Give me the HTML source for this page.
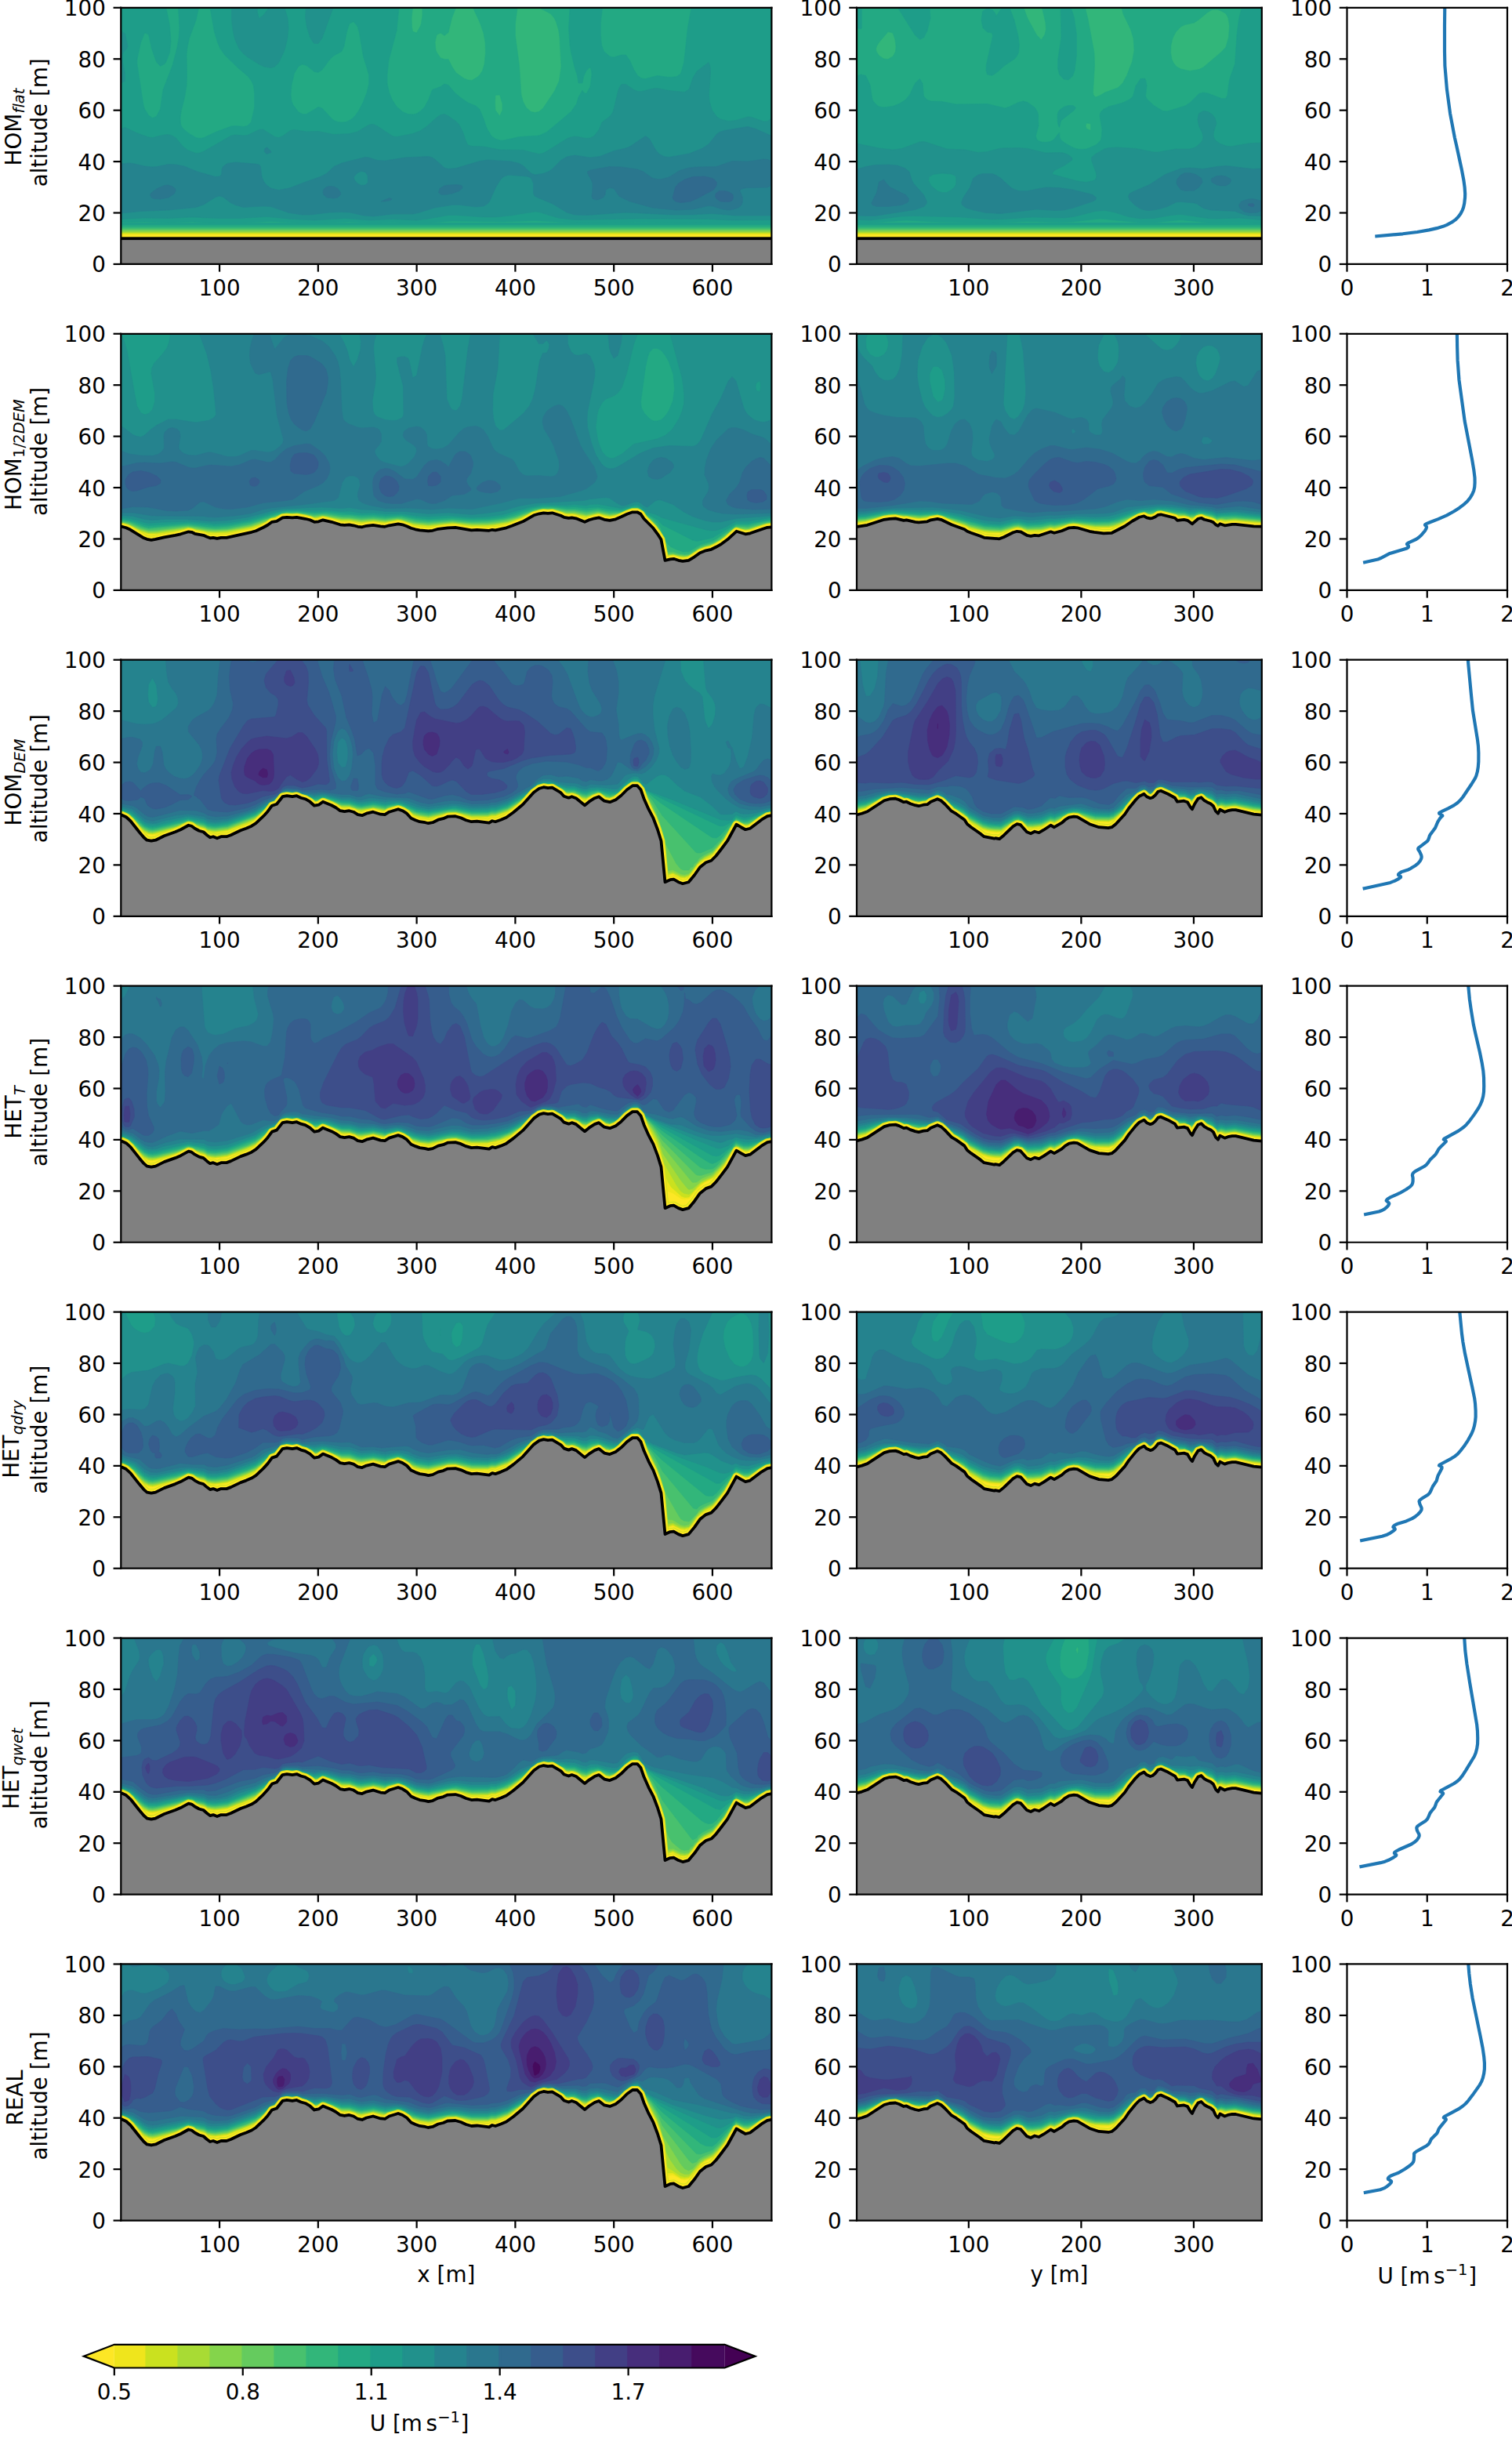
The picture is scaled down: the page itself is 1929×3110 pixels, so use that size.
<!DOCTYPE html>
<html><head><meta charset="utf-8"><title>Wind speed sections</title><style>html,body{margin:0;padding:0;background:#fff;}#fig{display:block;}</style></head><body>
<svg id="fig" xmlns="http://www.w3.org/2000/svg" xmlns:xlink="http://www.w3.org/1999/xlink" width="1929" height="3110" viewBox="0 0 1929 3110">
<defs><path id="a0" d="M293 396l18 0 11 5 11 10 23 29 11 13 8 7 11 2 11-2 22-11 28-10 14-6 20-11 8 2 8 6 11 6 11 3 9 8 8 6 8-2 10 4 10-4 14 0 11-4 25-12 14-5 14-6 11-7 19-18 11-12 11-15 12-4 15-19 11-2 14 2 11-2 11 5 11 3 12 7 11 10 11-2 11-8 22 9 11 6 11 8 11 2 12-2 11 3 11 7 11 2 11-5 17-4 19 6 11 1 11-7 23-7 11 4 11 7 11 12 11 5 11 4 14 2 8 2 11-2 14-7 13-3 11-5 20-1 14 4 13 6 14 4 14-1 31 4 8-5 8 2 14-5 14-6 18-13 24-20 28-31 14-10 11-3 11 2 11-1 22 13 8 9 12 4 8-3 11 4 22 18 11-9 14-9 11-4 14 11 14 3 15-6 14-11 15-15 14-10 12 0 9 10 8 23 12 27 12 23 11 29 9 29 10 105 13-6 9-1 12 7 11 4 15-4 15-18 14-20 15-12 14-5 12-12 14-18 15-20 23-42 12 7 11 6 12-3 29-22 15-9 11-2 16 0"/>
<path id="a0f" d="M293 396l18 0 11 5 11 10 23 29 11 13 8 7 11 2 11-2 22-11 28-10 14-6 20-11 8 2 8 6 11 6 11 3 9 8 8 6 8-2 10 4 10-4 14 0 11-4 25-12 14-5 14-6 11-7 19-18 11-12 11-15 12-4 15-19 11-2 14 2 11-2 11 5 11 3 12 7 11 10 11-2 11-8 22 9 11 6 11 8 11 2 12-2 11 3 11 7 11 2 11-5 17-4 19 6 11 1 11-7 23-7 11 4 11 7 11 12 11 5 11 4 14 2 8 2 11-2 14-7 13-3 11-5 20-1 14 4 13 6 14 4 14-1 31 4 8-5 8 2 14-5 14-6 18-13 24-20 28-31 14-10 11-3 11 2 11-1 22 13 8 9 12 4 8-3 11 4 22 18 11-9 14-9 11-4 14 11 14 3 15-6 14-11 15-15 14-10 12 0 9 10 8 23 12 27 12 23 11 29 9 29 10 105 13-6 9-1 12 7 11 4 15-4 15-18 14-20 15-12 14-5 12-12 14-18 15-20 23-42 12 7 11 6 12-3 29-22 15-9 11-2 16 0V666H293z"/>
<path id="a0n" d="M293 396l18 0 11 5 11 10 23 29 11 13 8 7 11 2 11-2 22-11 28-10 14-6 20-11 8 2 8 6 11 6 11 3 9 8 8 6 8-2 10 4 10-4 14 0 11-4 25-12 14-5 14-6 11-7 19-18 11-12 11-15 12-4 15-19 11-2 14 2 11-2 11 5 11 3 12 7 11 10 11-2 11-8 22 9 11 6 11 8 11 2 12-2 11 3 11 7 11 2 11-5 17-4 19 6 11 1 11-7 23-7 11 4 11 7 11 12 11 5 11 4 14 2 8 2 11-2 14-7 13-3 11-5 20-1 14 4 13 6 14 4 14-1 31 4 8-5 8 2 14-5 14-6 18-13 24-20 28-31 14-10 11-3 11 2 11-1 22 13 8 9 12 4 8-3 11 4 22 18 11-9 14-9 11-4 14 11 14 3 15-6 14-11 15-15 14-10 12 0 9 10 8 23 12 27 12 23 11 29M1848 473l8-11 23-42 12 7 11 6 12-3 29-22 15-9 11-2 16 0"/>
<path id="a1" d="M2170 395l17 0 12-3 14-5 43-28 14-4 15-1 9 3 12 6 7-1 10 5 12 4 9 2 12-3 10-1 9-7 17-7 9 4 10 9 17 18 12 7 21 15 7 11 10 8 23 16 10 8 26 5 3-1 10 2 11-9 24-23 10-6 9 2 16 18 10 4 10-5 11 3 12-7 18-12 9 5 19-11 9-8 10-6 12-2 9 1 31 18 12 4 12 4 12 1 12 1 9-2 10-8 23-25 10-15 9-11 9-11 9-9 12-6 7 7 9 4 6-2 7-6 7-9 7-2 18 8 18 10 6 10 17-2 9 3 7 12 5 6 6-13 9-14 8-3 8 8 7 4 9 4 7 6 6 13 6 6 5-10 12 6 8-3 11-2 9 0 46 11 21 2 16 0"/>
<path id="a1f" d="M2170 395l17 0 12-3 14-5 43-28 14-4 15-1 9 3 12 6 7-1 10 5 12 4 9 2 12-3 10-1 9-7 17-7 9 4 10 9 17 18 12 7 21 15 7 11 10 8 23 16 10 8 26 5 3-1 10 2 11-9 24-23 10-6 9 2 16 18 10 4 10-5 11 3 12-7 18-12 9 5 19-11 9-8 10-6 12-2 9 1 31 18 12 4 12 4 12 1 12 1 9-2 10-8 23-25 10-15 9-11 9-11 9-9 12-6 7 7 9 4 6-2 7-6 7-9 7-2 18 8 18 10 6 10 17-2 9 3 7 12 5 6 6-13 9-14 8-3 8 8 7 4 9 4 7 6 6 13 6 6 5-10 12 6 8-3 11-2 9 0 46 11 21 2 16 0V666H2170z"/>
<path id="b0" d="M293 492l18 0 11 3 11 5 34 21 8 3 11 2 11-2 22-5 28-5 14-3 20-6 8 1 8 4 11 2 11 2 9 4 8 3 8-1 10 2 10-2 14 0 64-14 11-3 19-9 11-6 11-8 12-2 15-9 11-1 14 1 11-1 22 4 12 3 11 5 11-1 11-4 22 5 22 7 11 1 12-1 11 2 11 3 11 1 11-3 17-2 19 3 11 1 11-3 23-4 11 2 11 4 11 5 11 3 11 2 22 2 11-1 14-4 24-3 20-1 41 7 14-1 31 2 8-2 8 1 28-6 14-5 28-11 28-16 14-4 11-2 11 1 11-1 22 7 8 4 12 2 8-1 11 2 22 9 11-5 14-4 11-2 14 5 14 2 15-3 14-6 15-7 14-5 12 0 9 5 8 12 24 24 11 15 9 14 10 53 13-3 9-1 12 4 11 2 15-2 15-9 14-10 15-6 14-3 12-6 14-8 15-11 23-21 23 7 12-2 29-10 15-5 11-1 16 0"/>
<path id="b0f" d="M293 492l18 0 11 3 11 5 34 21 8 3 11 2 11-2 22-5 28-5 14-3 20-6 8 1 8 4 11 2 11 2 9 4 8 3 8-1 10 2 10-2 14 0 64-14 11-3 19-9 11-6 11-8 12-2 15-9 11-1 14 1 11-1 22 4 12 3 11 5 11-1 11-4 22 5 22 7 11 1 12-1 11 2 11 3 11 1 11-3 17-2 19 3 11 1 11-3 23-4 11 2 11 4 11 5 11 3 11 2 22 2 11-1 14-4 24-3 20-1 41 7 14-1 31 2 8-2 8 1 28-6 14-5 28-11 28-16 14-4 11-2 11 1 11-1 22 7 8 4 12 2 8-1 11 2 22 9 11-5 14-4 11-2 14 5 14 2 15-3 14-6 15-7 14-5 12 0 9 5 8 12 24 24 11 15 9 14 10 53 13-3 9-1 12 4 11 2 15-2 15-9 14-10 15-6 14-3 12-6 14-8 15-11 23-21 23 7 12-2 29-10 15-5 11-1 16 0V666H293z"/>
<path id="b0n" d="M293 492l18 0 11 3 11 5 34 21 8 3 11 2 11-2 22-5 28-5 14-3 20-6 8 1 8 4 11 2 11 2 9 4 8 3 8-1 10 2 10-2 14 0 64-14 11-3 19-9 11-6 11-8 12-2 15-9 11-1 14 1 11-1 22 4 12 3 11 5 11-1 11-4 22 5 22 7 11 1 12-1 11 2 11 3 11 1 11-3 17-2 19 3 11 1 11-3 23-4 11 2 11 4 11 5 11 3 11 2 22 2 11-1 14-4 24-3 20-1 41 7 14-1 31 2 8-2 8 1 28-6 14-5 28-11 28-16 14-4 11-2 11 1 11-1 22 7 8 4 12 2 8-1 11 2 22 9 11-5 14-4 11-2 14 5 14 2 15-3 14-6 15-7 14-5 12 0 9 5 8 12 24 24 11 15M1848 531l8-6 23-21 23 7 12-2 29-10 15-5 11-1 16 0"/>
<path id="b1" d="M2170 492l17 0 26-4 43-14 14-2 15-1 21 5 7-1 22 5 9 1 22-2 9-4 17-3 9 2 27 13 33 12 7 5 10 4 23 8 10 4 39 3 11-4 24-12 10-3 9 1 16 9 10 2 10-2 11 1 30-10 9 3 19-5 19-8 12-1 9 1 31 9 12 2 24 3 21-1 33-17 19-13 18-10 12-3 7 4 9 2 6-1 7-3 7-5 7-1 36 9 6 6 17-2 9 2 12 9 15-13 8-2 8 4 16 4 7 3 6 6 6 3 5-5 12 4 19-3 9 0 46 5 37 1"/>
<path id="b1f" d="M2170 492l17 0 26-4 43-14 14-2 15-1 21 5 7-1 22 5 9 1 22-2 9-4 17-3 9 2 27 13 33 12 7 5 10 4 23 8 10 4 39 3 11-4 24-12 10-3 9 1 16 9 10 2 10-2 11 1 30-10 9 3 19-5 19-8 12-1 9 1 31 9 12 2 24 3 21-1 33-17 19-13 18-10 12-3 7 4 9 2 6-1 7-3 7-5 7-1 36 9 6 6 17-2 9 2 12 9 15-13 8-2 8 4 16 4 7 3 6 6 6 3 5-5 12 4 19-3 9 0 46 5 37 1V666H2170z"/></defs>
<clipPath id="c00"><rect x="154.3" y="9.8" width="830.1" height="327.1"/></clipPath>
<g clip-path="url(#c00)">
<rect x="154.3" y="9.8" width="830.1" height="327.1" fill="#fde725"/>
<g transform="scale(0.5)" stroke-width="1.2" fill-rule="evenodd">
<path fill="#efe51c" stroke="#efe51c" d="M309 595l0 3 251 0 1409 0 0-578-1660 0z"/>
<path fill="#cae11f" stroke="#cae11f" d="M309 595l1660 0 0-575-1660 0z"/>
<path fill="#a8db34" stroke="#a8db34" d="M309 592l261 2 413-2 100 2 886-1 0-573-1660 0z"/>
<path fill="#84d44b" stroke="#84d44b" d="M309 589l0 1 261 2 413-3 90 2 896-1 0-570-1660 0z"/>
<path fill="#65cb5e" stroke="#65cb5e" d="M564 589l419-3 90 3 151-2 745 0 0-567-1660 0 0 567 181 0z"/>
<path fill="#48c16e" stroke="#48c16e" d="M567 586l134-3 111 2 171-3 90 3 151-2 91 1 332-1 201 2 121-1 0-564-1660 0 0 563 181 0z"/>
<path fill="#32b67a" stroke="#32b67a" d="M309 579l181 0 80 3 141-4 101 3 80-3 101 0 80 4 141-4 242 2 191-1 211 2 111-2 0-559-1660 0z"/>
<path fill="#23a983" stroke="#23a983" d="M539 576l61 0 101-3 101 3 90-3 111 0 70 4 131-4 101 1 70-1 91 2 181-2 211 3 111-2 0-554-593 0 29 15 10 12 4 9 6 19 3 20 4 75-5 36-12 26-30 45-10 8-10 2-10-2-12-10-8-15-5-18-5-75-10-75 0-33 5-39-113 0 18 39 9 26 4 23 1 26-3 30-5 16-6 10-6 6-15 9-10-1-10-4-20-14-10-15-10-20-10 0-10-3-10-15-2-5-2-20 4-19 10-5 10 7 10-8 9-37 10-26-85 0 0 19-3 20-2 7-10 18-10-4-2-11-1-23 3-26-744 0 0 554 120 1 61-2zM1275 296l-11-15-1-19 1-19 11-1 7 23 0 16z"/>
<path fill="#1e9d89" stroke="#1e9d89" d="M549 569l61 0 81-4 101 5 100-4 61 3 50-2 60 4 91-7 131 2 80-3 105 6 167-2 231 3 101-1 0-549-205 0-9 49-10 91-8 28-10 7-6 1-14 1-30-4-30 8-10-1-10-7-10-16-10-23-10-14-11 0-20 6-10-2-15-13-6-16-2-23 0-36 4-36-83 0-3 52 3 43 2 13 10 44 7 21 3 19 10 0 3-16 7-16 10-9 3 9 1 10-4 31-10 18-7-3-3-6-10 18-5 17-14 20-62 52-20 9-50 3-40 9-10 0-11-4-10-7-12-20-8-24-10-24-10-9-20-8-20-14-14-12-16-19-10-3-10 7-21 8-10 26-9 17-11 11-10 7-10 2-12-1-14-6-15-13-11-17-8-19-5-23 0-23 4-36 20-75 6-59-482 0 11 62 8 26 7 16 12 17 33 32 27 23 9 13 4 10 2 17 0 39-8 36-10 10-10 2-21-2-10 1-40 15-30 14-10 2-10-2-20-12-14-12-5-10-1-16 2-16 9-36 5-30 1-29-1-49 2-20 5-23 17-46 7-32-52 0 3 52-2 26-4 23-12 46-24 62-7 49-10 19-10 4-10-7-10-16-3-10-16-104 0-13 9-42 10-25 10 4 8 36 12 34 10 11 10-5 4-4 10-26 3-29-3-40-9-45-115 0 0 547 60-1 60 2 61-2zM862 311l-10-4-7-6-23-25-10-3-30 18-11 0-10-6-13-17-4-10-2-16 2-26 7-29 10-17 10-6 11 3 20 16 10 2 10-7 20-27 10-9 20-11 6-13 6-33 6-20 2-5 10-5 10 12 5 18 10 59 14 46 0 26-5 20-10 26-10 19-9 13-10 10-14 7-11 1z"/>
<path fill="#21918c" stroke="#21918c" d="M745 559l57 3 80-5 60 5 61-3 60 3 25-3 56-10 20 0 70 5 30 0 39-4 62-10 10 1 49 15 42 5 161-3 181 1 60 3 101-1 0-260-10 8-10 1-31-11-10-1-30 9-20 2-20-5-9-6-12-17-7-23-1-19 4-56-1-13-4-11-30 23-10 17-10 29-11 7-40-4-30-6-10 1-30 7-10 0-10-4-20-14-11 0-5 7-4 10-11 47-3 9-7 9-20 15-7 18-13 17-10 5-10 1-20-4-10-1-10 2-10 4-51 32-10 5-10 2-40-10-60-1-41-8-30-1-10-3-4-7-9-26-10-20-7-7-20-14-10-5-10 2-10 7-27 24-15 10-19 7-40 8-10-1-40-26-10-5-11 1-30 18-20 5-40 2-40-8-30 1-31-5-10 2-20 14-10 4-10-2-30-19-10 1-30 14-10 1-21-2-10 2-70 40-10 4-10 1-21-8-13-10-17-21-10-6-10-3-10 1-30 7-10-1-28-10-32-15-10 4 0 230 60-3 60 1 61-3 70 3 50 0 71-4zM309 209l0 3 10-5 0-19-6-28-1-19 2-7 10-10 2-6-7-32-7-4-3-6zM673 170l18 3 10-3 10-10 14-29 8-30 3-29-2-26-8-26-40 0-15 20-10 7-4-14-1-13-65 0 0 32 4 30 5 20 10 22 11 13 10 8 30 19zM799 108l3 3 10 0 10-14 28-77-69 0-2 23 4 26 8 26zM309 23l0 3 1-6z"/>
<path fill="#25838e" stroke="#25838e" d="M928 550l25 2 50-6 50 0 15-3 41-13 45-7 20 0 40 5 20-2 10-6 5-6 16-36 12-20 8-7 10-4 10 0 40 3 10 4 6 14 0 26 4 7 45 19 36 22 20 6 30 1 101-7 120 6 41 0 60-3 60 5 91 0 0-203-40-18-21-6-60 10-12 4-8 6-20 25-17 11-33 13-51 9-13-2-12-6-10-12-15-27-10-7-40 27-10 4-31 7-35 14-25 3-40-6-20 4-15 9-23 23-9 6-14 5-20 3-10-4-20-19-10-6-20-5-61-4-20 3-60 18-20 2-10-3-25-22-6-4-10-3-60 3-50 8-20-1-21-7-10-1-60 15-20 9-18 17-17 9-40 14-36 14-30 6-20-5-12-9-7-10-4-10-3-26-4-5-10-2-51-4-20 3-11 8-3 7-1 13-2 3-3 2-10 1-46-13-34-14-21-4-20-1-28 6-12 1-20-2-30-7-10-1-20 2 0 126 50-5 70-3 71-7 20-7 30-19 10-3 10 3 18 14 12 6 21 6 50-3 20 1 46 16 34 5 21 0 50-6 30-1 20 1zM922 473l-10-5-8-10-1-7 9-10 10-4 10 2 6 9 1 17-7 7zM680 393l12-4-1-4-10-9-5 3-2 7z"/>
<path fill="#2a778e" stroke="#2a778e" d="M1725 536l43-2 40-9 10 1 22 7 18 3 10-1 16-5 8-7 3-9 0-10-7-17 1-3 7-3 12-2 51-1 10-6 0-61-10-4-10-1-41 6-40-1-40 14-50 1-20 2-24 7-27 17-20 5-10 0-13-3-22-16-15-6-41-6-31-1-49 9-7 4 0 4 9 16 4 10 0 13-2 20 2 6 4 2 10 1 13-6 5-7 2-13 10-5 10 2 14 20 27 13 58 16zM972 514l11 0 10-2 5-2 2-3-7-2zM394 507l15 1 21-4 15-10 3-7-1-6-8-6-10-3-10 1-20 9-12 9-4 6 3 7zM834 504l18 2 10-2 7-7 0-6-7-10-10-5-10-1-10 2-7 7-1 7 2 6zM1133 497l21-3 18-7 7-6 1-3-1-4-5-2-10-1-20 1-11 2-11 7-3 10 5 5z"/>
<path fill="#306a8e" stroke="#306a8e" d="M1724 514l13 3 10-1 14-2 17-7 43-23 7-10 1-9-6-7-5-3-20-5-30 1-21 7-16 10-8 10-7 26 3 6zM1838 514l20 1 10-3 3-8-1-7-3-3-9-5-10-2-13 0-9 7-1 7 3 6z"/>
</g></g>
<g clip-path="url(#c00)"><g transform="translate(0 9.84)">
<rect x="149.3" y="274.39" width="840.1" height="20.00" fill="#1e9d89"/>
<rect x="149.3" y="276.89" width="840.1" height="17.50" fill="#23a983"/>
<rect x="149.3" y="279.39" width="840.1" height="15.00" fill="#32b67a"/>
<rect x="149.3" y="281.39" width="840.1" height="13.00" fill="#48c16e"/>
<rect x="149.3" y="282.89" width="840.1" height="11.50" fill="#65cb5e"/>
<rect x="149.3" y="284.39" width="840.1" height="10.00" fill="#84d44b"/>
<rect x="149.3" y="285.89" width="840.1" height="8.50" fill="#a8db34"/>
<rect x="149.3" y="287.19" width="840.1" height="7.20" fill="#cae11f"/>
<rect x="149.3" y="288.39" width="840.1" height="6.00" fill="#efe51c"/>
<rect x="149.3" y="289.59" width="840.1" height="4.80" fill="#fde725"/>
<rect x="149.3" y="294.39" width="840.1" height="37.71" fill="#808080"/>
<rect x="149.3" y="292.49" width="840.1" height="3.8" fill="#000"/>
</g></g>
<clipPath id="c01"><rect x="1093.0" y="9.8" width="516.8" height="327.1"/></clipPath>
<g clip-path="url(#c01)">
<rect x="1093.0" y="9.8" width="516.8" height="327.1" fill="#fde725"/>
<g transform="scale(0.5)" stroke-width="1.2" fill-rule="evenodd">
<path fill="#efe51c" stroke="#efe51c" d="M2186 595l0 3 1034 0 0-578-1034 0z"/>
<path fill="#cae11f" stroke="#cae11f" d="M2186 595l1034 1 0-576-1034 0z"/>
<path fill="#a8db34" stroke="#a8db34" d="M2186 592l1034 1 0-573-1034 0z"/>
<path fill="#84d44b" stroke="#84d44b" d="M2186 589l0 2 1034 0 0-571-1034 0z"/>
<path fill="#65cb5e" stroke="#65cb5e" d="M2186 586l0 2 115-2 172 2 322-2 126 2 299 0 0-568-1034 0z"/>
<path fill="#48c16e" stroke="#48c16e" d="M2186 582l0 2 11 0 104-2 184 2 321-2 115 3 92-2 207 1 0-564-1034 0z"/>
<path fill="#32b67a" stroke="#32b67a" d="M2186 579l23 1 92-3 80 2 150 1 91-2 92 2 92-3 115 3 92-2 69 2 138 0 0-560-1034 0z"/>
<path fill="#23a983" stroke="#23a983" d="M2186 572l0 3 23 0 103-4 69 3 161 1 80-2 92 1 92-4 115 5 92-4 69 4 92-1 46 1 0-555-358 0 4 16 19 39 7 23 2 30-5 29-14 36-11 20-12 11-33 12-13 8-11 4-5-6-1-6 4-69-1-33-16-85-7-29-110 0 9 39 1 16-3 13-9 14-12-13-23-42-10-27-426 0zM2266 151l-11-1-12-8-7-11-1-7 2-6 6-10 23-27 12 3 6 17 2 17-1 13-5 10-2 3zM2783 333l-11-5-2-7 2-7 11 2zM3036 181l-23-5-11-6-8-10-4-9-3-17 1-19 4-17 8-16 13-14 11-5 23-5 12-8 23-19 11-6 12-1 11 4 9 5 4 3 5 10 3 19-2 30-7 25-12 13-46 39-11 5z"/>
<path fill="#1e9d89" stroke="#1e9d89" d="M2196 569l36-1 80-6 69 4 150 3 91-4 81 2 34-1 69-8 104 10 34 0 69-7 69 7 92-1 46 2 0-404-2-11 2-20 0-114-52 0-7 29-5 39-5 75-14 40-5 39-4 9-12 0-34-13-12-2-11 3-23 23-12 8-46 14-11-1-23-14-18-17-3-7 3-26-2-13-3-6-11 1-12 18-7 26-6 7-20 10-36 10-12 6-8 7-3 9 6 36-1 17-2 10-5 6-8 7-24 10-12 1-11-1-12-4-18-10-12-9-3-7-1-12-15 19-8 4-12 2-11-1-11-5-3-10 7-26-1-30-2-6-6-10-19-14-11-3-12 3-23 11-11 4-46-11-80 1-35-7-29-1-9-3-9-10-3-32-7-12-12 11-14 30-11 13-16 10-16 6-23 3-12-2-6-4-9-10-3-9-5-33-11-23-12-3-11 4 0 375zM2702 324l1 1 4-17 34-27 4-6-3-3-5-3-11 0-12 4-11 8-4 7-1 10 1 16zM2719 203l7 1 11-10 5-14 5-39 0-53-6-42-4-14-5-12-26 0 2 75-9 59 0 19 4 17 11 12zM2519 190l12 3 11-7 23-20 23-15 6-7 5-10 2-19-3-23-10-41-12-31-20 0-14 21-3-8-6-7-14-5-12 8-3 23 4 19 11 11 12 2 2 8-16 72-1 16zM2344 98l3 3 11-6 8-16 8-33-2-26-81 0 44 70zM2188 72l9 2 2-5 0-49-13 0 0 52z"/>
<path fill="#21918c" stroke="#21918c" d="M2186 559l0 2 11 0 23 1 81-10 34-1 115 3 81 6 31-1 72-5 80 2 26-3 55-14 23-2 23 4 38 12 31 5 34-1 46-8 23-2 69 10 23 1 57-2 58 5 0-197-35 2-46 8-11-2-16-6-12-9-4-10 1-10 7-23-4-13-7-9-6-4-5-3-12-2-11 7-3 14 3 17 9 19 2 13-5 10-11 10-7 4-11 3-35 0-46 8-11 0-46-9-46-3-23 1-11 3-23 13-10 9 0 7 12 33 1 9-3 7-6 3-17 4-23-3-62-17-2-3 5-7 26-13 19-13 1-3-1-4-9-7-12-5-11-1-35 1-46-11-23-2-45 1-35 9-23 2-34-7-46-2-58-19-11 1-46 17-23 3-35-4-57-12zM2404 491l-11-3-17-14-7-13 2-10 10-6 23-3 23 2 9 4 3 3 1 10-1 10-4 7-11 9-8 4z"/>
<path fill="#25838e" stroke="#25838e" d="M2192 550l17 1 23 0 103-16 23-8 6-7 1-6-8-17-26-29-5-10-6-20-11-9-20-7-23-2-34 1-23 4-23 7 0 117zM3185 550l35 1 0-121-23 1-69-8-23 2-35 6-34-3-23 2-40 15-40 26-46 20-5 3-3 7 3 9 13 13 15 10 11 3 11 1 23-3 24-7 22-11 12-1 34 3 7 2 16 11 19 5 62 3 19 7zM2516 543l38 2 91-11 46 3 23-1 23-5 51-17 7-4 2-3 0-3-9-7-10-3-41-10-34-5-35-1-46 9-23 0-11-4-9-5-25-23-12-8-11-4-23 0-12 3-13 9-8 23-17 26-5 13 2 6 9 7 19 6z"/>
<path fill="#2a778e" stroke="#2a778e" d="M3189 543l19-1 12-5 0-24-23-6-12 1-18 6-6 9 2 7 11 10zM2237 527l29 0 35-4 14-6 3-3 1-7-8-10-39-19-10-10-7-10-12 6-6 27-13 26 0 3 2 3zM3024 487l23-1 12-8 9-13-2-10-15-10-15-4-12 0-11 5-10 12-1 10 3 6 8 10zM3114 474l14 0 10-6 3-7-2-5-11-6-12-2-11 1-13 6-2 3 2 7 13 7z"/>
<path fill="#306a8e" stroke="#306a8e" d="M3192 527l5 1 4-5-4-4-12 1 0 4z"/>
</g></g>
<g clip-path="url(#c01)"><g transform="translate(0 9.84)">
<rect x="1088.0" y="274.39" width="526.8" height="20.00" fill="#1e9d89"/>
<rect x="1088.0" y="276.89" width="526.8" height="17.50" fill="#23a983"/>
<rect x="1088.0" y="279.39" width="526.8" height="15.00" fill="#32b67a"/>
<rect x="1088.0" y="281.39" width="526.8" height="13.00" fill="#48c16e"/>
<rect x="1088.0" y="282.89" width="526.8" height="11.50" fill="#65cb5e"/>
<rect x="1088.0" y="284.39" width="526.8" height="10.00" fill="#84d44b"/>
<rect x="1088.0" y="285.89" width="526.8" height="8.50" fill="#a8db34"/>
<rect x="1088.0" y="287.19" width="526.8" height="7.20" fill="#cae11f"/>
<rect x="1088.0" y="288.39" width="526.8" height="6.00" fill="#efe51c"/>
<rect x="1088.0" y="289.59" width="526.8" height="4.80" fill="#fde725"/>
<rect x="1088.0" y="294.39" width="526.8" height="37.71" fill="#808080"/>
<rect x="1088.0" y="292.49" width="526.8" height="3.8" fill="#000"/>
</g></g>
<clipPath id="c10"><rect x="154.3" y="425.8" width="830.1" height="327.1"/></clipPath>
<g clip-path="url(#c10)">
<rect x="154.3" y="425.8" width="830.1" height="327.1" fill="#fde725"/>
<g transform="scale(0.5)" stroke-width="1.2" fill-rule="evenodd">
<path fill="#efe51c" stroke="#efe51c" d="M1699 1421l18-2 20 4 21 0 16-9 2-3 9-3 3-5 38-12 19-10 1-3 9-3 3-5 5-2 5-7 7-2 3-8 20 5 10 0 10-2 33-12 18-4 0-486-1660 0 0 486 20 5 39 19 21 3 60-8 31-6 10 0 20 6 30 5 40-1 71-15 36-14 4-4 27-9 3-3 10-1 30 0 21 3 20 7 10 0 10-3 10 0 40 9 30 1 20 3 31-3 30 3 20-4 20 0 30 10 20 3 30 0 51-6 50 6 40 0 31-3 30-7 24-8 22-10 4-3 20-8 40 0 31 9 20 1 20 5 10 1 20-6 10 0 30 6 30-6 9-5 22-8 10 0 10 7 30 33 13 17 7 11 8 47z"/>
<path fill="#cae11f" stroke="#cae11f" d="M1732 1421l15 1 11-1 30-19 34-11 18-10 23-16 15-15 20 4 10 0 41-13 20-4 0-485-1660 0 0 485 20 4 28 14 22 7 20 0 81-13 40 7 10 3 20 1 30-1 61-12 32-11 18-9 23-8 7-4 10-1 30 0 21 3 20 6 20-3 10 0 40 9 20 0 30 4 31-2 30 3 33-5 17 3 22 7 38 4 61-6 50 5 40 0 20-2 31-5 30-10 40-18 20-4 30 1 31 8 20 1 30 6 30-7 20 5 10 2 10-2 20-4 31-12 10 1 7 4 33 34 18 25 3 7 9 47 20-2z"/>
<path fill="#a8db34" stroke="#a8db34" d="M1737 1421l21-2 30-18 31-10 32-19 27-23 20 4 10 0 41-13 20-4 0-484-1660 0 0 483 20 5 30 14 20 6 20 0 61-8 20-4 40 6 10 3 20 1 30-1 61-12 30-10 50-21 10-1 30 0 21 3 20 6 20-4 10 1 40 8 20 0 30 5 31-3 30 3 30-5 10 1 30 9 40 4 61-6 50 5 40 0 20-2 31-5 30-10 40-17 20-4 30 1 31 7 20 1 30 6 30-6 30 6 30-6 31-10 10 0 7 4 33 34 19 26 11 53 20-2z"/>
<path fill="#84d44b" stroke="#84d44b" d="M1729 1417l18 3 11-2 30-19 30-9 31-18 29-24 20 3 10 0 41-13 20-3 0-483-1660 0 0 482 20 4 30 14 20 6 20-1 81-11 50 9 20 1 30-2 61-11 30-10 50-20 10-1 30 0 21 2 20 6 20-3 10 0 40 8 20 0 30 5 31-3 30 3 30-4 10 0 35 10 35 3 61-6 50 5 40 0 20-2 31-5 30-10 40-16 20-5 30 2 31 7 20 0 30 6 30-6 30 6 30-5 31-10 10 0 7 4 33 33 14 18 7 13 9 48 20-2z"/>
<path fill="#65cb5e" stroke="#65cb5e" d="M1736 1417l11 1 11-2 30-18 30-10 20-11 40-31 20 3 10 0 41-12 20-4 0-481-1660 0 0 480 20 5 30 13 20 5 20 0 81-11 50 9 20 1 30-2 61-11 30-10 50-19 10-2 30 1 21 2 20 5 20-3 10 1 40 7 20 0 30 4 31-2 30 3 30-4 10 1 30 8 40 4 61-6 50 5 39 0 21-2 31-5 30-10 40-16 20-4 30 1 31 7 20 0 30 6 30-6 30 6 30-4 31-11 10 0 7 4 33 33 14 17 7 13 9 50 20-2z"/>
<path fill="#48c16e" stroke="#48c16e" d="M1731 1414l16 2 11-1 30-20 30-9 20-11 40-31 30 3 41-12 20-4 0-479-1660 0 0 478 20 4 30 13 20 6 19-1 82-10 50 8 20 1 30-1 61-12 80-28 10-1 30 0 21 2 20 5 20-3 10 1 40 6 20 1 30 4 31-2 30 3 30-4 10 1 40 9 30 2 61-5 50 5 40-1 41-5 30-8 50-19 20-3 30 0 31 6 20 0 30 6 30-5 30 6 30-4 31-10 10 0 7 4 33 31 14 17 7 13 9 50 20-1z"/>
<path fill="#32b67a" stroke="#32b67a" d="M1729 1411l18 3 11-2 30-19 30-9 10-6 50-36 30 2 41-11 20-4 0-477-1660 0 0 476 20 4 30 12 20 5 101-9 50 7 20 2 30-2 61-11 80-27 10-2 30 0 41 6 20-2 10 0 40 7 20 0 30 4 31-2 30 3 30-3 10 0 40 9 30 2 61-4 50 4 40-1 41-5 30-7 50-18 20-4 30 0 31 5 20 0 30 5 30-4 30 6 30-2 31-11 10 1 7 3 10 11 23 18 14 17 7 14 9 49 20-1z"/>
<path fill="#23a983" stroke="#23a983" d="M1743 1408l15-1 30-18 30-9 10-6 50-35 30 1 41-10 20-3 0-475-1660 0 0 474 20 3 40 15 10 2 101-9 50 7 20 1 30-2 61-11 80-25 10-1 30-1 41 5 30-2 40 6 20 0 30 4 31-1 30 3 40-3 40 8 30 3 61-4 50 4 40-1 41-5 24-6 56-19 20-3 20-1 41 5 20 0 30 4 30-4 22 5 18 1 20-1 31-9 10 0 7 3 12 13 21 14 13 13 7 12 8 30 10 10 6 6 13 6z"/>
<path fill="#1e9d89" stroke="#1e9d89" d="M1767 1378l11 3 40-9 60-36 30 0 61-12 0-472-1660 0 0 471 30 6 30 10 10 2 101-7 70 7 30-2 58-10 53-16 30-9 10-1 30 0 41 4 30-2 90 9 31-1 30 3 40-2 40 7 30 3 61-4 50 4 40-1 41-5 71-22 29-5 30 0 31 3 20-1 30 4 10-2 20-1 30 5 30 2 31-10 10 0 7 4 16 15 28 16 12 13zM1672 1074l-5 0-10-6-13-14-7-13-2-16 12-88 6-27 4-11 7-7 3-3 10 0 10 5 10 12 10 18 11 32 3 36-4 30-10 25-10 15-10 9-10 3z"/>
<path fill="#21918c" stroke="#21918c" d="M1802 1352l16 2 10-1 20-7 30-16 30 0 61-10 0-468-259 0 30 111 4 26 2 23-1 19-4 17-8 19-18 29-18 15-21 9-59 13-31 26-20 10-10 0-10-5-10-12-10-26-6-36 4-32 2-11 10-19 10-10 20-8 10-7 10-13 13-37 18-75 10-26-1192 0-3 19-6 17-12 16-21 23-6 13-1 13 9 49 0 23-6 20-10 10-10 3-10-5-10-18-25-141-8-26-7-16 0 467 30 5 30 9 10 2 40-3 61-2 70 6 30-2 51-8 60-17 40-8 30-1 41 2 30-1 40 4 20-1 30 5 31-1 30 3 40-1 40 6 30 2 51-3 60 5 40-2 38-5 70-20 33-6 61 2 20-2 30 3 10-3 20-1 60 11 31-9 10-1 7 4 18 15 25 8 13 7zM1939 1000l-10-4-1-10 1-8 10-7 2 15z"/>
<path fill="#25838e" stroke="#25838e" d="M1820 1332l18 0 40-9 91-7 0-246-8 4-12 3-10-1-15-5-16-13-7-10-4-10-19-66-10-11-10 12-20 46-20 35-30 69-10 12-10 4-61-2-40 6-33 13-58 35-10 4-10 1-10-3-10-8-15-23-12-32-10-40-1-19 1-20 18-88 1-17-3-16-9-21-10-7-20 5-10-2-9-8-8-19 0-26-89 0 15 25 10 0 10-9 7 10-1 10-6 12-10 1-8 19-11 72-7 26-8 17-16 20-50 42-10 1-11-12-5-19-2-22 1-40 12-65 5-88-74 0-7 37-15 129-5 18-10 12-10-3-4-4-10-23-4-111-6-29-8-26-32 0-7 14-5 18-15 74-10 6-9-44-3-6-8-4-10 0-10 3 0 11 16 62 1 68-1 7-5 6-11 5-10 1-20-2-19-7-8-6-4-10-2-26 7-40 2-22-6-72 2-17 5-19-42 0 3 19-1 20-8 27-10 18-10-18-5-21-9-23-13-22-356 0 19 52 10 42 7 46 5 49 1 17-4 6-7 5-10 4-30 5-51-8-20 0-28 14-18 13-14 13-10 5-10-2-10-4-30-23 0 229 30 2 30 8 20 2 30-2 61 0 60 5 40-2 55-9 56-15 30-6 101-4 50 3 20-2 30 5 31 1 30 4 50 0 60 6 51-3 60 5 40-4 41-6 40-12 40-7 125-7 16-4 40-4 10 2 17 12 13 7 11-1 20-8 10-1 7 3 10 8 8 3 20-16 10-3 5 1 30 11 28 19 23 12 30 10zM1564 910l2 4 10-7 9-33 2-22-35 0 3 36 4 13z"/>
<path fill="#2a778e" stroke="#2a778e" d="M529 1319l21 1 50-4 40-6 31-10 20-4 80-8 82-11 10-7 10-39 9-13 10-4 10 0 10 4 5 6 2 14-6 19 0 10 3 10 9 6 17 6 41 8 60-1 60 4 41-4 60 3 76-16 45-12 50 0 54-4 57-16 10-4 21-16 6-10 1-6-8-24-26-39-9-16-25-67-10-21-10-12-11-4-15 6-15 11-9 15-2 13 4 17 17 28 7 14 14 39 1 13-1 10-4 10-7 6-10 2-30-3-30 1-10-3-10-9-12-23-6-7-32-14-11-7-6-8-14-31-10-15-10-7-10-3-20 2-10 4-12 10-28 32-13 8-17 3-11-1-11-6-2-6-1-23-4-10-7-6-5-4-10-2-20 4-12 8-3 10 3 7 5 6 20 13 6 7 1 9-6 14-15 16-9 6-10 3-45-12-7-4-6-6-7-10-2-7 2-6 9-10 6-10 0-19-5-10-5-4-10-3-31 2-10-2-23-9-10-7-4-7-3-22-3-76-3-29-4-17-7-16-16-23-17-14-30-13-27-5-25 0-15 9-24 30-14-39-38 0-6 16-5 20-1 19 2 20 12 25 10 4 20-6 10-2 0 2 5 19 11 92 16 59-1 10-8 9-13 10-10 4-10 1-30-5-10 0-31 14-10 2-20 0-40-11-10 0-30 8-20-1-13-5-10-10-1-7 4-26-2-13-7-6-12-3-10 3-9 9-2 10 1 30-6 9-9 7-15 4-31-1-29-4-20-8 0 158 30 0 50 8 131 1zM1844 1310l34 2 91-3 0-173-10-11-10-8-31-10-20-10-20-6-10 0-10 3-30 29-15 23-10 26-4 20-1 19 10 23 1 10-2 10-14 23 0 10 3 6 10 7 19 6zM1664 1221l13 2 10-3 23-15 9-13-1-7-4-6-15-10-12-2-10 2-10 5-10 12-5 16 3 13z"/>
<path fill="#306a8e" stroke="#306a8e" d="M426 1303l23 1 31-2 12-6 18-15 10-1 30 14 20 4 20 1 41-5 40-11 60-6 16-3 7-4 22-16 36-15 13-8 9-10 6-13 2-13-2-13-11-20-14-13-23-16-10-1-31 5-20 8-14 11-16 17-10 6-10 0-30-7-10 1-31 13-20 4-50-4-10 1-30 7-10 0-10-2-31-13-10-1-30 4-40-2-20 1-40 10 0 107 30-5 40 1zM1921 1300l48-1 0-109-20-21-10-2-10 4-11 6-15 15-8 13-8 26-9 14-16 15-9 17 4 10 11 6 10 3zM983 1283l20 2 20 0 40-12 10 1 20 9 10 2 11-1 20-7 20-13 30-3 8-4 9-6 1-4-8-10-4-9 1-7 10-13 6-20 0-9-6-17-7-6-7-4-14 0-9 5-4 5-16 30-6-7-14-9-10-3-14 2-7 3-10 9-20 30-10 6-20-1-27-20-13-6-10-1-13 3-9 7-8 13-2 13 1 20 2 13 4 6 7 7zM1240 1257l14 1 16-4 7-7-1-9-12-10-10-2-10 0-13 5-13 10-2 6 3 4 7 3zM781 1100l11-6 10-19 30-72 4-21 1-19-5-21-10-13-7-5-23-14-10-3-21 0-10 3-10 10-6 20-4 33 1 55 4 23 7 20 8 11 10 8 10 7z"/>
<path fill="#365d8d" stroke="#365d8d" d="M1915 1280l14 3 18-3 9-6 0-10-7-11-4-2-6-2-21 0-10 6-2 9 2 12zM991 1267l12-1 8-6 6-9 1-10-5-13-10-9-10-4-10-1-11 7-4 13 0 10 5 13 10 8zM331 1251l8 2 10-1 30-10 20-3 10-6 1-9-11-10-20-9-20-4-20 3-11 7-8 13 0 10 2 7 4 6zM648 1241l9-3 5-7-1-7-10-6-10 2-5 8 3 10zM1093 1238l0 1 10 1 11-2 10-8 0-15-10-11-11 1-10 10-2 13zM750 1208l32 3 10-2 10-4 8-10 2-7 0-10-5-9-5-7-6-3-14-4-21 1-10 3-7 10-4 19 2 14z"/>
</g></g>
<g clip-path="url(#c10)"><g transform="translate(0 425.78) scale(0.5)" fill="none" stroke-linejoin="round">
<use href="#b0" stroke="#cae11f" stroke-width="20.0"/>
<use href="#b0" stroke="#efe51c" stroke-width="17.2"/>
<use href="#b0" stroke="#fde725" stroke-width="14.4"/>
<use href="#b0f" fill="#808080"/>
<use href="#b0" stroke="#000" stroke-width="7.6"/>
</g></g>
<clipPath id="c11"><rect x="1093.0" y="425.8" width="516.8" height="327.1"/></clipPath>
<g clip-path="url(#c11)">
<rect x="1093.0" y="425.8" width="516.8" height="327.1" fill="#fde725"/>
<g transform="scale(0.5)" stroke-width="1.2" fill-rule="evenodd">
<path fill="#efe51c" stroke="#efe51c" d="M2510 1359l9 1 35 1 34-10 11-2 23 8 23 0 35-7 11 1 35-10 11 0 12 0 34 6 46 1 16-3 26-9 2-4 10-3 2-3 10-3 2-4 13-4 11-1 11 3 20-4 3-4 13 1 33 8 23 3 12 4 18-2 5-5 11 0 23 7 3 4 9 3 46-2 69 6 0-484-1034 0 0 483 34-4 46-12 23 0 12 2 46 4 23-1 23-5 13 4 12 6 33 10 14 6z"/>
<path fill="#cae11f" stroke="#cae11f" d="M2523 1359l31 0 34-10 11-2 23 8 35-1 23-6 11 1 46-10 12 0 46 7 34 0 12-2 23-8 30-17 16-5 11-2 11 3 12-1 11-6 19 2 27 7 23 2 12 4 11 0 12-7 11 1 23 6 12 7 11-2 12 2 23-2 69 6 0-482-1034 0 0 481 23-2 57-14 23 0 58 7 46-6 69 23 11 6 35 9z"/>
<path fill="#a8db34" stroke="#a8db34" d="M2513 1355l41 2 34-10 11-1 23 7 35-1 23-6 11 1 46-10 12 0 46 7 34 0 12-2 23-8 28-15 18-7 11-1 11 3 12-2 11-5 12 0 34 8 23 2 12 5 11-1 12-6 11 1 23 6 12 7 11-2 12 1 23-1 69 6 0-481-1034 0 0 480 23-3 57-13 23 0 58 7 46-6 69 22 11 6z"/>
<path fill="#84d44b" stroke="#84d44b" d="M2538 1355l16 0 34-10 11-1 23 7 35-1 23-5 11 1 46-10 12 0 46 6 34 0 12-2 23-8 46-21 11-1 11 3 12-2 11-5 23 2 23 6 23 2 12 4 11 0 12-6 11 1 23 5 12 7 11-2 12 1 23-1 69 6 0-479-1034 0 0 478 23-2 57-13 23 0 58 6 46-5 69 22 11 5 35 9z"/>
<path fill="#65cb5e" stroke="#65cb5e" d="M2522 1352l32 1 34-10 11-1 23 7 35-1 23-5 11 0 46-9 12 0 46 6 34 0 12-2 23-8 46-20 11-1 11 2 12-1 11-5 12 0 34 7 23 2 12 5 11-1 12-6 11 1 23 6 12 6 11-2 12 2 23-2 69 6 0-477-1034 0 0 476 23-2 57-12 23-1 58 6 46-5 69 22 11 5 35 9z"/>
<path fill="#48c16e" stroke="#48c16e" d="M2516 1349l38 2 34-10 11-1 23 7 35-2 23-5 11 1 46-9 58 6 34-1 23-5 58-24 11-1 11 2 12-1 11-5 23 2 23 5 23 2 12 5 11-1 12-5 11 1 23 5 12 6 11-2 12 2 23-2 69 6 0-475-1034 0 0 474 23-2 57-12 23 0 58 5 46-4 69 20 11 5z"/>
<path fill="#32b67a" stroke="#32b67a" d="M2513 1345l41 3 34-9 11-1 23 6 35-1 23-5 11 1 46-9 58 5 34-1 23-5 58-22 11-1 11 1 12-1 11-4 12 0 34 6 23 2 12 4 11 0 12-5 11 1 23 5 12 6 11-2 35 0 69 6 0-473-1034 0 0 472 23-2 57-11 23-1 58 5 46-4 69 20 11 5z"/>
<path fill="#23a983" stroke="#23a983" d="M2512 1342l42 3 34-9 11-1 23 6 35-2 23-4 11 1 46-8 58 4 34-1 23-5 58-21 11-1 11 1 23-5 23 1 23 5 23 2 12 4 11-1 12-4 11 1 23 5 12 5 11-1 35-1 69 6 0-470-1034 0 0 469 23-2 46-9 23-2 69 5 46-3z"/>
<path fill="#1e9d89" stroke="#1e9d89" d="M2515 1339l39 2 34-8 11-1 23 5 35-1 23-5 11 1 46-7 58 4 34-1 12-2 69-24 11-1 11 1 23-4 23 1 46 6 12 4 11 0 12-4 11 1 23 4 12 6 11-2 35-1 69 6 0-467-1034 0 0 466 23-1 46-9 23-2 69 4 46-3 57 14 23 8z"/>
<path fill="#21918c" stroke="#21918c" d="M2527 1336l27 1 34-8 11-1 23 5 23-1 92-10 58 2 34-1 12-2 68-21 23-1 23-4 35 2 34 5 12 3 11 0 12-3 11 1 23 4 12 5 11-2 35-1 69 7 0-464-960 0 4 9 3 13-1 10-3 10-7 10-5 3-8 4-11 0-13-7-9-16-1-23 5-13-28 0 0 463 23-2 46-8 23-2 69 3 46-2 57 13 58 16zM2393 1026l-12-14-9-39 0-20 9-18 12 0 11 9 7 25 1 23-5 23-3 7z"/>
<path fill="#25838e" stroke="#25838e" d="M2522 1329l32 2 34-8 11 0 23 4 12 0 23-2 23-3 11 1 58-6 46 2 34-2 69-19 57-7 35 2 34 4 12 4 23-2 11 1 23 4 12 4 46-3 69 7 0-460-205 0-5 16-9 13-11 10-12 3-11-2-11-8-35-32-78 0 8 16 3 10 1 16-1 20-2 11-11 18-12 8-11-2-6-6-7-10-4-16 0-16 2-20 14-29-215 0 9 45 6 85 0 27-2 19-4 15-12 19-11 8-12-5-11-17-5-17 10-179-266 0-2 49-6 39-7 16-5 7-6 5-12 3-11-1-12-7-11-15-7-15-20-19-10-13-6-13-3-16 0 438 23-1 69-9 115 1 57 10 58 16zM3070 969l-11-12-4-11-4-19 2-17 6-13 11-12 12-4 11 1 12 8 6 11 3 13-3 13-9 26-9 13-11 6zM2393 1065l-12-4-8-7-13-16-7-16-9-36-4-30 2-36 11-36 14-23 14-8 12 1 11 7 12 15 13 31 6 43 1 62-3 23-5 10-12 11-12 7z"/>
<path fill="#2a778e" stroke="#2a778e" d="M2522 1319l32 3 34-6 46 3 46-5 11 1 58-4 69-1 23-3 34-13 80-8 35 1 46 8 34 1 23 3 12 4 11-2 46-1 58 7 0-364-12 4-23 36-11 4-23-15-12 2-46 23-23 6-11 0-12-6-10-8-13-16-11-10-12-2-24 5-10 4-12 8-16 27-18 23-11 10-12 3-11-3-6-3-11-13-2-13 3-40-2-6-5-4-4 7-20 16-5 7-1 10 6 23 0 9-4 10-23 30-2 10 2 19-2 7-4 3-12 0-13-7-4-6 0-16-3-7-3-4-12-5-11 1-12 3-11-2-35-15-46-10-11 3-12 14-23 42-11 9-12-2-5-5-10-13-7-14-12-6-4 4-7 13-7 33 2 13 5 13 7 13 0 7-5 6-14 5-23-3-11-6-5-6-2-10 4-29-1-23-7-19-12-11-12 1-13 10-10 19-10 33-7 10-6 4-7 2-16 0-11-5-8-11-3-13-3-33-5-10-6-6-10-5-46-1-34-5-21-6-15-6-7-7-6-10-20-75 0 349 23-1 69-8 103-2 69 8zM2737 1107l-3-7 3-7 8 7-1 3zM3070 1134l-5-8 2-6 3-6 12 1 11 8 0 3-8 7zM2529 950l2 3 11-19 1-14-1-20-11-6-5 13-2 17 1 13z"/>
<path fill="#306a8e" stroke="#306a8e" d="M2615 1306l19 2 46-4 11 1 104-7 24-5 33-13 23-6 35 3 34-3 46 4 46 10 57 5 12 4 57-6 58 9 0-128-23 3-12-1-57-7-58 6-23-4-23-10-11-2-12 3-11 6-12-1-23-12-11-2-12 3-8 5-8 7-6 8-12 8-11-1-12-4-37-21-32-10-34-4-35 5-11-1-35-9-11 0-24 9-16 10-11 10-30 35-11 9-12 6-11 4-23-1-46-9-34-21-23-7-23 0-69 7-23-1-12-6-18-13-16-4-23 3-23 6-28 14-18 12 0 97 23 0 65-7 73-12 23 1 34 5 75 3 17-7 4-3 8-12 6-5 17-5 11 2 9 7 3 6 2 20 6 6zM3001 1100l12-5 5-8 6-17 5-25-1-10-5-10-10-8-12-2-11 2-13 8-9 13-3 13 4 16 9 18 12 11z"/>
<path fill="#365d8d" stroke="#365d8d" d="M2670 1287l21 2 35-1 23-5 17-9 35-27 28-7 12-5 5-7 2-7-3-13-4-8-12-10-11-5-23-6-23-2-23 4-12-2-34-12-12 1-11 4-13 10-33 33-7 9-3 10 1 10 15 33 10 6zM3101 1287l4 0 46-8 23-1 23 2 23 7 0-83-69-18-35-2-92 9-17 5-17 9-12-1-11-20-12-10-11-3-12 4-11 15-4 16 1 13 3 9 11 9 35 4 22 17 47 16 23 6zM2223 1280l20 1 23-2 17-5 14-10 9-13 3-17-4-16-12-16-15-10-12-4-23-1-23 8-16 13-7 10-4 13 5 39 5 7 6 2z"/>
<path fill="#3d4e8a" stroke="#3d4e8a" d="M3098 1270l7 1 23-6 52-18 14-9 3-7-1-7-9-9-20-10-28-7-23-1-80 13-16 8-9 10-1 6 2 7 12 12 35 14 11 2zM2689 1254l14 3 6-3 2-3-1-7-7-11-12-7-11 4-3 8 3 8zM2265 1231l4-3 3-7-1-6-5-7-11-3-13 3-2 7 3 7 12 8z"/>
</g></g>
<g clip-path="url(#c11)"><g transform="translate(0 425.78) scale(0.5)" fill="none" stroke-linejoin="round">
<use href="#b1" stroke="#cae11f" stroke-width="20.0"/>
<use href="#b1" stroke="#efe51c" stroke-width="17.2"/>
<use href="#b1" stroke="#fde725" stroke-width="14.4"/>
<use href="#b1f" fill="#808080"/>
<use href="#b1" stroke="#000" stroke-width="7.6"/>
</g></g>
<clipPath id="c20"><rect x="154.3" y="841.7" width="830.1" height="327.1"/></clipPath>
<g clip-path="url(#c20)">
<rect x="154.3" y="841.7" width="830.1" height="327.1" fill="#fde725"/>
<g transform="scale(0.5)" stroke-width="1.2" fill-rule="evenodd">
<path fill="#efe51c" stroke="#efe51c" d="M1732 2240l15 1 17-5 3-10 8-3 2-10 8-3 3-10 7-3 3-4 25-12 3-7 10-6 1-7 8-3 3-10 7-3 2-10 7-3 3-14 7-3 2-3 2-12 20 8 10 0 17-6 2-3 9-3 3-5 17-8 1-4 12-2 0-394-1660 0 0 392 10 4 2 4 9 3 2 6 8 4 1 6 8 4 2 6 8 4 3 6 13 6 14 2 10-1 67-20 14-8 10 2 2 2 14 7 14 3 3 3 17 6 10 1 30-4 66-25 4-4 8-3 1-3 8-3 4-6 8-4 2-5 7-2 3-10 8-3 1-3 10-3 1-4 8-3 2-10 10-2 30 2 22 7 1 3 9 3 1 4 8 2 16-2 4-5 6 1 44 18 20 1 30 9 31-6 30 6 10-5 20-5 12 2 23 16 25 8 20 3 31-8 30-5 20 2 30 8 10-1 30 1 10-3 10 0 16-5 29-13 14-10 2-3 8-3 2-5 7-2 2-6 8-4 2-6 9-3 2-8 8-2 2-4 10-4 20 1 12 4 1 3 7 2 4 4 15 7 22 2 10 4 3 4 17 5 6-2 4-4 20-7 20 10 10 1 10-2 18-8 2-6 9-4 1-6 9-3 1-4 8-3 1-3 12 0 10 13 30 63 20 57 8 99 5 4 10-5 7-1z"/>
<path fill="#cae11f" stroke="#cae11f" d="M1747 2240l15-7 3-7 8-6 2-7 8-6 3-7 12-9 25-14 4-6 6-3 2-7 8-7 3-6 7-7 2-6 8-7 2-10 8-6 5-14 20 9 10 0 13-5 35-23 13-4 0-392-1660 0 0 391 10 4 12 8 1 3 10 7 3 6 6 3 4 7 13 10 11 5 10 1 10-2 63-17 18-9 10 1 10 6 20 6 7 5 13 4 10 1 30-4 53-20 21-10 33-26 2-7 8-3 2-3 8-3 4-5 6-2 4-11 10-3 30 3 23 8 18 11 11-1 9-6 10 2 40 16 20 1 20 7 10 2 31-6 30 6 10-5 20-5 14 4 26 16 10 3 30 6 51-12 10-1 10 0 40 10 40 0 10-3 10 0 34-13 31-19 12-10 4-6 7-4 3-5 7-5 3-5 5-1 5-6 10-3 20 1 13 5 15 9 13 6 20 1 17 10 13 3 19-10 11-3 20 10 10 2 25-9 4-6 8-4 2-6 7-3 2-4 10-6 3-2 10 1 11 14 28 59 17 45 5 17 9 98 3 1 17-5 20 10z"/>
<path fill="#a8db34" stroke="#a8db34" d="M1736 2236l11 1 12-4 4-7 7-6 3-7 8-6 2-7 15-11 21-12 32-36 2-6 9-10 4-10 7-6 3-10 2-2 20 8 10 1 10-5 36-22 15-5 0-391-1660 0 0 390 10 4 14 9 25 26 11 8 10 5 10 1 10-2 50-13 31-13 10 2 10 6 20 6 10 6 10 2 10 1 30-4 51-19 20-9 34-26 3-7 26-16 4-3 1-7 2-2 10-2 30 2 25 9 16 10 10-1 10-6 10 2 40 16 20 0 20 8 10 1 31-5 30 6 10-5 20-5 17 5 23 14 10 4 30 5 51-12 10 0 10 0 40 9 40 0 10-3 10 0 31-11 44-29 12-13 10-7 1-3 13-10 10-3 20 1 15 6 26 13 20 2 20 10 10 2 15-8 15-4 20 9 10 2 21-7 7-6 6-4 4-6 18-13 5-3 10 1 7 8 9 17 25 49 13 36 7 26 9 96 3 1 17-5z"/>
<path fill="#84d44b" stroke="#84d44b" d="M1736 2233l11 2 11-4 26-34 13-10 21-11 30-35 12-16 4-10 7-6 3-10 4-4 20 9 10 0 10-4 34-21 17-5 0-391-1660 0 0 389 10 3 11 8 29 27 10 8 10 5 10 1 10-2 50-13 31-12 10 2 10 6 20 5 10 6 10 2 10 1 30-4 51-19 20-9 32-24 4-7 29-19 2-7 3-2 10-3 30 2 27 10 14 9 10-2 10-5 10 2 40 15 20 1 20 7 10 1 31-5 30 6 10-4 20-5 13 3 27 15 10 4 30 5 51-11 10-1 10 0 40 9 40 0 10-3 10 0 31-11 42-27 36-33 12-4 20 1 41 19 20 1 20 10 10 2 11-6 19-6 20 10 10 2 20-7 12-9 4-6 18-13 7-4 10 1 7 7 14 25 20 39 13 33 7 30 9 95 3 1 17-4z"/>
<path fill="#65cb5e" stroke="#65cb5e" d="M1738 2230l9 1 11-3 27-34 13-10 20-11 30-35 14-23 7-6 4-10 5-5 20 8 10 0 10-4 32-19 19-6 0-390-1660 0 0 388 13 5 10 7 27 25 10 8 10 5 10 1 10-2 50-12 31-12 10 1 10 6 20 5 10 6 10 2 10 1 30-4 71-28 30-22 5-7 29-19 2-7 4-3 10-3 30 2 29 11 12 7 10-1 10-5 10 1 40 15 20 1 20 7 10 1 31-4 30 5 10-4 20-4 10 1 30 16 20 6 20 3 51-11 10 0 10 0 40 8 40 0 10-3 10 0 31-11 40-25 37-33 13-5 20 1 41 18 20 1 20 10 10 2 15-7 15-4 20 9 10 2 20-6 27-24 11-7 13 0 7 7 16 26 17 33 14 33 7 29 9 95 3 2 17-3z"/>
<path fill="#48c16e" stroke="#48c16e" d="M1744 2220l14 0 4-7 6-2 3-7 7-5 5-9 13-9 22-11 20-23 20-27 4-8 6-6 3-7 7-7 20 8 10 0 10-4 36-20 15-5 0-388-1660 0 0 387 16 6 10 7 24 23 10 7 10 5 10 1 10-1 50-13 31-11 10 2 10 5 20 5 10 6 10 2 10 0 30-4 71-27 30-21 7-9 26-16 2-7 5-4 10-2 30 2 24 7 17 10 10-2 10-4 10 1 40 15 20 0 20 7 10 1 31-4 30 5 10-4 20-4 10 2 30 15 20 6 20 3 51-11 10 0 10 0 40 8 40 0 10-3 10 0 31-11 40-25 35-31 15-6 20 1 41 18 20 1 20 9 10 2 19-8 11-3 20 9 10 2 20-5 25-23 10-7 6-2 10 0 7 8 18 27 15 25 11 24 10 33 4 29 34 63 11 13z"/>
<path fill="#32b67a" stroke="#32b67a" d="M1775 2174l3 2 10 0 30-13 20-21 24-33 6-6 4-7 6-6 20 8 10-1 43-21 18-6 0-387-1660 0 0 385 12 5 12 6 26 24 10 8 10 4 10 2 10-2 61-15 20-7 10 1 10 5 20 5 10 5 10 2 10 1 30-4 71-27 30-21 6-7 25-16 4-7 5-5 10-2 30 2 27 8 14 8 10-1 10-5 10 2 40 13 20 1 20 7 10 1 31-5 30 6 10-4 20-3 10 1 40 18 30 5 51-10 10 0 10 0 40 8 40-1 10-3 10 0 31-10 40-25 34-29 16-7 20 1 41 17 20 0 20 9 10 2 12-5 18-5 20 8 10 3 20-5 23-21 18-11 10 1 7 7 5 10 27 32 24 38z"/>
<path fill="#23a983" stroke="#23a983" d="M1814 2135l4 2 10 1 10-7 23-26 7-5 10-13 20 8 10-1 47-21 14-4 0-386-1660 0 0 384 16 6 11 6 23 21 10 8 10 4 10 2 10-2 61-14 20-7 40 10 10 6 10 1 10 1 30-4 71-26 30-21 9-8 21-13 4-7 6-6 10-3 30 3 30 9 11 6 10-1 10-4 10 1 40 13 20 1 20 6 10 2 31-5 30 5 10-3 20-3 10 1 40 18 30 4 61-10 10 1 40 7 40 0 10-3 10 0 31-11 40-24 37-30 13-6 20 1 41 16 20 1 20 8 10 2 13-6 17-3 30 10 20-4 25-22 16-10 10 1 7 7 10 16 41 33z"/>
<path fill="#1e9d89" stroke="#1e9d89" d="M378 2109l11 1 10-1 81-20 40 9 10 5 10 2 10 1 30-4 71-26 30-20 6-6 24-15 10-12 10-3 30 2 26 8 15 7 10-1 10-4 10 1 40 12 20 1 20 6 10 2 31-5 30 5 30-5 10 1 40 16 30 5 61-9 10 0 40 7 40 0 10-3 10 0 31-11 40-23 20-15 14-13 16-7 20 0 41 15 20 1 20 8 10 1 10-4 20-3 20 6 20 2 10-2 26-24 15-8 10 0 7 8 8 14 5 4 22 13 159 76 10 4 10-1 20-11 10-12 20 7 10-1 42-17 19-6 0-384-1660 0 0 382 14 4 12 7 24 21 10 8z"/>
<path fill="#21918c" stroke="#21918c" d="M381 2105l18 0 81-19 40 8 10 6 10 1 10 1 30-4 71-25 39-26 21-13 4-7 6-5 10-3 30 2 41 13 20-4 10 1 40 11 20 1 20 6 10 1 31-4 30 5 30-4 10 1 40 15 30 5 61-9 10 0 40 7 40-1 10-3 10 0 31-10 50-30 26-21 14-6 20 0 31 11 10 3 20 0 21 8 9 1 10-4 20-2 20 5 20 2 10-2 25-23 16-8 10 0 7 7 13 21 10 5 58 21 123 51 20 2 10-2 3-5 7-7 20 7 20-3 34-14 17-4 0-382-1660 0 0 380 26 10 34 28z"/>
<path fill="#25838e" stroke="#25838e" d="M376 2099l13 2 10-1 20-6 61-12 40 7 10 6 10 2 10 1 30-4 71-24 35-23 25-14 3-6 7-7 10-2 30 2 10 4 19 3 12 4 20-4 10 1 40 11 20 0 20 6 10 1 31-4 30 4 10-2 30 0 40 14 30 6 61-9 10 0 40 7 40-1 10-3 10 0 31-10 50-29 10-6 17-16 13-5 20 0 31 10 10 2 20 1 20 7 10 1 10-4 20-1 40 5 10-1 27-24 14-8 10 1 7 6 8 11 7 3 28-21 10-4 10 1 10 6 22 21 18 14 41 16 30 23 20 20 10 1 20-1 10-7 10 5 10 2 10 0 21-3 40-12 0-379-174 0 6 72 4 10 13 17 6 13 2 13-1 16-7 23-10 12-6-12-4-13-6-56-7-10-17-11-10-9-11-13-10-24-1-28-1427 0 0 377 28 9 32 27zM389 1805l-10-14-2-19 2-26 10-17 10 19 4 34-1 9-3 11z"/>
<path fill="#2a778e" stroke="#2a778e" d="M376 2092l13 3 60-15 31-3 40 6 10 6 10 2 10 1 30-3 71-23 36-23 24-12 4-7 6-6 10-2 30 2 10 4 31 5 20-3 10 1 40 9 20 0 20 6 10 1 20-5 11 0 30 4 10-1 30 1 20 4 30 11 20 3 61-8 20 1 30 6 40-1 10-3 10 0 31-10 60-33 16-16 14-7 20 0 20 8 41 3 10 2 10 5 10 1 10-5 40 2 27-2 3-1 19-22 7-3 15-3 20 2 10-4 15-13 13-18 6-17 1-13-12-46-4-39 0-26 4-23 28-92-1275 0 2 30 4 26 10 18 10 12 5 13 1 13-6 12-36 30-14 7-10 3-20 1-20-1-40-10 0 219 30 8 30 25zM872 1958l-10-12-3-27 3-26 10-11 10 7 5 17 1 16-1 17-5 18zM1912 2066l27-1 30-6 0-252-20-10-10-1-9 8-3 7-3 13-5 59-11 47-10 27-10 4-2-3-8-18-10-33-2-1-8-16-6 3 6 15 5 1 2 3 1 10-1 20-4 13-13 18-10 5-10-1-10-3-3 7 2 13 6 13 11 13 17 17 17 13 20 11zM1745 1961l2 2 11-4 4-14 1-26-3-52-4-23-9-24-10-12-10-4-10 5-9 18-5 23 1 26 5 27 8 24 10 17 10 13zM334 1683l5 3 2-3z"/>
<path fill="#306a8e" stroke="#306a8e" d="M377 2083l12 2 10-2 61-16 40 1 20 6 10 6 20 4 30-2 51-14 20-8 20-12 40-20 10-12 10-3 30 2 10 4 31 3 20-2 50 7 20 0 20 6 10-1 10-5 10-2 41 8 60 3 30 11 20 4 10-1 31-6 20-2 20 2 30 7 40-1 10-3 10 0 31-10 60-33 15-16 15-10 20-2 20 6 21-2 30 5 10 7 10 2 10-5 20 3 10 0 14-4 8-7 6-10 12-27 10 2 26 19 15 2 5-2 16-10 12-13 7-17 1-16-4-13-7-12-10-9-10-4-10 1-10 3-31 13-5-5-2-10-1-26-6-36 6-43 0-29-5-29-10-27-61 0-2 30 4 29 7 20 21 33 4 13-2 10-6 6-12 5-10 0-10-4-10-10-5-7-6-13-28-76-9-16-15-20-861 0-5 40-3 49-6 19-8 13-10 10-30 16-9 7-11 17 1 13 29 36 4 9 3 13-1 14-5 13-11 16-10 11-10 6-10 2-10-1-15-5-14-10-9-10-4-9-4-33-5-15-10 0-1 2-3 10-4 32-6 13-6 6-10 5-10-2-7-9-3-13 3-16 11-29 0-10-6-7-18-5-10 0-20 4 0 165 30 6 8 4 22 18zM872 1993l-10-9-10-23-4-36 4-36 10-24 10-7 10 4 10 17 7 24 2 22-3 33-6 21-10 13zM1911 2056l28 2 30-5 0-114-10-3-10 3-10 11-7 11-8 7-48 20-10 6-5 7-3 10 0 6 3 10 5 6 11 10 11 7z"/>
<path fill="#365d8d" stroke="#365d8d" d="M543 2069l37 3 51-11 20-8 20-11 30-11 10-6 10-12 10-3 30 2 10 4 51-2 20 2 10-2 5-3 0-10-13-43-3-33 3-35 12-46 1-17-18-62-17-39-13-43-146 0-12 6-10 1-10-7-37 0-4 6-2 11-3 26 2 33 8 36-2 16-9 20-22 29-8 13-2 13 2 33-4 20-8 13-22 24-10 15-9 16-6 20 1 3 4 1 5 6 5 2 20 26zM390 2063l9 1 21-4 17-7 23-12 20-1 9-7-1-3-8-3-20 1-36-24-18-7-17 1-10 3-14 10-6 7-19-21-9-3-12 2-10 8 0 33 10 5 10 1 23-3 7-7 10 4 5 13 4 6zM1927 2050l22-1 20-7 0-49-10-9-10-5-10-1-10 2-31 10-18 11-7 10-1 6 4 10 12 12 20 8zM1192 2040l12 3 40-2 41-9 20-9 12-9 4-7 0-6-5-17 1-6 5-10 13-11 23-9 37-6 51 2 30 7 20 8 10 0 20 8 10-6 8-13 3-9 2-30-3-21-3-8-7-10-30-3-10-7-40-46-10-6-21-5-10-7-6-11-2-10 3-36-2-16-8-13-15-10-10-3-10 1-10 4-10 11-6 26-4 7-10 3-10 0-10-5-18-25-29-36-52 0-52 71-10 9-10 5-10-4-10-26-8-28-9-27-41 0-17 89-6 20-10 8-10-5-13-17-7-17-10-10-8 21-12 67-10 5-5-23 2-43-2-19-9-33-15-43-71 0-2 23 4 27 17 43 12 55 12 29 9 26 7 42 10-4 10-11 10-4 11 12 5 31 0 49 5 12 19 7 31 6 20-2 10-4 50 18 10 1 31-9 20-3 20 5zM900 2017l12 0 2-3 1-10-3-17-10-1-7 21 2 7zM1617 1961l10 1 5-4 5-8 11-11 8-17 0-10-5-13-4-6-10-5-10 2-7 6-3 7-8 22-1 20 3 10z"/>
<path fill="#3d4e8a" stroke="#3d4e8a" d="M584 2053l16 1 31-5 20-7 20-10 30-6 10-5 10-13 10-4 20 0 20 6 17-3 24-7 20 2 7-5 2-6-7-52-1-76-2-6-29-32-17-27-2-13 4-43-1-26-5-16-13-17-58 0-31 36-5 17 5 19 12 13 12 7 7 10 0 13-5 23-4 8-60 5-10 5-10 13-34 57-27 69-2 13 7 46 7 10zM1923 2033l16 4 10-3 7-7 3-7 0-9-10-15-10-4-10 1-11 8-3 6-1 13 2 7zM1203 2027l26 0 35-5 21-6 8-5 1-7-9-9-10-5-21-4-10-5-2-6 2-5 4-2 37-7 50-21 20-6 50-7 51-3 10-4 2-4 1-10-3-20-5-16-5-11-10-2-21 17-10 1-10-4-34-31-33-22-13-7-30-7-10-6-13-13-24-36-14-11-10-2-10 4-10 7-36 48-12 9-12 5-20 1-10-8-4-7-17-79-10-16-10-1-10 17-30 141-10 10-20 7-10 9-12 26-5 20-2 19 0 27 3 13 6 9 8 7 12 5 10 2 10-4 4-3 7-10 9-24 10-4 20 12 30 27 11 1 10-3 20-10 10-3 10 3 26 27zM1624 1955l3 0 3-10 0-6-3-7-9 3-2 4 1 14zM892 1713l7 0 2-3-9-15-1 8z"/>
<path fill="#423f85" stroke="#423f85" d="M619 2024l12 1 40-8 20 2 10-2 10-6 6-10 14-19 10-5 16 11 14 7 11-3 10-8 17-23 4-13 0-9-2-14-6-13-23-34-11-9-10 0-17 11-13 4-50-6-30 5-10 3-10 8-16 18-12 20-8 20-5 19 2 17 7 19 11 13zM1103 1968l11 3 10-1 9-5 13-13 8-11 10-9 10 6 10 16 10 8 10-8 2-6 8-36 10-1 15 24 15 8 15 2 16 0 20-5 12-5 14-10 5-9 3-49-3-17-11-10-10-1-20 1-10-2-10-6-31-26-10-4-10 1-6 5-17 19-12 10-15 7-10 1-54-11-13-7-14-11-10 2-10 19-4 20-6 36 1 19 5 17 12 16 12 11zM736 1749l5 2 6-2 5-7-2-13-9-19-10 1-6 18 0 7 2 6 4 5z"/>
<path fill="#472e7c" stroke="#472e7c" d="M662 2001l9 2 15-2 8-7 4-10 1-13-2-46-6-10-10-4-20 1-10 3-10 7-10 13-7 20-1 13 2 10 6 5 20 9 5 5zM1094 1925l9 4 11-5 7-21 1-13-2-10-6-9-11-3-10 1-6 4-4 4-3 13 0 9 3 13zM1288 1922l7 2 2-2 1-3-3-8-8 5-2 3z"/>
<path fill="#481d6f" stroke="#481d6f" d="M671 1984l10-1 2-8-2-11-10-4-9 8-2 7 1 3z"/>
</g></g>
<g clip-path="url(#c20)"><g transform="translate(0 841.72) scale(0.5)" fill="none" stroke-linejoin="round">
<use href="#a0" stroke="#cae11f" stroke-width="20.0"/>
<use href="#a0" stroke="#efe51c" stroke-width="17.2"/>
<use href="#a0" stroke="#fde725" stroke-width="14.4"/>
<use href="#a0f" fill="#808080"/>
<use href="#a0" stroke="#000" stroke-width="7.6"/>
</g></g>
<clipPath id="c21"><rect x="1093.0" y="841.7" width="516.8" height="327.1"/></clipPath>
<g clip-path="url(#c21)">
<rect x="1093.0" y="841.7" width="516.8" height="327.1" fill="#fde725"/>
<g transform="scale(0.5)" stroke-width="1.2" fill-rule="evenodd">
<path fill="#efe51c" stroke="#efe51c" d="M2525 2122l17 2 17-2 6-5 5-2 5-6 10-4 3-4 11-3 3 4 10 3 5 7 5 1 12 1 23-3 7-2 16-10 11 2 8-2 13-7 1-3 10-3 1-3 13-4 12 0 3 4 25 9 18 5 34 1 18-6 4-6 9-3 3-7 9-3 3-8 6-2 4-3 2-10 9-3 2-9 10-5 1-6 12-1 2 4 9 3 21-6 2-10 13 0 3 3 19 9 2 4 21 6 11 0 3 8 9 2 15-2 6-4 2-10 11 3 3 4 20 8 3 12 9 3 11-4 12 3 23-3 34 8 35 4 0-388-1034 0 0 386 28-6 4-3 11-4 1-3 10-3 2-3 10-4 2-3 12-4 23 0 58 15 32-8 1-3 13-4 2 4 10 3 1 7 11 3 1 7 4 3 17 8 4 5 7 2 3 5 10 3 1 6 4 4 28 14 5 5z"/>
<path fill="#cae11f" stroke="#cae11f" d="M2518 2118l24 4 12-1 16-9 2-3 15-10 12-3 23 15 12 1 23-3 23-12 13 2 15-7 18-11 11-3 12 0 8 5 38 11 34 2 17-7 15-13 7-3 7-10 7-3 3-10 8-3 4-10 9-4 2-6 2-1 11-2 6 6 5 2 18-5 5-11 15 1 20 10 6 6 17 5 11 0 8 9 4 1 17-5 4-10 2-1 11 2 8 6 15 6 5 10 7 5 11-4 12 3 23-2 46 9 23 3 0-387-1034 0 0 384 23-5 15-6 27-16 15-5 23 0 46 13 12 1 29-6 2-3 15-5 13 8 3 7 9 3 2 7 20 9 25 17 3 6 40 23z"/>
<path fill="#a8db34" stroke="#a8db34" d="M2529 2118l25 1 31-20 14-4 23 14 12 1 23-3 23-11 11 2 35-19 11-2 12 0 34 13 12 3 34 1 13-5 26-20 5-6 8-7 3-6 9-7 3-6 8-4 2-6 4-2 11-2 11 8 15-4 4-3 2-7 2-2 12 0 5 2 20 10 7 6 14 4 11 0 12 9 14-3 3-3 2-7 4-2 11 2 23 12 7 11 5 4 11-4 12 3 23-3 46 10 23 2 0-385-1034 0 0 383 23-5 40-21 17-6 12-1 11 1 23 5 23 8 12 1 25-5 9-5 12-4 11 6 9 10 7 3 3 7 30 16 13 10 6 6 36 21z"/>
<path fill="#84d44b" stroke="#84d44b" d="M2522 2115l32 2 34-21 11-3 23 15 12 0 23-3 23-11 11 2 35-18 11-2 12 0 34 12 12 3 34 1 12-4 25-19 13-13 3-6 9-7 3-6 7-4 4-6 5-3 11-2 11 8 17-6 3-7 3-3 12 0 7 3 19 10 8 6 12 3 11 0 12 9 11-2 4-3 3-7 5-3 11 2 23 12 12 14 11-4 12 3 23-2 46 9 23 2 0-383-1034 0 0 381 23-5 38-19 19-6 23-1 46 13 12 1 23-4 23-10 12 7 6 7 10 6 5 7 29 16 18 15 35 20z"/>
<path fill="#65cb5e" stroke="#65cb5e" d="M2539 2115l15 0 34-21 11-2 23 14 12 0 23-3 23-11 11 2 35-17 11-3 12 0 34 12 12 3 34 1 12-4 23-17 13-13 4-6 9-7 3-6 6-4 5-6 6-4 11-2 11 8 16-5 3-7 4-4 12 1 9 3 25 15 12 2 11 0 12 9 11-2 5-8 7-4 11 2 23 11 12 14 11-4 12 3 23-2 46 9 23 3 0-382-1034 0 0 379 23-5 43-20 14-4 23-1 46 12 12 2 23-4 23-10 14 8 20 19 31 17 15 13 35 20 11 3z"/>
<path fill="#48c16e" stroke="#48c16e" d="M2529 2112l25 1 34-20 11-3 23 13 12 1 23-3 23-11 11 2 34-16 12-3 12 0 46 14 34 0 12-3 23-17 11-11 4-6 9-7 4-6 18-15 11-2 11 8 14-4 4-7 5-5 15 2 31 16 23 3 12 8 11-2 4-6 8-5 11 2 23 11 12 13 11-3 12 2 23-2 46 9 23 3 0-380-1034 0 0 377 23-5 40-18 17-5 23-1 46 12 12 1 23-3 23-10 15 9 19 17 34 19 12 11 35 19z"/>
<path fill="#32b67a" stroke="#32b67a" d="M2525 2109l29 1 34-19 11-2 23 12 12 0 23-2 23-11 11 1 35-15 11-3 12 0 46 13 34 1 12-3 23-17 23-22 3-6 20-16 11-2 11 8 13-3 4-7 6-6 12 1 6 2 28 15 23 2 12 8 11-2 6-7 6-3 11 1 23 11 12 13 11-4 12 3 23-2 46 9 23 3 0-378-1034 0 0 375 23-5 37-16 20-6 23-1 46 11 12 2 23-3 23-10 17 10 17 16 32 17 14 12 35 19z"/>
<path fill="#23a983" stroke="#23a983" d="M2521 2105l33 3 34-20 11-2 23 12 35-2 23-11 11 2 35-15 11-2 12 0 46 12 34 1 12-4 23-16 25-26 21-17 11-2 11 8 12-3 6-9 5-4 12 1 34 16 23 3 12 7 11-2 4-5 8-5 11 2 23 9 12 13 11-3 12 3 23-2 46 9 23 3 0-376-1034 0 0 372 23-4 41-18 16-4 23 0 46 11 12 1 23-3 23-9 14 8 20 17 31 15 15 13 35 19z"/>
<path fill="#1e9d89" stroke="#1e9d89" d="M2520 2102l22 3 12 0 34-19 11-2 23 11 35-3 23-10 11 2 35-14 11-2 12-1 46 12 34 1 12-4 23-15 27-28 7-4 12-10 11-2 11 7 12-3 5-7 6-5 12 0 34 16 23 2 12 7 11-2 6-5 6-3 11 1 23 9 12 12 11-3 12 3 23-2 46 9 23 3 0-373-1034 0 0 369 23-4 37-15 20-5 23 0 58 11 23-2 23-10 17 10 17 14 30 15 16 13 35 19z"/>
<path fill="#21918c" stroke="#21918c" d="M2521 2099l21 3 12-1 34-18 11-2 23 11 32-3 26-10 11 1 35-12 11-3 12 0 46 11 34 1 12-4 11-7 12-9 17-17 29-23 11-2 11 8 12-3 3-6 8-7 12 1 34 15 23 2 12 6 11-2 12-7 11 1 23 8 12 12 11-3 12 3 23-2 46 9 23 3 0-370-1034 0 0 366 23-4 40-15 17-4 23 0 58 10 23-2 23-9 15 8 19 16 30 14 16 13 35 19z"/>
<path fill="#25838e" stroke="#25838e" d="M2525 2096l29 1 34-18 11-1 23 9 24-1 11-2 23-10 11 2 35-12 11-2 18 1 40 9 34 1 12-3 11-7 28-26 18-12 12-10 11-2 11 8 12-3 5-7 6-6 12 1 34 14 23 2 12 5 11-1 12-7 11 1 23 7 12 12 11-3 12 3 23-2 69 13 0-367-1034 0 0 362 23-4 42-14 15-3 23 0 58 9 23-1 23-9 14 7 9 8 11 7 31 15 15 12 35 19z"/>
<path fill="#2a778e" stroke="#2a778e" d="M2535 2092l19 1 34-18 11-1 23 8 12 0 23-4 23-9 11 1 46-12 23 1 35 8 34 2 12-3 11-8 26-25 20-10 12-11 11-1 11 7 12-3 6-8 5-4 12 1 23 9 11 3 23 2 12 4 11-1 12-5 11 1 23 6 12 10 11-2 12 2 23-2 69 14 0-362-431 0 0 17-6 14-11-5-10-16-3-10-517 0-3 43-7 31-12 19-11 0-8-30-7-63-8 0 0 356 23-3 29-9 28-6 23 0 46 7 23 1 12 0 23-9 14 7 9 7 34 15 12 7 11 11 35 19z"/>
<path fill="#306a8e" stroke="#306a8e" d="M2533 2086l21 0 34-17 11-1 23 7 12 0 23-4 23-10 11 1 12-5 46-6 11-1 29 10 17 3 23 1 12-4 34-33 23-9 12-9 11-2 11 7 12-2 6-8 5-4 12 1 23 9 11 1 23 2 12 3 23-4 11 1 23 4 12 9 11-2 12 2 23-2 69 14 0-209-12 7-11 1-12-5-11-12-6-9-5-13-1-10 3-16 7-10 6-3 7-4 12 1 23 7 0-80-178 0 1 14 2 6 14 19 6 14 4 26-1 16-4 13-5 9-12 5-11-4-4-3-8-10-5-10-3-16 2-43-3-6-8-10-17-13-12-5-11 2-12 9-11 2-17-8-2-7-9 0-1 4-10 13-27 29-5 13-9 37-12 23-14 12-9 4-23 3-11 0-12-3-5-4-8-10-10-17-11-12-12 1-21 28-13 8-23 2-23-3-12-4-11-19-6-20-10-22-7-10-23-23-15-30-306 0-6 33-4 75-3 13-11 25-11 12-12 4-11-2-23-17 0 206 23-3 23-7 34-5 23 0 58 6 23 1 23-9 14 5 9 7 11 1 23 9 12 8 11 14 12 7 23 14zM2519 1841l-11-5-12-11-6-14 0-13 6-10 5-3 30-17 11-2 10 6 3 6 1 13-2 21-12 21-11 8z"/>
<path fill="#365d8d" stroke="#365d8d" d="M2529 2076l25 0 34-18 23 2 11 5 15-2 20-7 23-21 11 2 12-7 23 5 34-1 12 2 34 14 23 3 12-6 16-20 18-16 23 0 12-8 11-1 11 6 12-2 4-5 7-5 12 0 23 8 46 4 46-1 11 1 12 8 11-1 12 3 34-1 58 11 0-152-23-4-12-6-34-29-12-6-23-6-23 0-46 18-11 1-23-5-35-3-11-17-7-24-12-30-4-7-12-11-11 1-11 14-12 27-34 62-12 14-11-3-15-8-20-7-23-2-23 1-74 21-29 15-12 1-29-85-5-12-12-12-11 3-7 11-6 13-10 36-11 25-12 9-11 4-12-1-23-11-11-9-12-18-6-25-2-29 3-33 5-24 14-32 1-10-105 0-17 20-11 16-20 49-11 21-12 10-11 3-23-7-12 16-10 26-13 20-11 10-12 6-23 4-11 5 0 137 11 0 35-6 69-4 69 6 23-8 23 0 11-3 23 2 13 5 7 6 11 16 5 17 7 10 15 10zM3162 1690l12 2 11-2 6-7-40 0z"/>
<path fill="#3d4e8a" stroke="#3d4e8a" d="M2778 2014l17 2 11-1 12-4 23-12 23-6 11-1 23 5 23-4 11 4 12 0 11-8 12 0 23 6 46 0 11-1 12 2 23-2 11 1 12 8 23 3 23-1 69 7 0-100-35-11-11-9-23-24-12-6-23-3-23 0-46 16-34 2-12 4-23 12-11 0-7-17-7-52-9-32-12-14-11 0-11 19-12 42-23 71-11 23-12-3-27-47-7-9-12-7-11-4-12 0-23 4-14 9-14 17-10 23-4 16 0 23 4 20 8 13 19 15zM2336 2001l34 1 38-11 31-12 34 5 10-3 8-10 4-26-2-20-7-16-13-16-7-13-4-13-6-30-3-33 0-62-2-19-4-10-6-10-14-8-11-1-8 3-15 9-12 12-11 17-31 60-15 21-12 9-23 7-11 6-26 42-32 35-11 9-23 9 0 64 23 1 11-2 46 2 35-2zM2588 1997l11 2 16-5 18-10 4-3 3-6-6-14-12-51-9-27-8-46-6-17-11 2-12 39-5 32-4 16-2 3-11-3-12 1-5 2-12 10-4 17 2 29-3 13 4 3 18 6z"/>
<path fill="#423f85" stroke="#423f85" d="M2345 1988l13 1 12-1 11-6 14-17 24-23 14-30 4-19 2-26-1-105-6-23-5-8-4-2-7-2-12 5-11 12-27 47-31 47-4 12-14 69 0 23 4 19 7 17 7 6zM3205 1988l15 0 0-41-12-7-23-8-23-13-11-5-14 2-9 4-9 9-5 10 0 6 14 23 12 7 32 9zM2783 1984l12 1 12-4 10-16 2-17-2-19-11-28-11-9-12-1-11 4-12 13-4 14-2 17 2 16 4 14 12 11zM2546 1955l8 1 4-8 0-13-4-11-12 1-2 7 0 16 2 6zM2917 1939l4 2 11-24 6-37-1-20-4-16-12-8-8 24-3 27 0 43z"/>
<path fill="#472e7c" stroke="#472e7c" d="M2389 1932l4 1 11-6 5-8 7-13 6-30 1-26-3-23-4-13-12-14-11 3-12 15-9 19-6 26 1 27 5 22 6 13 3 4z"/>
<path fill="#481d6f" stroke="#481d6f" d="M2392 1857l1 2 0-13z"/>
</g></g>
<g clip-path="url(#c21)"><g transform="translate(0 841.72) scale(0.5)" fill="none" stroke-linejoin="round">
<use href="#a1" stroke="#cae11f" stroke-width="20.0"/>
<use href="#a1" stroke="#efe51c" stroke-width="17.2"/>
<use href="#a1" stroke="#fde725" stroke-width="14.4"/>
<use href="#a1f" fill="#808080"/>
<use href="#a1" stroke="#000" stroke-width="7.6"/>
</g></g>
<clipPath id="c30"><rect x="154.3" y="1257.7" width="830.1" height="327.1"/></clipPath>
<g clip-path="url(#c30)">
<rect x="154.3" y="1257.7" width="830.1" height="327.1" fill="#fde725"/>
<g transform="scale(0.5)" stroke-width="1.2" fill-rule="evenodd">
<path fill="#efe51c" stroke="#efe51c" d="M1738 3058l9 2 11-2 5-3 4-7 6-3 2-6 9-7 4-7 5-3 5-5 25-11 4-7 7-3 2-6 7-4 4-9 7-4 3-10 7-3 2-3 1-10 7-3 2-3 2-11 20 9 10 0 15-5 6-5 6-2 4-4 17-9 1-3 12-2 0-394-1660 0 0 392 10 3 2 4 9 4 1 6 9 3 1 7 8 4 2 6 8 4 4 6 13 6 13 2 10-2 67-19 14-8 10 1 2 3 18 8 10 1 3 4 17 5 20 0 20-3 65-25 4-3 8-3 2-3 7-4 5-6 8-3 2-5 6-2 2-3 1-7 9-3 1-3 9-4 2-4 8-2 2-10 10-3 10 2 20 0 22 8 2 3 8 3 1 3 8 3 16-3 4-4 8 1 42 18 20 1 30 9 31-6 20 6 10 0 6-2 4-3 20-4 10 0 4 4 6 2 3 5 9 3 2 3 26 8 20 3 31-8 30-5 20 2 30 8 10-2 30 2 10-3 10 0 15-5 29-13 15-10 2-3 8-3 2-5 7-2 2-6 8-4 2-6 9-3 2-8 8-2 2-4 10-4 20 1 10 3 3 4 7 2 3 4 9 4 3 3 26 2 20 12 10 1 7-2 3-4 20-7 13 8 17 4 17-4 2-4 10-3 1-5 6-1 3-4 2-5 8-5 2-3 8-3 2-3 10 0 1 3 6 5 13 21 20 37 13 32 8 23 9 76 7 9 13 5z"/>
<path fill="#cae11f" stroke="#cae11f" d="M1739 3052l8 3 11-1 29-32 11-7 24-12 30-33 3-7 7-6 3-10 8-6 3-10 2-3 20 9 10 0 15-6 33-20 13-4 0-392-1660 0 0 391 10 3 12 9 1 3 10 6 3 7 6 3 4 7 13 10 11 5 10 1 10-2 50-13 31-13 10 1 5 4 25 8 8 5 12 3 10 1 30-4 52-19 20-10 35-26 2-7 27-16 5-11 10-3 30 2 24 9 17 11 10-2 10-5 10 1 40 17 20 1 20 7 10 2 31-6 30 7 10-5 20-5 14 3 26 16 9 3 31 6 51-12 10-1 10 0 40 9 40 1 10-4 10 0 34-12 31-19 12-10 1-3 10-7 1-3 7-3 5-8 6-2 4-5 10-4 20 1 13 4 14 10 14 6 20 2 20 11 10 2 20-11 10-2 20 9 10 2 10-2 16-7 4-6 7-4 3-6 7-4 4-4 5-2 5-4 10 0 7 7 14 23 30 56 9 27 8 49 10 22 8 13z"/>
<path fill="#a8db34" stroke="#a8db34" d="M1746 3045l12 2 10-7 15-18 8-6 27-13 31-33 12-16 2-7 10-10 1-6 4-5 20 9 10 0 12-4 34-20 15-5 0-391-1660 0 0 390 10 3 14 10 26 26 10 8 10 5 10 1 10-2 50-13 31-13 10 2 10 6 20 5 10 6 10 2 10 1 30-4 51-19 20-9 33-25 3-7 30-19 2-7 2-2 10-3 30 2 26 10 15 9 10-1 10-5 10 1 40 17 20 0 20 8 10 1 31-5 30 6 10-5 20-4 16 4 24 15 10 3 30 5 51-12 10 0 10 0 40 9 40 0 31-7 31-13 33-23 2-3 9-7 2-3 9-7 4-5 10-7 10-4 20 1 15 5 26 15 20 2 20 10 10 2 17-9 13-4 20 10 10 2 23-8 6-6 6-4 4-6 18-13 4-2 10 0 7 7 14 21 28 49 11 29 3 18 5 14 32 56 10 14z"/>
<path fill="#84d44b" stroke="#84d44b" d="M1754 3032l4 3 10-3 22-19 28-14 30-32 30-43 20 9 10 1 10-4 34-19 17-5 0-391-1660 0 0 389 10 3 11 7 29 28 10 8 10 4 10 1 10-1 50-13 31-12 10 1 10 6 20 5 10 6 10 2 10 1 30-4 51-19 20-9 31-23 4-7 30-19 2-7 3-3 10-3 30 2 28 11 13 8 10-1 10-6 10 2 40 16 20 1 20 7 10 1 31-5 30 7 10-5 20-4 10 1 30 17 20 6 20 2 51-11 10-1 10 0 40 9 40 0 31-7 30-13 32-21 28-26 10-7 10-3 20 0 16 6 25 14 20 1 20 11 10 1 14-7 16-5 20 9 10 3 20-7 14-10 4-6 18-13 5-3 10 0 7 7 33 48 14 26 11 33 45 67z"/>
<path fill="#65cb5e" stroke="#65cb5e" d="M1766 3016l2 1 10-1 13-10 27-11 30-31 30-42 20 9 10 0 10-3 39-20 12-3 0-390-1660 0 0 388 13 5 10 6 27 26 10 8 10 4 10 1 10-1 50-13 31-11 10 1 10 5 20 5 10 6 10 2 10 1 30-4 51-19 20-9 30-22 8-9 25-16 3-7 4-4 10-2 30 1 24 8 17 10 10-1 10-5 10 2 40 15 20 1 20 7 10 1 31-4 30 6 10-4 20-5 10 2 30 16 20 6 20 2 51-11 10-1 10 0 40 9 40-1 31-6 30-13 30-19 38-33 12-4 20 1 18 6 23 13 20 1 20 10 10 2 19-9 11-3 20 9 10 2 10-2 10-4 12-9 4-6 18-13 7-4 10 0 7 7 33 44 15 25 8 18z"/>
<path fill="#48c16e" stroke="#48c16e" d="M1775 2996l3 2 10 1 30-9 20-19 40-51 20 9 10 0 10-3 36-18 15-4 0-389-1660 0 0 387 16 6 9 6 25 24 10 7 10 5 10 1 10-2 50-12 31-11 10 1 10 5 20 5 10 6 10 1 10 1 30-4 51-18 20-10 30-21 6-7 26-16 3-7 5-5 10-3 30 2 27 9 14 8 10-1 10-4 10 1 40 15 20 1 20 7 10 1 31-4 30 6 10-4 20-4 10 1 30 16 20 6 20 2 61-11 10 0 40 8 40-1 31-6 30-13 30-19 37-31 13-5 20 1 41 18 20 1 20 10 10 2 14-7 16-5 20 9 10 3 20-6 27-24 11-7 13-1 41 47 22 34z"/>
<path fill="#32b67a" stroke="#32b67a" d="M1801 2983l17-1 10-7 40-44 10-13 20 8 10 0 10-3 33-15 18-5 0-388-1660 0 0 385 12 5 11 6 27 24 10 7 10 5 10 1 10-1 50-12 31-11 10 2 10 4 20 4 10 6 10 2 10 0 30-4 51-18 20-9 30-21 8-8 22-13 10-13 10-3 30 2 30 10 11 6 10-1 10-4 10 2 40 14 20 1 20 7 10 1 31-4 30 6 10-4 20-3 10 1 30 15 20 6 20 2 10-1 41-10 10 0 10 0 40 7 40 0 31-7 30-12 30-18 35-30 15-6 20 1 41 17 20 2 20 9 10 1 18-7 12-3 20 8 10 3 20-5 26-23 15-9 10 0 7 7 10 14 22 21 24 27 95 81 5 3z"/>
<path fill="#23a983" stroke="#23a983" d="M1811 2967l7 2 10-4 10-7 22-24 8-6 4-7 6-6 20 8 10 0 10-2 38-16 13-4 0-386-1660 0 0 384 16 6 10 6 24 21 10 8 10 4 10 1 10-1 61-15 20-7 40 9 10 6 10 1 10 1 30-4 71-27 30-20 6-6 24-15 10-12 10-3 30 2 27 8 14 7 10-1 10-4 10 2 40 14 20 0 20 7 10 1 31-3 30 6 30-7 10 1 30 15 20 5 20 2 10-1 41-9 10-1 10 0 40 8 30-1 30-4 31-9 40-23 34-28 16-7 20 1 41 17 20 0 20 9 10 2 12-5 18-5 30 11 20-5 24-21 17-10 10 0 7 7 10 14 46 38 98 68z"/>
<path fill="#1e9d89" stroke="#1e9d89" d="M1828 2950l10-3 30-24 3-5 7-7 20 8 10 0 21-5 40-14 0-385-1660 0 0 382 13 4 12 7 25 21 10 7 10 5 10 1 10-2 81-20 40 8 10 5 10 2 10 0 30-4 71-27 37-26 23-12 4-7 6-6 10-2 30 1 31 9 10 5 10 0 10-4 10 2 40 13 20 1 20 6 10 1 31-2 30 6 30-7 10 1 30 14 20 5 20 2 10-1 41-9 10-1 10 0 40 8 30-1 30-4 31-9 40-23 37-28 13-5 20 1 41 15 20 1 20 9 10 1 14-6 16-3 30 10 10 0 10-3 26-23 15-9 10 1 20 22 43 30 118 66 10 5z"/>
<path fill="#21918c" stroke="#21918c" d="M386 2937l13-1 81-19 40 6 10 5 10 2 10 1 30-4 71-27 33-22 27-14 3-5 7-7 10-3 30 1 41 13 20-3 10 1 40 13 20 0 30 8 31-2 30 6 30-6 10 1 40 16 30 4 61-11 10 0 40 7 40-1 10-3 10-1 31-9 20-10 30-18 25-19 15-6 20 0 41 15 20 1 20 8 10 1 10-5 20-3 20 7 20 2 10-2 24-21 17-10 10 0 20 23 40 23 91 40 50 20 10 1 20-7 20-16 20 6 10 1 21-3 40-13 0-383-1660 0 0 380 25 10 35 27 10 5z"/>
<path fill="#25838e" stroke="#25838e" d="M377 2931l12 1 10-1 20-7 61-12 40 5 10 5 10 2 10 0 30-4 71-25 20-13 40-20 4-6 6-7 10-3 30 2 10 4 31 7 20-2 10 1 40 12 20 0 30 8 31-2 30 6 30-5 10 2 40 14 30 4 61-11 20 1 30 6 40-1 10-3 10-1 31-9 20-9 40-23 18-14 12-5 20 1 31 10 10 3 20 0 20 8 10 1 10-4 20-3 20 7 20 2 10-2 25-22 16-8 10 0 22 25 23 12 106 40 50 15 10 2 5-1 15-6 10-2 10-5 10 3 20 3 31-3 30-8 0-381-1660 0 0 377 26 9 34 26z"/>
<path fill="#2a778e" stroke="#2a778e" d="M377 2924l12 2 7-2 23-8 41-10 60 1 10 5 20 2 30-4 61-19 30-17 30-10 10-5 4-7 6-6 10-3 30 1 10 4 31 6 30 0 40 11 20 1 30 7 31-1 30 7 30-5 10 1 40 14 30 3 61-12 20 1 30 7 40-2 10-3 10-1 31-8 20-9 40-20 15-12 15-6 20 0 41 11 20 0 21 8 9 1 10-5 20-1 30 7 20 0 25-22 16-8 10 1 7 6 10 14 22 13 44 16 27 2 36 15 25 8 20 4 20 0 40-5 51 9 40-8 0-378-1324 0 4 33 10 39-2 10-3 7-7 6-13 7-34 7-30 14-20 3-10-2-10-5-8-14-8-105-57 0-8 4-10-4-107 0-13 27-10 7 0 338 29 11 31 23z"/>
<path fill="#306a8e" stroke="#306a8e" d="M377 2914l12 1 10-4 30-14 31-11 30 5 30-6 13 0 12-7 13-9 6-23 5-10 11-15 10-6 25 47 6 5 10 3 10-1 30-12 20 3 10-1 10-4 3-6 7-7 10-4 20-2 10 1 10 5 71 9 30 7 20 1 25 6 36 2 20 5 10 1 20-3 20 0 20 5 20 8 30 2 41-10 20-4 20 1 30 9 40-2 10-3 10-1 41-11 50-22 17-13 13-5 20 0 20 6 21 2 20 0 10 2 10 5 10 1 10-5 10-1 41 8 19 1 24-20 17-8 11 1 6 5 8 12 11 6 24 5 30 9 10 1 20-5 10 4 31 20 30 11 30 3 40-5 10 0 20 4 21 9 20-1 20-4 0-296-10 9-10 2-10-5-10-13-3-6-6-20-1-16 8-20 11-10-252 0 11 16 6 14 4 19 0 22-3 14-7 14-10 10-10 2-17-6-33-20-20-1-10-7-11-18-4-16-3-23 0-20-162 0 0 20-3 13-9 16-10 7-10 3-20-1-12-5-18-16-10-2-10 10-10 20-9 37-11 30-10 15-11 7-10 1-10-7-10-16-8-30-10-53-2-5-10-11-8-13-7-20-503 0-3 13 0 13 13 43 3 16-4 36-5 23-9 10-10 0-30-11-20-2-41 4-20 6-13 10-13 16-10 26-4 34-3-1-2-3 2-27-2-23-11-32-24-37-10-9-10 0-11 7-10 19-15 62-3 26 1 50-1 22-2 7-10 13-8-10-2-6 0-26 6-33 1-20-3-16-9-23-21-29-14-14-10-6-10-5-10-1-10 4-5 5-5 7 0 228 10 5 20 5 20 15 10 6zM862 2588l-11-4-4-7-2-9 2-13 5-12 10-4 10 12 5 10 2 10-2 6-5 7zM409 2568l2 0 2-7-4-12-6-1-4-5 0 6 3 2z"/>
<path fill="#365d8d" stroke="#365d8d" d="M364 2895l5 2 10 0 10-7 4-8-1-7-13-29-4-23-1-33 4-49-1-16-4-20-9-16-5-7-10-8-10-2-10 4-9 13-11 34 0 147 3 5 7 6 10 1 10-3zM1937 2888l12 1 20-5 0-243-10 14-10-1-7-11-9-20-19-26-12-20-4-9-12-13-20-17-18-10-10-3-10 1-10 5-30 27-10 4-10-2-10-9-9-3-2-15-1 28-3 20-10 23-11 16-35 31-10 5-30-6-20 12-10-1-10-8-21-32-12-27-18-52-10-20-10-4-20 16-10-2-2-17-60 0-14 79-5 15-6 11-17 10-47 17-10 2-30-7-10 7-18 27-12 13-11 6-10 2-10-2-11-6-19-20-10-17-13-42-8-16-9-13-16-13-7-10-6-23 0-20-154 0-1 17-4 16-5 10-8 11-10 6-21 9-33 23-57 31-27 11-13 10-10 3-8-9-2-10 0-30-3-6-6-7-12-1-10 1-10 3-10 7-6 10-4 13-4 65-9 46-27 12-7 5-5 6-4 13 1 20 7 26 8 15 10 6 10-2 6-9 12-13 3-7 0-16-9-43 1-6 7-2 10 3 10 7 4 5 8 16 10 40 5 6 7 3 37 10 30 4 20 5 20 0 30 7 20 1 31 10 10 1 30-4 20 1 10 1 20 8 30 2 10-2 51-21 10 1 10 2 16 10 14 5 30 0 30-4 31-6 30-13 30-8 18-13 12-4 20-1 20 4 51-9 10 7 10 2 10-7 34 11 26 5 10 0 17-14 12-7 12-3 10 1 12 7 5 1 8-4 15-12 10 2 16 24 4 4 10 4 10-4 30-40 11-6 10 4 8 9 1 10-6 29 2 10 4 7 11 8 20 8 18 3 12 0 25-6 12-10 5-13-7-40 5-12 10-2 4 18-2 29 1 10 23 26 14 10zM559 2764l1 2 10-5 3-13-1-14-4-9-8-5-6 24zM471 2744l9 3 9-9 5-26 1-17-3-13-2-6-10-6-12 9-4 10-2 13 1 26 3 10zM580 2712l0 1 2-1zM1736 2525l1 2 7-2 0-10-17 0z"/>
<path fill="#3d4e8a" stroke="#3d4e8a" d="M1948 2878l11-1 10-4 0-156-10-3-20-12-10 0-11 16-4 23-2 43 3 49 4 19 8 17 12 8zM317 2872l2 2 10 1 4-3 10-23-1-20-6-19-7-9-10 3-2 2-7 27-1 19zM981 2856l42-10 20-2 10 5 20 6 20-2 10-5 11-8 20-20 30 13 26 6 14 12 10 4 20 3 30-3 31-7 30-13 30-2 18-10 12-5 30-3 7-2 3-4 8-25 13-13 10-4 30-5 20 2 20 9 20 6 10 5 10 10 10 5 61 8 12-7 11-13 5-17 0-19-6-16-12-13-13-5-27-5-5-4-16-33-10-15-16-17-14-30-10-5-10 12-10 18-18 47-8 13-5 7-18 10-11 4-10-2-24-38-7-9-10-7-10-3-10 0-20 7-33 15-98 63-10 2-10-3-10-8-3-8-16-82-11-28-10-7-10 4-13 18-7 18-10 13-10-5-8-13-4-13-5-33-2-49-4-16-7-20-60 0-16 56-14 23-11 10-30 12-11 7-20 21-10 8-30 12-10 9-10 16-36 72-9 26 0 13 3 10 2 3 10 6 40 7 20 0 40 7 31 17 10 5zM1824 2777l4 2 10 0 10-5 2-4 9-19 5-30-2-23-7-29-17-56-10-15-10 0-10 11-28 44-4 13-2 13 6 36 11 26 20 26zM1723 2731l4 2 10-7 6-24-3-26-6-10-7-7-10 3-2 4-5 13-2 13 1 13 3 13 5 10z"/>
<path fill="#423f85" stroke="#423f85" d="M318 2862l11 1 1-4 2-17-3-20-10 1-3 23zM1232 2842l12 0 14-9 21-30 2-10-9-9-8-4-10-1-20 3-10 5-15 13-3 10 6 19 10 10zM972 2826l11 2 20-13 30 5 20-2 6-2 11-6 7-7 4-6 4-13 0-14-4-19-19-43-9-10-50-35-13 0-27 9-12 7-19 5-13 11-5 13 1 13 5 10 12 10 19 7 3 16 4 46zM1350 2823l5 2 40-16 8-6 8-16 8-30-2-36-3-13-6-13-3-3-10-7-11 0-39 23-16 17-9 19-4 23 2 26 13 17zM1177 2813l7 2 14-9 2-9-6-27-10-17-10-8-10 2-10 10-4 10-1 13 5 17zM1620 2800l7 3 5-2 10-7 4-10 3-20-2-14-10-12-10-5-10-1-10 2-11 7-6 10-1 10 2 9 6 11 12 12zM1805 2731l3 3 12-6 4-10 2-13-1-16-3-13-4-7-10-4-10 10-4 20 2 23 2 4zM1045 2643l8 1 10-26 3-18 0-52-3-16-6-17-16 0-8 20-3 20-1 26 3 29 8 26 3 7z"/>
<path fill="#472e7c" stroke="#472e7c" d="M1365 2810l20-10 9-13 3-13 0-17-4-13-8-11-10-4-10 1-13 8-7 7-6 19 1 16 5 16 10 12zM1627 2797l6-7 3-6-4-10-5-7-9 7-3 6 2 8zM1028 2787l5 2 10-1 10-6 4-8 1-10-2-10-3-6-10-9-10-1-10 5-8 14-1 10 2 7 7 10z"/>
</g></g>
<g clip-path="url(#c30)"><g transform="translate(0 1257.66) scale(0.5)" fill="none" stroke-linejoin="round">
<use href="#a0" stroke="#cae11f" stroke-width="20.0"/>
<use href="#a0" stroke="#efe51c" stroke-width="17.2"/>
<use href="#a0" stroke="#fde725" stroke-width="14.4"/>
<use href="#a0f" fill="#808080"/>
<use href="#a0" stroke="#000" stroke-width="7.6"/>
</g></g>
<clipPath id="c31"><rect x="1093.0" y="1257.7" width="516.8" height="327.1"/></clipPath>
<g clip-path="url(#c31)">
<rect x="1093.0" y="1257.7" width="516.8" height="327.1" fill="#fde725"/>
<g transform="scale(0.5)" stroke-width="1.2" fill-rule="evenodd">
<path fill="#efe51c" stroke="#efe51c" d="M2527 2954l15 1 17-1 15-10 1-3 10-4 3-4 11-3 3 4 10 3 5 7 5 1 23 0 12-2 8-2 15-10 11 2 8-2 13-7 2-3 9-3 1-4 13-4 12 1 3 3 26 10 17 4 34 1 16-5 7-8 7-2 3-6 9-3 4-9 9-5 2-9 10-4 2-9 10-4 2-7 11-1 2 5 9 3 21-6 2-11 13 1 3 3 19 9 2 4 21 6 11 0 3 7 9 3 11-2 9-4 3-10 11 3 3 4 20 8 3 11 9 4 11-4 12 3 23-3 34 8 35 4 0-388-1034 0 0 386 15-3 27-10 2-3 10-3 2-4 10-3 1-3 13-4 23 0 58 15 32-8 1-3 13-4 2 4 10 3 1 7 11 3 0 6 4 4 18 8 4 5 7 2 3 4 9 4 2 6 4 3 28 15 6 5z"/>
<path fill="#cae11f" stroke="#cae11f" d="M2520 2950l22 3 12 0 16-9 2-3 16-10 11-3 23 15 12 1 23-3 23-12 13 2 15-7 18-11 11-3 12 0 8 4 38 12 34 1 16-6 13-10 2-3 10-7 4-6 7-4 4-9 8-4 4-9 9-4 4-7 11-3 6 7 5 2 18-5 5-11 15 1 20 10 6 6 17 5 11 0 8 8 4 1 17-4 4-10 2-1 11 2 8 6 15 6 5 10 7 5 11-4 12 3 23-2 46 9 23 2 0-386-1034 0 0 384 23-6 13-5 29-16 15-5 23 0 46 13 12 1 29-6 2-3 15-5 5 5 8 3 3 7 9 3 2 6 19 10 25 17 4 6 40 22z"/>
<path fill="#a8db34" stroke="#a8db34" d="M2533 2950l21 1 31-20 14-4 23 14 12 1 23-2 23-12 11 2 35-19 11-2 12 0 34 13 12 2 34 1 12-4 26-20 5-6 9-7 2-6 10-7 3-6 8-4 2-6 4-2 11-2 11 8 15-4 4-3 2-7 2-2 12 0 5 2 19 10 8 6 14 4 11 0 12 9 13-3 4-3 2-7 4-2 11 2 23 12 7 11 5 3 11-3 12 3 23-3 46 10 23 1 0-384-1034 0 0 382 23-5 40-20 17-6 12-1 11 1 23 5 23 8 12 1 26-5 8-5 12-4 14 9 4 7 8 3 3 6 30 17 14 10 5 6 37 20z"/>
<path fill="#84d44b" stroke="#84d44b" d="M2525 2947l29 2 34-21 11-2 23 13 12 1 23-2 23-11 11 1 35-18 11-2 12 0 34 12 12 2 34 1 12-4 23-18 14-13 4-6 9-7 3-6 7-4 4-6 5-3 11-2 11 8 17-6 3-7 3-3 12 0 7 3 19 10 8 6 23 3 12 8 11-2 4-2 3-7 5-3 11 2 23 12 12 14 11-4 12 3 23-2 46 9 23 2 0-383-1034 0 0 380 23-5 45-21 12-4 23 0 46 12 12 2 23-4 23-9 15 9 2 3 10 7 5 6 29 17 19 15 35 19z"/>
<path fill="#65cb5e" stroke="#65cb5e" d="M2519 2944l23 3 12 0 34-21 11-2 23 14 12 0 23-2 23-11 11 1 35-17 11-3 12 0 34 12 12 2 34 0 12-3 23-17 12-12 4-6 9-7 4-6 6-4 11-10 11-2 11 8 16-5 3-7 4-4 13 1 15 6 18 12 23 2 12 9 11-2 5-8 7-4 11 2 23 11 12 14 11-4 12 3 23-2 46 9 23 2 0-381-1034 0 0 378 23-5 42-19 15-5 23 0 46 12 12 1 23-3 23-9 12 7 22 19 30 17 16 14 35 18z"/>
<path fill="#48c16e" stroke="#48c16e" d="M2533 2944l21 0 34-19 11-2 23 12 12 1 23-2 23-11 11 1 35-16 11-3 12 0 46 13 34 0 12-4 23-16 23-23 5-6 18-15 11-2 11 8 14-4 4-7 5-5 15 2 31 16 23 3 12 8 11-2 4-6 8-5 11 2 23 10 12 14 11-4 12 3 23-2 46 9 23 2 0-379-1034 0 0 376 23-5 39-17 18-6 23 0 46 12 12 1 23-3 23-9 14 8 20 18 32 18 14 12 35 18z"/>
<path fill="#32b67a" stroke="#32b67a" d="M2527 2941l27 1 34-19 11-2 23 12 12 1 23-3 23-10 11 1 35-16 11-2 12-1 46 13 34-1 12-3 23-17 23-21 3-5 20-16 11-2 11 8 12-3 4-7 7-6 12 0 34 18 23 2 12 8 11-2 6-7 6-3 11 1 23 11 12 12 11-3 12 3 23-2 46 9 23 2 0-377-1034 0 0 374 23-5 45-19 12-3 23 0 58 12 23-2 23-9 15 9 19 17 30 16 16 13 35 18z"/>
<path fill="#23a983" stroke="#23a983" d="M2523 2937l31 2 34-18 11-2 23 12 35-2 23-10 11 1 35-15 11-3 12 0 46 11 34 0 12-4 23-16 25-24 21-17 11-2 11 7 12-3 6-8 5-4 12 0 34 17 23 2 12 8 11-2 4-5 8-5 11 2 23 10 12 12 11-3 12 3 23-2 46 8 23 2 0-374-1034 0 0 371 23-5 40-16 17-4 23 0 58 11 23-2 23-8 17 10 17 15 28 14 18 14 35 18z"/>
<path fill="#1e9d89" stroke="#1e9d89" d="M2520 2934l34 3 34-18 11-2 23 11 35-2 23-10 11 1 35-14 11-3 12 0 46 10 34 0 12-4 23-16 46-39 11-3 11 8 12-3 5-7 6-6 12 1 34 16 23 2 12 7 11-2 6-5 6-3 11 1 23 9 12 12 11-3 12 3 23-2 46 9 23 1 0-371-1034 0 0 368 23-5 46-16 11-2 23 0 58 10 23-1 23-8 18 11 16 13 32 16 14 12 35 17z"/>
<path fill="#21918c" stroke="#21918c" d="M2542 2934l12 0 34-18 11-1 23 10 35-2 23-9 11 0 35-14 11-2 12-1 46 9 34 0 12-4 11-7 58-46 11-2 11 7 12-3 3-5 8-7 12 0 34 16 23 2 12 6 11-2 12-7 11 1 23 8 12 12 11-3 12 3 23-2 46 8 23 2 0-368-1034 0 0 364 23-5 38-12 19-4 23 0 58 10 23-1 23-8 16 10 18 14 31 15 15 12 35 17 11 4z"/>
<path fill="#25838e" stroke="#25838e" d="M2519 2927l23 4 12-1 34-17 11-1 23 9 35-2 23-9 11 1 35-13 11-3 14 0 44 7 34 0 12-4 11-7 28-22 18-12 12-10 11-2 11 7 12-3 4-7 7-5 12 0 34 15 23 2 12 5 11-1 12-7 11 2 23 7 12 11 11-3 12 3 23-2 46 8 23 2 0-364-1034 0 0 359 80-18 23 0 46 7 23 2 12 0 23-8 14 8 20 16 30 14 16 12 35 17z"/>
<path fill="#2a778e" stroke="#2a778e" d="M2521 2924l33 3 34-17 11-1 23 8 35-2 23-8 11 0 35-12 23-4 46 6 34-1 12-3 11-8 27-20 19-10 12-11 11-2 11 7 12-2 5-8 6-5 12 1 23 11 11 3 23 1 12 4 11-1 12-5 11 1 23 6 12 11 11-3 12 3 23-2 46 8 23 2 0-359-337 0 7 13 1 13-16 45-5 8-6 5-12-1-23-9-11-1-7 3-11 9-17 35-11 14-12 7-23 3-11-3-11-10-2-10 1-9 8-7 15-8 15-12 20-24 31-31 17-30-634 0 0 353 80-15 23 0 81 9 23-7 17 10 6 7 42 19 15 12 35 17zM2347 2560l-4-12 3-16 12-6 7 12-1 13-6 10z"/>
<path fill="#306a8e" stroke="#306a8e" d="M2528 2921l26 1 34-15 11-1 23 7 35-3 23-8 11 0 35-11 23-5 23 1 23 4 34-2 12-3 34-24 23-11 12-11 11-2 11 7 12-2 5-7 6-5 12 0 23 11 34 3 12 4 23-4 34 4 12 10 11-3 12 2 23-1 69 11 0-291-12 25-11 10-12 0-34-19-12-4-11 0-12 5-33 19-13 5-11 2-35-3-23 2-11 4-35 20-11 2-23-8-11 0-23 14-12 2-34-12-12-1-11 5-20 21-20 16-1 7 7 23-4 6-8 4-12 2-23 0-23-3-23-9-8-10-2-13-3-7-21-17-12-3-23 2-11-1-12-4-11-6-12-13-6-17 0-13 6-21 7-5 5-4 11 5 23 21 12-8 10-53-1-13-4-17-265 0 9 17 0 19-5 13-15 20-5 14-6 9-5 6-12 3-23 0-23 4-11-2-12-11-11-31-2-15 2-13 11-10 12 3 23 22 11-1 17-37 9-10-152 0 0 345 34-6 46-4 46 1 58 7 23-6 16 10 7 7 38 16 31 19 23 12z"/>
<path fill="#365d8d" stroke="#365d8d" d="M2522 2914l32 2 34-14 11 1 23 6 35-4 23-8 11-1 35-11 34-7 35 2 34-2 12-3 11-6 23-16 23-9 12-11 11-3 11 7 12-1 4-7 7-5 12 1 23 11 46 5 57-1 12 8 11-3 12 2 23-2 23 3 46 9 0-172-12 4-11-3-14-10-32-33-12-5-23 0-46 13-43 2-14 3-12 6-34 30-12 5-34 6-23 10-11 2-46-10-36 23-22 21-11 3-12-3-46-13-57-23-58-15-23-13-45-38-12-6-11-2-23 2-6-18-4-36 0-46 2-26-81 0 2 30-5 48-34 47-12 6-46 3-23-1-17-8-20-13-13-14-19-23-12-4-11 12 0 249 34-3 115-1 12 1 23 7 23-3 17 11 6 5 34 13 35 22 23 11zM2381 2747l-8-13 0-16 8-15 12 0 7 12 1 6-1 10-7 14zM2827 2692l2 3 12 0 0-10-12-5-4 5z"/>
<path fill="#3d4e8a" stroke="#3d4e8a" d="M2526 2908l28 1 34-12 34 7 12-1 23-5 23-8 11-1 12-6 57-19 23-2 35-6 23-1 11-4 12-5 11-11 12-6 5-6 12-30 2-9-1-10-14-20-18-16-9-6-12-4-11 0-12 5-9 11-14 41-7 12-4 4-12-2-24-15-45-22-46-28-11-4-58-12-57-25-11-3-8 2-5 3-22 31-38 35-21 23-13 9-36 20-7 7-3 6 3 8 12 3 23 20 34 10 35 24 23 12zM3217 2833l3 1 0-100-12-1-11-6-35-27-13-8-21-8-23-3-58 2-23 7-19 15-27 36-11 8-23 6-10 9-3 6 3 10 10 10 11 2 12 5 23 25 23 5 23 3 34-1 23-7 12 0 11-8 12 3 57 5 12 2zM2245 2829l21 2 16-2 12-3 13-6 5-4 6-13 1-16-7-21-11-5-12 0-11-6-8-21-5-49-6-16-16-14-11-5-12-2-11 4-5 7-18 43 0 120 11 4zM2425 2659l14 1 11-6 8-11 4-10 1-16-1-66-3-19-5-17-33 0-8 26-4 36-2 56 4 13z"/>
<path fill="#423f85" stroke="#423f85" d="M2536 2898l18 1 22-7 12-1 34 8 46-13 23-10 12-11 11 0 17-9 4-14-2-19-5-7-14-8-11 4-4-2-19-33-12-12-11-7-35-8-57-24-11-2-12 1-11 7-6 6-40 49-15 23-8 29 1 10 5 10 5 8 9 8 26 16zM3057 2810l13-5 12-12 3-9 0-10-4-13-11-13-11-7-12-3-11 3-17 13-9 16-3 17 6 14 11 8 23-1zM2427 2630l12-4 3-13 4-58-2-14-5-10-12 8-6 35-1 30 2 13z"/>
<path fill="#472e7c" stroke="#472e7c" d="M2618 2891l4 2 15-5 18-10 16-13 4-6 3-10-1-10-4-13-5-8-11-11-46-17-16-10-19-16-11-8-11 0-12 11-20 43-5 32 4 17 9 10 16 9 8 3 22-3zM2714 2852l5-6 1-7-6-13-4 16z"/>
<path fill="#481d6f" stroke="#481d6f" d="M2619 2878l3 2 12-3 5-5 5-13-2-13-8-11-12-7-11-1-12 3-6 6-3 6-2 10 2 7 9 12 12 3z"/>
</g></g>
<g clip-path="url(#c31)"><g transform="translate(0 1257.66) scale(0.5)" fill="none" stroke-linejoin="round">
<use href="#a1" stroke="#cae11f" stroke-width="20.0"/>
<use href="#a1" stroke="#efe51c" stroke-width="17.2"/>
<use href="#a1" stroke="#fde725" stroke-width="14.4"/>
<use href="#a1f" fill="#808080"/>
<use href="#a1" stroke="#000" stroke-width="7.6"/>
</g></g>
<clipPath id="c40"><rect x="154.3" y="1673.6" width="830.1" height="327.1"/></clipPath>
<g clip-path="url(#c40)">
<rect x="154.3" y="1673.6" width="830.1" height="327.1" fill="#fde725"/>
<g transform="scale(0.5)" stroke-width="1.2" fill-rule="evenodd">
<path fill="#efe51c" stroke="#efe51c" d="M1739 3903l8 1 14-4 4-3 1-7 8-3 2-10 8-3 3-10 7-3 4-5 24-12 4-3 2-5 8-5 1-6 7-4 3-9 8-4 2-9 7-4 2-3 2-11 5-2 3-3 2-13 20 9 10 0 17-6 2-3 9-4 3-4 16-9 2-3 12-3 0-393-1660 0 0 392 10 3 2 4 9 4 2 6 8 3 2 7 7 3 3 7 7 3 4 7 13 6 13 2 10-2 67-20 14-7 10 1 2 3 14 7 14 2 3 4 17 5 20 0 20-3 65-25 3-3 9-3 2-3 7-4 5-6 8-4 2-4 5-2 3-3 1-7 9-3 2-4 8-3 2-4 8-2 2-11 10-2 10 2 20 0 22 7 2 4 8 3 1 3 8 3 16-3 4-4 9 1 41 18 20 0 30 9 31-5 30 6 10-6 20-4 10 1 10 5 4 5 6 2 4 5 26 8 20 2 31-8 30-5 20 2 30 8 10-1 30 2 10-3 10 0 16-5 28-13 15-10 1-3 9-3 2-5 6-2 4-8 7-2 2-6 8-4 3-7 8-2 2-5 10-3 20 0 12 4 1 4 7 2 4 4 14 7 23 2 10 4 2 3 18 6 6-2 4-4 20-7 11 4 3 3 16 5 16-5 3-3 9-3 2-5 9-5 2-5 8-5 2-4 8-2 1-4 11 0 10 14 28 58 20 53 5 32 0 20 2 7 1 19 2 7 1 23 4 1 17-5z"/>
<path fill="#cae11f" stroke="#cae11f" d="M1735 3900l12 2 14-5 3-7 8-6 2-7 9-6 2-7 13-10 24-13 4-6 6-4 3-6 8-7 2-6 8-7 5-10 5-3 2-10 8-6 5-15 20 9 10 1 13-5 34-23 14-4 0-392-1660 0 0 391 10 3 13 9 14 16 6 3 4 7 13 10 10 4 10 2 10-2 62-18 19-8 10 1 10 6 20 6 8 5 12 3 10 1 30-4 52-19 20-10 35-26 2-7 27-16 3-4 2-7 10-3 30 2 24 8 17 12 10-2 10-5 10 1 40 17 20 0 20 8 10 1 31-5 30 6 10-5 20-5 15 4 25 16 10 3 30 5 51-12 10 0 10 0 40 9 40 1 10-3 10 0 34-13 31-19 12-10 4-6 7-4 3-5 7-5 3-5 5-1 5-6 10-3 20 1 13 4 15 10 13 6 20 1 16 9 14 4 19-10 11-3 19 9 11 3 26-9 4-7 7-3 3-6 7-4 1-3 10-7 13 0 11 14 29 59 14 35 7 27 9 96 3 1 17-5z"/>
<path fill="#a8db34" stroke="#a8db34" d="M1734 3897l13 2 11-3 11-12 3-7 8-6 6-10 12-9 20-11 32-36 3-6 9-10 4-10 7-7 2-9 3-3 20 9 10 0 10-4 35-22 16-5 0-391-1660 0 0 389 10 4 10 6 38 36 12 6 10 2 10-2 50-13 31-13 10 2 10 6 20 5 10 6 10 2 10 1 30-4 51-19 20-10 33-24 3-7 30-20 2-6 2-2 10-3 30 3 26 8 15 10 10-1 10-6 10 2 40 16 20 0 20 8 10 1 31-5 30 6 10-4 20-5 17 5 23 14 10 4 30 4 51-11 10-1 10 0 40 10 40 0 10-3 10 0 31-11 44-29 16-17 6-3 4-6 10-7 10-3 20 1 15 5 26 14 20 2 20 10 10 2 15-8 15-5 20 10 10 3 23-8 6-7 6-3 4-6 18-14 4-2 10 1 7 7 10 17 23 47 14 35 7 26 9 97 3 1 17-5z"/>
<path fill="#84d44b" stroke="#84d44b" d="M1734 3893l13 3 11-2 25-33 15-12 20-10 11-11 21-26 10-13 4-10 6-7 4-9 4-4 20 8 10 0 10-4 33-20 18-6 0-390-1660 0 0 388 12 5 11 6 27 27 10 8 10 5 10 1 10-1 50-13 31-12 10 2 10 5 20 5 10 6 10 2 10 1 30-4 51-19 20-9 30-23 5-7 29-20 3-6 3-3 10-3 30 3 28 9 13 9 10-1 10-6 10 2 40 15 20 1 20 7 10 2 31-5 30 6 10-5 20-4 10 1 30 17 20 6 20 2 51-11 10 0 10 0 40 9 40 0 10-3 10 0 31-11 41-27 37-33 12-4 20 1 17 6 24 13 20 1 20 10 10 2 12-6 18-6 20 10 10 2 20-6 13-10 4-6 18-14 6-2 10 0 7 7 14 25 20 39 13 33 7 26 9 95 3 1 17-3z"/>
<path fill="#65cb5e" stroke="#65cb5e" d="M1737 3890l10 2 11-3 25-32 13-9 22-12 30-34 14-23 8-10 3-6 5-6 20 8 10 1 10-4 38-22 13-4 0-389-1660 0 0 387 15 6 10 6 25 25 10 8 10 5 10 1 10-2 50-12 31-11 10 1 10 6 20 4 10 6 10 2 10 1 30-5 51-18 20-10 30-22 7-8 26-17 3-6 4-4 10-2 30 2 23 7 18 10 10-1 10-5 10 1 40 15 20 1 20 7 10 2 31-5 30 6 10-4 20-5 10 2 13 6 17 10 20 6 20 2 51-11 10 0 10 0 40 9 40 0 10-3 10 0 31-11 40-26 37-32 13-5 20 1 41 18 20 1 20 10 10 2 15-7 15-4 20 9 10 2 10-1 10-4 11-9 5-6 17-14 8-3 10 0 7 7 16 26 18 33 13 32 7 27 9 86 5 4 15 2z"/>
<path fill="#48c16e" stroke="#48c16e" d="M1745 3880l13 2 20-20 4-8 8-6 28-15 20-22 40-56 20 8 10 0 10-3 35-20 16-5 0-388-1660 0 0 386 11 3 12 7 37 33 10 5 10 1 10-1 50-12 31-11 10 2 10 5 20 4 10 6 10 2 10 0 30-4 51-19 20-9 30-21 6-7 25-17 4-6 5-5 10-2 30 2 26 8 15 8 10-1 10-5 10 2 40 14 20 1 20 7 10 1 31-4 30 6 10-4 20-4 10 1 30 16 20 6 20 2 51-11 10 0 10 0 40 8 40 1 10-3 10 0 31-11 40-26 35-30 15-6 20 1 41 18 20 1 20 9 10 2 19-9 11-2 20 9 10 3 20-6 26-23 11-7 4-2 10 1 7 7 16 24 26 45 10 30 6 32 38 66 7 11z"/>
<path fill="#32b67a" stroke="#32b67a" d="M1769 3848l9 2 5-6 11-6 24-10 20-22 40-53 20 8 10 0 10-4 32-17 19-7 0-386-1660 0 0 384 15 5 11 7 34 30 10 5 10 2 10-2 50-11 31-10 10 1 10 5 20 4 10 5 10 2 10 0 30-4 51-18 20-9 30-21 8-8 22-14 10-12 10-3 30 3 30 9 11 7 10-2 10-4 10 1 40 14 20 0 20 7 10 2 31-4 30 6 10-4 20-4 10 1 40 19 30 4 51-10 10 0 10 0 40 8 40 0 10-2 10 0 31-12 40-25 34-28 16-7 20 1 41 17 20 0 20 9 10 2 12-6 18-4 30 12 10-1 10-4 25-22 10-7 6-3 10 0 7 7 5 9 28 36 13 23 10 20z"/>
<path fill="#23a983" stroke="#23a983" d="M1800 3815l8 2 10 0 10-8 50-59 20 8 10 0 44-22 17-5 0-384-1660 0 0 382 25 11 35 30 10 5 10 2 10-2 50-11 31-9 40 9 10 6 10 1 10 0 30-4 51-18 20-9 30-21 5-5 25-15 5-8 5-4 10-3 30 2 25 8 16 7 10-1 10-4 10 1 40 13 20 0 20 7 10 2 31-3 30 5 30-7 10 1 40 18 30 5 51-11 10 0 10 0 40 8 40 1 10-3 10 0 31-11 40-25 37-29 13-5 20 1 41 15 20 1 20 8 10 2 13-6 17-3 30 11 10 0 10-3 32-28 9-4 10 0 7 7 10 15 43 44z"/>
<path fill="#1e9d89" stroke="#1e9d89" d="M1823 3782l5 3 10-1 24-21 6-4 3-6 7-7 20 8 10 0 47-21 14-3 0-383-1660 0 0 380 24 9 10 7 26 23 10 5 10 2 10-1 81-19 40 8 10 5 10 2 10 0 30-5 71-26 37-27 23-13 4-6 6-6 10-2 30 2 41 13 10-1 10-3 10 1 40 12 20 0 20 7 10 2 31-3 30 5 30-6 10 1 40 17 30 4 51-10 10 0 20 1 30 7 40 1 10-3 10 0 31-11 40-24 35-27 15-6 20 0 41 15 20 0 20 8 10 1 10-5 20-3 24 9 16 2 10-2 25-23 10-6 6-3 10 0 7 7 11 16 24 18z"/>
<path fill="#21918c" stroke="#21918c" d="M377 3766l12 3 10-1 81-18 40 7 10 5 10 2 10 0 30-5 71-26 38-26 22-12 5-8 5-3 10-3 30 2 41 12 20-4 10 1 40 11 20 0 20 7 10 2 31-3 30 5 30-5 10 1 13 4 27 12 30 4 51-9 20-1 40 8 40 1 10-2 10 0 31-12 40-23 38-28 12-4 20 1 31 10 10 2 20 1 20 7 10 1 10-5 20-2 26 9 14 2 10-1 26-24 11-6 4-3 10 0 7 7 13 19 15 8 75 33 67 24 34 15 10 1 10-2 10-5 4-6 6-5 20 7 10 0 61-21 0-380-1577 0 5 17-2 19-11 13-5 3-10 2-10-2-16-9-9-10-16-33-9 0 0 377 31 12 29 26zM1124 3408l-2-8 2-9zM1164 3438l-10-12-2-13 0-13 2-7 10-18 10-2 6 7 2 6-2 30-5 16zM1888 3487l-14-6-13-16-11-26-5-26 2-20 8-20 13-13 20-10 10 1 4 3 6 5 8 14 5 20 2 33-1 29-4 15-10 12-10 5z"/>
<path fill="#25838e" stroke="#25838e" d="M383 3763l16 0 81-16 40 6 10 5 10 1 10 0 30-5 71-26 33-21 27-14 3-6 7-5 10-3 30 2 10 4 31 6 20-3 10 1 40 9 20 0 30 9 31-2 30 5 30-5 10 1 17 4 23 10 30 5 51-9 20-1 40 8 40 2 10-3 10 0 31-11 60-34 15-13 15-6 20 1 31 8 30 2 20 6 10 1 10-5 20 0 40 11 10-1 32-26 9-6 10-1 7 6 10 15 20 14 63 24 20 5 51-6 10 1 10 5 23 15 24 9 3 1 10-4 10 5 20 2 61-16 0-178-28-29-12-7-11-2-10 1-30 5-30 8-10 0-40-16-10-8-6-10-3-13 0-17 3-19 11-36 25-56-191 0 4 10 2 13-6 22 20 5 10 5 5 4 8 13 2 17-5 17-10 11-30 14-10 2-10-2-8-10-4-10-1-16 1-20 2-9 7-17-13-23-1-13 4-13-328 0-22 33-13 46-6 10-9 6-42 22-20 7-10-2-14-14-27-6-12-13-10-20-3-13-2-56-84 0 4 3 3 7 0 13-2 10-11 16-3 3-10 3-13-6-6-10-3-9 4-17 8-13-70 0 11 17 2 16-4 13-6 10-4 4-10 1-10-8-7-14-6-39-428 0 8 16 10 13 11 6 20 7 10 15 5 18 0 10-5 26-10 20-10 7-10 0-31-7-10 2-40 16-43 5-12 6-15 13 0 201 34 12 26 23zM1946 3475l3 2 10-25 3-52-2-53-23 0-1 46 2 62 1 10z"/>
<path fill="#2a778e" stroke="#2a778e" d="M385 3756l14 1 61-13 20-1 40 3 10 5 10 2 10 0 30-5 71-26 22-15 38-17 4-6 6-5 10-2 30 2 10 4 31 3 20-3 30 4 20 4 20 0 30 10 31-2 30 5 10-3 30-1 20 3 10 6 20 7 20 2 41-7 30-2 40 8 40 2 10-2 10 0 31-12 31-18 29-13 20-15 10-3 20 0 20 6 51 2 10 4 10-1 10-5 10 0 20 5 30 10 10 0 26-22 15-10 10-3 12 5 3-1 15-33 10-5 30 48 10 10 15 8 25 7 22 0 9-3 8-7 22-27 10 2 16 41 8 10 11 10 15 9 20 8 20 2 21 0 40-8 0-133-30-38-10-9-11-6-10-2-10 1-20 5-40 23-10-5-8-11-12-11-48-25-8-6-4-10 0-13 10-36 5-49-5-20-11-9-10 0-5 6-5 7-5 19-4 33 6 49-2 10-10 8-45 20-10 2-30-3-20-5-11-6-16-13-24-32-10-5-20-1-10-3-10-8-10-20-7-49-10-26-57 0-34 30-10 13-30 49-13 13-10 6-20 9-20 3-10-1-31-10-10-1-20 3-18 7-10 7-22 23-10 7-10 1-20-7-31-15-10-1-20 8-10 1-10-2-13-5-11-7-10-10-26-43-10 0-28 33-13 12-10 6-10 1-10-3-10-7-10-13-17-32-12-13-21-4-20-8-21-4-8-3-27-43-93 0-3 20-2 42-5 13-6 7-6 3-20 4-11 4-30 24-10 5-10 1-10-4-5-17-10-13-4-4-11-1-12 8-6 13-3 13 5 36-6 29 1 56-7 16-12 16-10 6-10 2-11-7-6-10-2-16 5-40 0-26-2-10-4-6-11-7-10 1-10 4-12 12-8 16-10 46-10 12-10 2-30-2-20 3 0 117 39 15 21 18zM538 3383l2 3 10 0 10-14 6-25-34 0-1 20z"/>
<path fill="#306a8e" stroke="#306a8e" d="M387 3746l12 1 10-1 51-13 30 3 30 0 10 5 10 1 10 1 30-5 61-20 10-5 20-15 40-12 3-5 7-6 10-2 30 2 10 4 51-2 50 3 20-1 30 13 31-1 20 3 60-5 10 1 12 7 18 7 20 3 51-8 30-1 30 8 40 5 10-2 10 1 11-3 50-27 30-10 16-12 14-6 20 0 20 4 51-3 10 1 10-3 10-11 10 4 10 7 20 6 20 11 10 2 10-7 21-18 14-13 5-7 4-19-1-36-3-13-8-14-27-22-45-31-43-15-23-13-4-7-3-10 0-45-2-17-5-14-10-10-10 0-10 6-31 37-12 37-5 6-23 12-40 24-30 13-20 5-11-3-20-13-10-4-10-1-10 2-10 6-6 8-17 46-7 10-10 7-10 3-30-1-51 19-30 1-40 11-20-2-20-8-10-1-31 5-10-3-14-21-4-10 0-10 5-19-1-10-16-27-6-19-12-26-12-17-10-2-10 1-20-5-10 1-11 5-13 14-12 16-4 13 0 16 5 46-6 8-10 3-10-2-10-4-8-5-6-6-1-14 10-36 0-13-5-9-20-20-10 1-30 27-41 24-7 13-11 33-24 43-18 23-10 8-30 12-40 30-20 18-11 5-10-7-10-18-10-12-10-5-10 2-20 12-10 1-14-14-16-8-10 0-15 8-5 7 0 75 11 7 36 9 23 20zM1912 3717l27 1 30-8 0-63-12-5-3-4-15-27-21-29-10-8-10-1-10 1-10 4-10 9-11 22-3 16 0 17 4 29 10 20 19 16 11 6zM1756 3589l12 2 10-4 10-11 1-6-3-10-15-20-3-3-10-5-11 1-8 7-3 7-2 10 5 16 8 11zM700 3406l1 1 3-7 1-10-4-17-6 4-4 6 1 10z"/>
<path fill="#365d8d" stroke="#365d8d" d="M398 3720l11 0 4-6-3-7-5-3 2-13-2-20-6-6-10-3-7 9-3 13 5 16 5 6 7 1-1 7zM575 3720l15-1 41-14 20-11 20-14 30 0 10-2 10-8 10-2 30 1 10 4 31-7 40-3 10-3 8-5 5-10 9-36 1-10-6-20-21-26-3-6 1-10 17-26 6-20-1-13-6-21-10-11-10-4-10-1-20-9-10 1-10 8-6 8-6 13-2 19 4 24 11 32-1 6-3 4-18 6-20 1-40-10-30-1-30 4-28 10-17 13-38 49-13 23-5 18-4 4-6 5-10 0-20-11-10 1-12 9-8 11-7 15-1 10 8 12 10 1 30-9 10-1 21 10zM329 3707l23 0 9-7 4-9-1-20-4-16-11-19-10-6-10 0-10 7-10 20 0 34 10 12zM1910 3707l19 3 10-1 20-7 10-11-2-13-8-10-10-6-10-2-21 0-10 3-11 8-5 13 4 13zM1263 3694l12-3 29-17 18-6 33-5 18-12 12-4 40-1 11-4 20-2 10-3 7-5 7-10 7-26 6-13 3-4 10-3 15 7 7 6-6 10-2 13 2 13 4 10 10 5 14-5 5-10 1-21 10 38 10 10 10-4 11-9 7-20-1-17-6-30-11-23-10-14-11-11-19-11-20-8-10-1-30 3-20-2-30-11-39-16-12-2-10 0-20 8-60 33-17 13-24 27-10 4-20-8-10-2-10 2-50 28-10 3-20-2-10 0-11 2-46 25-3 3 7 26 1 30 5 6 11 7 15 5 10 0 41-12 10 1 20 4 20 7 10 2 30-1z"/>
<path fill="#3d4e8a" stroke="#3d4e8a" d="M708 3664l3 1 50-7 10 1 21-8 16-9 14-13 6-17-1-10-2-6-13-15-10-6-8-2-12-1-31 4-10-2-27-11-13-2-30 3-20 4-20 11-10 10-11 20-1 33 32 12 10-2 20-7 10 4 17 12zM1190 3664l14 3 10-2 40-17 10-2 91 2 20-9 20-4 12-6 14-17 5-26-4-26-17-44-10-10-10-4-10 1-10 6-20 20-30 3-10 4-20 18-21 28-10 7-10-2-20-12-10-4-10 0-10 3-10 7-25 25-8 13-1 6 6 13 8 10 13 10z"/>
<path fill="#423f85" stroke="#423f85" d="M716 3651l25-2 13-7 5-7 1-6-2-7-4-7-13-8-20-5-10 2-10 8-4 13 2 13 8 10zM1389 3615l6 1 10-8 5-15 0-14-3-9-2-5-10-7-10 1-5 4-6 10-2 10 0 13 3 8 6 8zM1303 3606l2 0 4-4 3-9-2-10-5-6-10 9-2 7 2 9z"/>
</g></g>
<g clip-path="url(#c40)"><g transform="translate(0 1673.60) scale(0.5)" fill="none" stroke-linejoin="round">
<use href="#a0" stroke="#cae11f" stroke-width="20.0"/>
<use href="#a0" stroke="#efe51c" stroke-width="17.2"/>
<use href="#a0" stroke="#fde725" stroke-width="14.4"/>
<use href="#a0f" fill="#808080"/>
<use href="#a0" stroke="#000" stroke-width="7.6"/>
</g></g>
<clipPath id="c41"><rect x="1093.0" y="1673.6" width="516.8" height="327.1"/></clipPath>
<g clip-path="url(#c41)">
<rect x="1093.0" y="1673.6" width="516.8" height="327.1" fill="#fde725"/>
<g transform="scale(0.5)" stroke-width="1.2" fill-rule="evenodd">
<path fill="#efe51c" stroke="#efe51c" d="M2530 3786l12 1 15-1 17-10 2-5 8-2 4-5 11-3 4 5 8 2 3 4 8 5 12 0 23-3 19-8 4-4 11 3 7-2 4-4 9-3 2-3 10-3 3-5 11-3 12 0 4 4 30 11 23 4 23 0 16-5 4-3 1-3 9-4 3-6 10-4 3-8 9-5 2-9 10-4 2-8 10-5 1-6 12-2 2 5 9 3 21-6 2-11 13 1 3 3 19 9 2 4 21 6 11 0 3 7 9 3 16-3 5-3 2-10 11 3 3 4 20 8 3 11 9 4 11-4 12 3 23-3 34 8 35 4 0-388-1034 0 0 386 28-6 14-7 4-4 8-2 3-5 9-2 1-3 13-4 23 0 46 13 12 1 32-7 1-3 13-4 2 4 10 3 1 7 11 3 1 6 21 11 6 6 5 1 4 5 8 2 3 8 31 16 8 7z"/>
<path fill="#cae11f" stroke="#cae11f" d="M2524 3782l30 2 15-8 18-13 12-3 23 15 12 0 23-2 23-12 12 2 15-7 19-12 11-3 12 0 34 14 12 3 34 1 16-6 25-20 4-6 7-4 4-9 8-4 4-10 9-3 4-7 11-3 6 7 5 2 18-5 5-12 15 2 20 10 6 6 17 5 11 0 7 8 5 2 18-5 5-11 11 2 7 6 16 7 7 12 5 2 11-4 12 3 23-2 46 9 23 3 0-387-1034 0 0 384 23-5 14-6 28-16 15-5 12-2 11 2 23 5 23 8 12 1 28-6 3-3 15-5 13 8 4 7 8 3 3 6 20 10 21 14 7 9 35 20z"/>
<path fill="#a8db34" stroke="#a8db34" d="M2542 3782l12 0 30-19 15-5 23 15 12 0 23-2 23-12 11 2 35-18 11-3 12 0 34 13 12 3 34 1 12-4 26-20 5-6 9-7 2-6 10-7 3-7 8-3 3-6 3-2 11-2 11 8 15-4 4-4 2-6 2-2 12 0 5 2 19 10 8 6 14 4 11 0 12 9 15-3 5-10 3-2 11 2 23 12 7 11 5 4 11-4 12 3 23-3 46 10 23 2 0-385-1034 0 0 383 23-6 40-20 17-6 12-2 11 2 46 12 12 1 25-4 9-6 12-3 15 9 1 3 11 7 4 6 30 17 19 16 35 19 11 4z"/>
<path fill="#84d44b" stroke="#84d44b" d="M2533 3779l21 1 33-21 12-2 23 14 12 0 23-2 23-11 11 1 35-17 11-3 12 0 34 12 12 3 34 0 12-3 24-18 14-13 3-6 9-7 4-7 7-3 4-6 4-3 11-2 11 8 17-7 3-6 3-3 12 0 7 3 19 10 8 6 23 3 12 9 11-2 5-3 2-7 5-3 11 2 23 12 12 14 11-4 12 3 23-2 46 9 23 3 0-384-1034 0 0 381 23-6 44-22 13-3 23 0 46 12 12 1 23-4 23-9 12 7 22 19 30 17 16 14 35 19z"/>
<path fill="#65cb5e" stroke="#65cb5e" d="M2528 3776l26 1 34-20 11-2 23 14 12 0 23-2 23-11 11 1 35-17 11-2 12 0 34 11 12 2 34 1 12-4 23-16 13-12 3-6 9-7 4-7 7-3 4-6 6-4 11-2 11 8 16-6 3-6 4-4 13 1 15 6 18 12 23 3 12 8 11-2 6-8 6-3 11 1 23 12 12 13 11-3 12 3 23-3 46 10 23 2 0-382-1034 0 0 379 23-5 41-21 16-4 23 0 46 12 12 1 23-4 23-9 14 8 20 18 33 18 13 11 35 19z"/>
<path fill="#48c16e" stroke="#48c16e" d="M2525 3772l29 3 34-20 11-2 23 13 12 1 23-3 23-10 11 1 35-16 11-3 12 0 46 13 34 1 12-4 23-16 11-11 4-5 9-7 4-7 18-14 11-2 11 8 14-5 4-6 5-5 15 2 31 16 23 3 12 9 11-2 5-7 7-5 11 2 23 11 12 13 11-3 12 3 23-2 46 9 23 2 0-380-1034 0 0 377 23-5 38-19 19-5 23 0 46 11 12 1 23-3 23-9 16 9 18 16 31 16 15 13 35 18z"/>
<path fill="#32b67a" stroke="#32b67a" d="M2524 3769l30 3 34-19 11-2 23 13 35-2 23-11 11 2 35-16 11-3 12 0 46 12 34 1 12-4 23-16 23-21 4-6 19-15 11-2 11 8 12-4 4-6 7-6 12 0 34 18 23 3 12 8 11-2 3-5 9-6 11 2 23 11 12 12 11-3 12 3 23-2 46 9 23 2 0-378-1034 0 0 374 23-5 42-19 15-4 23 0 46 11 12 1 23-2 23-9 17 10 17 15 29 14 17 13 35 18z"/>
<path fill="#23a983" stroke="#23a983" d="M2524 3766l30 3 34-18 11-2 23 12 35-2 23-11 11 2 35-15 11-2 12-1 46 12 34 0 12-3 23-16 25-25 21-16 11-2 11 8 12-4 6-8 5-4 12 0 34 17 23 3 12 8 11-2 5-6 7-4 11 2 23 10 12 12 11-3 12 3 23-2 46 9 23 2 0-376-1034 0 0 372 23-5 38-17 19-5 23 0 58 12 23-3 23-9 14 8 20 17 28 13 18 13 35 18z"/>
<path fill="#1e9d89" stroke="#1e9d89" d="M2526 3763l28 2 34-17 11-2 23 12 35-3 23-10 11 1 33-13 13-3 12 0 46 10 34 1 12-4 23-15 46-39 11-2 11 7 12-3 5-7 6-6 12 1 34 16 23 3 12 7 11-1 3-4 9-5 11 1 23 10 12 12 11-3 12 2 23-2 46 9 23 3 0-374-1034 0 0 369 23-5 41-17 16-4 23 0 58 11 23-2 23-8 17 9 6 7 11 7 34 16 12 10 35 17z"/>
<path fill="#21918c" stroke="#21918c" d="M2532 3759l22 2 34-17 11-1 23 11 35-3 23-10 11 1 34-12 12-3 12 0 46 9 34 1 12-3 11-8 58-45 11-2 11 8 12-4 3-5 8-7 12 0 34 16 23 3 12 7 11-2 12-8 11 2 23 8 12 12 11-3 12 2 23-2 46 10 23 2 0-371-616 0 7 13 4 13 0 13-2 14-7 13-7 7-11 7-12 1-22-7-35-16-11-16-5-35-3-7-66 0-12 20-18 43-11 13-12-1-4-13-1-16 5-22 17-24-212 0 0 365 23-5 43-16 14-3 23 0 58 10 23-1 23-8 15 8 8 7 11 7 35 15 11 10 35 17z"/>
<path fill="#25838e" stroke="#25838e" d="M2547 3756l7 0 34-16 11-2 23 10 12 0 23-3 23-9 11 1 35-11 23-3 23 3 23 5 34 1 12-3 11-7 29-22 17-10 12-10 11-3 11 8 12-4 4-7 7-5 12 0 34 15 23 3 12 6 11-1 12-7 11 2 23 8 12 11 11-3 12 2 23-2 46 10 23 2 0-368-504 0 17 20 6 19 0 14-2 9-4 10-6 7-13 9-11 5-12 3-34-1-11 3-15 20-8 6-17 7-18 2-46-13-34 4-12 0-9-6-2-7 6-29 0-16-6-28-12-16-11 0-12 9-11 22-10 32-8 17-8 9-8 7-12 3-12-2-27-14-23-16-6-10 1-10 9-17 7-26 16-26-172 0 0 361 23-5 43-16 14-2 23 0 58 10 23-1 23-8 14 8 9 8 44 18 13 10 35 17 18 6z"/>
<path fill="#2a778e" stroke="#2a778e" d="M2546 3750l8 0 34-17 11-1 12 3 11 6 12-1 23-3 23-9 11 1 17-6 41-6 23 1 34 7 23 1 12-3 11-7 27-19 19-9 12-11 11-2 11 7 12-3 5-8 6-5 12 1 23 11 11 3 23 3 12 5 11-1 12-5 11 1 23 7 12 11 11-3 12 2 23-2 46 10 23 2 0-310-12 46-11 12-12-2-8-12-4-13-2-85-156 0 6 33 12 36 0 20-5 9-7 10-14 13-17 9-12-1-11-5-18-13-7-9-3-13 2-23 8-27 6-15 16-24-112 0-7 8-11 5-23 4-4 3-8 7-17 32-9 13-14 13-31 23-23 26-9 6-12 4-34 1-17 6-7 6-9 23-8 13-17 11-11 4-12 1-16-3-10-6 0-7 6-16 1-17-3-8-12-5-11 0-23 6-12 0-34-12-12-2-11 1-9 4-4 7 5 19-3 10-12 7-12-2-13-8-18-30-15-9-11-5-35-7-11-5-46-24-12 0-11 7-6 11-6 23-5 13-6 21-12 2-11-6 0 188 23-5 23-10 23-6 34 0 46 7 35 2 23-8 15 8 8 7 38 12 19 13 35 17 20 6z"/>
<path fill="#306a8e" stroke="#306a8e" d="M2548 3740l6 0 34-15 23-4 11 4 35-5 23-15 11 4 12-5 23 4 11 0 23-6 12 1 23 7 23 5 11 1 12-2 34-21 23-9 12-10 11-2 11 6 12-3 5-7 6-5 12 1 23 10 34 6 12 5 11-1 12-4 11 1 23 6 12 10 11-3 12 2 23-2 46 10 23 3 0-182-35-17-46-39-11-4-37 10-55 8-35 16-11 4-12 1-11-3-57-22-12-2-11 1-12 6-34 30-12 4-11-2-5-5-12-43-6-12-12 3-11 13-20 29-14 33-24 31-23 23-11 5-12-3-23-14-11-3-12 0-16 6-41 24-23 6-11-2-12-7-19-21-15-12-12-6-11-2-12 2-12 5-22 23-12-5-10-18-12-13-12-7-12-4-11-1-35 3-46-8-11 0-46 20-12 2-11-2 0 139 23-5 23-11 23-8 11 0 58 9 46 4 23-8 16 8 7 6 34 5 12 5 11 10 35 17 23 9z"/>
<path fill="#365d8d" stroke="#365d8d" d="M2557 3717l8 2 11-3 23-8 9-8 5-6 2-10-2-10-4-6-10-5-11-1-12 1-15 8-9 10-4 13 2 16zM3218 3700l2 1 0-129-45-25-36-32-11-6-35-4-46 2-23 6-34 20-12 3-11-2-35-14-22-2-12 2-23 11-25 19-27 29-10 14-5 9 1 20 13 52 7 12 12 7 23-5 11-5 23-4 12-10 11-3 11 6 12-3 3-5 8-6 12 1 23 10 34 6 12 3 23-2 34 5 12 10 11-3 12 2 23-2 46 10zM2186 3681l0 1 11-2 12-6 7-10 1-13 4-6 22-6 37-7 10-3 9-7 7-10 1-10-3-9-9-14-11-9-14-7-15-2-12 1-23 9-33 22-1 1zM2729 3655l8 2 12-8 31-40 5-10-1-10-5-10-7-7-12 1-11 6-12 9-11 15-6 19-2 20 6 9z"/>
<path fill="#3d4e8a" stroke="#3d4e8a" d="M3212 3691l8 0 0-89-13-9-18-10-27-11-23-7-44-5-48-12-23 0-46 18-11 2-35-3-57 12-11 7-5 5-7 11-4 12-1 17 2 16 5 10 10 9 11 0 12 4 11 0 12-9 11-4 11 3 12-2 11-7 12 2 23 11 46 8 57 2 12 9 11-3 12 1 23-3 40 11zM2254 3612l12 2 12-5 2-3 1-7-3-9-12-9-13-2-10 4-4 6 0 7 3 6 5 7z"/>
<path fill="#423f85" stroke="#423f85" d="M3103 3661l2 2 11-3 12 1 23-6 34-1 5-3 6-6 2-10-1-8-12-15-13-10-21-10-12-2-34-1-12-3-34-13-23-4-12 1-10 3-12 6-19 17-7 13-2 16 3 10 6 10 11 6 30 7 23 0 12 3 34-5z"/>
<path fill="#472e7c" stroke="#472e7c" d="M3024 3648l16-3 5-3 5-7-1-10-13-14-12-2-11 6-12 10 0 10 5 7 7 4z"/>
</g></g>
<g clip-path="url(#c41)"><g transform="translate(0 1673.60) scale(0.5)" fill="none" stroke-linejoin="round">
<use href="#a1" stroke="#cae11f" stroke-width="20.0"/>
<use href="#a1" stroke="#efe51c" stroke-width="17.2"/>
<use href="#a1" stroke="#fde725" stroke-width="14.4"/>
<use href="#a1f" fill="#808080"/>
<use href="#a1" stroke="#000" stroke-width="7.6"/>
</g></g>
<clipPath id="c50"><rect x="154.3" y="2089.5" width="830.1" height="327.1"/></clipPath>
<g clip-path="url(#c50)">
<rect x="154.3" y="2089.5" width="830.1" height="327.1" fill="#fde725"/>
<g transform="scale(0.5)" stroke-width="1.2" fill-rule="evenodd">
<path fill="#efe51c" stroke="#efe51c" d="M1732 4735l15 2 17-5 4-10 7-3 3-10 7-3 3-9 7-4 3-5 26-12 3-6 7-4 4-9 7-4 3-9 7-4 2-10 8-3 2-13 7-3 2-3 2-12 20 8 10 0 18-6 1-4 9-3 1-3 9-3 3-4 7-3 2-3 11-2 0-394-1660 0 0 392 10 3 2 4 9 3 1 7 9 3 1 7 8 3 2 7 8 4 4 5 14 7 12 2 10-2 67-20 14-7 10 2 16 9 14 2 3 4 17 5 20 0 20-3 66-25 3-3 9-3 3-5 5-2 5-6 8-4 2-4 6-2 3-10 9-3 1-4 10-3 1-4 8-2 2-10 10-3 30 2 22 7 2 4 8 3 1 3 8 3 16-3 4-4 7 1 43 18 20 0 30 10 31-6 20 5 10 1 6-2 4-4 20-4 12 2 3 3 5 2 4 4 8 4 2 3 26 8 20 2 31-7 30-5 20 1 30 8 40 0 10-3 10 0 24-7 14-7 20-13 2-3 8-4 3-4 6-2 4-8 6-2 4-7 7-3 3-7 8-3 2-4 10-3 20 0 12 4 2 3 6 3 4 4 17 6 20 2 10 5 3 3 17 5 6-1 4-5 20-7 11 5 3 3 16 4 15-4 4-3 9-3 2-6 9-4 1-7 9-3 1-3 8-3 2-4 11 0 10 13 30 64 20 57 8 99 5 4 10-5 7-1z"/>
<path fill="#cae11f" stroke="#cae11f" d="M1742 4735l5 0 12-3 4-3 2-7 6-3 5-10 5-3 5-10 12-9 25-14 1-3 9-7 3-6 5-4 5-9 8-7 1-7 8-6 3-10 8-6 4-14 20 8 10 1 13-5 35-23 13-4 0-392-1660 0 0 391 10 3 5 5 7 3 1 4 10 6 3 7 6 3 4 7 13 9 11 5 10 1 10-1 50-14 31-12 10 1 10 6 20 6 8 5 12 3 10 1 30-4 52-20 21-9 34-26 2-7 8-3 2-4 8-3 4-5 5-1 5-11 10-3 30 2 24 8 17 12 10-2 10-5 10 1 40 17 20 1 20 7 10 2 31-6 30 6 10-5 20-5 14 4 26 16 10 3 30 5 10-1 41-11 10 0 10 0 40 9 40 0 10-3 10 0 33-12 22-13 22-16 1-4 9-6 4-6 7-4 3-5 5-2 5-5 10-3 20 0 14 5 27 15 20 2 17 9 13 3 18-9 12-4 20 10 10 2 25-8 4-7 8-3 2-7 7-3 2-3 10-7 13-1 11 14 28 59 17 46 5 16 9 99 3 1 17-5 20 10z"/>
<path fill="#a8db34" stroke="#a8db34" d="M1736 4732l11 1 11-3 5-8 8-6 3-7 7-7 3-6 14-11 22-12 31-36 3-7 9-9 1-7 9-10 3-10 2-1 20 8 10 0 10-4 36-22 15-5 0-391-1660 0 0 390 10 3 14 9 26 27 10 8 10 4 10 1 10-1 50-13 31-13 10 2 10 6 20 5 10 6 10 2 10 1 30-4 51-19 20-9 34-25 3-7 17-10 12-10 2-6 2-2 10-3 30 3 26 8 15 10 10-1 10-5 10 1 40 17 20 0 20 8 10 1 31-5 30 6 10-5 20-5 17 5 23 14 10 4 30 5 51-12 10-1 10 0 40 9 40 0 10-3 10 0 31-11 43-28 16-17 21-16 10-3 20 0 16 6 25 14 20 1 20 11 10 1 15-7 15-5 20 10 10 2 21-7 7-7 6-3 4-7 18-13 5-2 10 1 7 7 9 17 24 49 14 36 7 26 9 97 3 1 17-5z"/>
<path fill="#84d44b" stroke="#84d44b" d="M1735 4729l12 2 11-3 27-35 13-10 20-10 31-36 3-7 8-9 5-10 6-7 4-10 3-3 20 9 10 0 10-4 35-21 16-5 0-391-1660 0 0 389 10 4 16 9 24 25 10 7 10 5 10 1 10-1 50-13 31-12 10 2 10 5 20 5 10 6 10 2 10 1 30-4 51-19 20-9 31-23 4-7 30-20 2-6 3-3 10-3 30 3 28 9 13 9 10-1 10-6 10 2 40 16 20 0 20 8 10 1 31-5 30 6 10-4 20-5 10 2 30 17 20 5 20 3 51-11 10-1 10 0 40 8 40 0 10-3 10 0 31-11 41-26 37-33 12-4 20 0 41 19 20 1 20 11 10 1 19-8 11-3 20 9 10 3 20-7 12-9 4-7 18-13 7-3 10 1 7 7 13 25 20 39 14 36 7 26 9 96 3 1 17-4z"/>
<path fill="#65cb5e" stroke="#65cb5e" d="M1736 4725l11 2 11-2 3-6 7-6 4-7 6-5 4-8 12-10 24-13 30-35 10-14 5-10 6-7 4-10 5-4 20 8 10 0 10-4 33-19 18-6 0-390-1660 0 0 388 13 5 10 6 27 26 10 7 10 5 10 1 10-2 50-12 31-11 10 1 10 6 20 4 10 6 10 2 10 1 30-4 71-28 30-22 8-9 26-17 2-6 4-4 10-2 30 2 22 7 19 11 10-2 10-5 10 2 40 15 20 1 20 7 10 1 31-4 30 5 10-4 20-4 10 1 30 17 20 5 20 3 51-11 10-1 10 0 40 8 40 0 10-3 10 0 31-11 40-26 37-31 13-5 20 0 41 18 20 2 20 9 10 2 14-6 16-5 20 10 10 2 20-6 27-24 11-7 13 0 7 7 17 29 17 33 13 32 8 30 8 93 3 2 17-3z"/>
<path fill="#48c16e" stroke="#48c16e" d="M1738 4719l9 2 11-2 4-7 6-3 3-7 7-5 4-8 12-9 24-13 20-22 20-27 5-10 5-5 4-9 6-6 20 8 10 0 10-4 37-20 14-4 0-389-1660 0 0 387 15 6 10 6 25 23 10 8 10 4 10 1 10-1 50-12 31-10 10 1 10 5 20 5 10 5 10 2 10 0 30-4 71-27 30-22 7-7 25-17 3-6 5-5 10-2 30 2 26 8 15 9 10-1 10-5 10 1 40 15 20 1 20 7 10 1 31-4 30 5 10-4 20-3 10 1 30 16 20 5 20 3 61-12 10 0 40 8 40-1 10-3 10 0 31-10 40-26 35-29 15-6 20 0 41 17 20 2 20 9 10 2 18-8 12-2 20 9 10 2 20-5 25-23 11-7 5-2 10 0 7 8 17 27 16 28 11 24 10 33 4 41 16 37 7 11z"/>
<path fill="#32b67a" stroke="#32b67a" d="M1766 4693l2 1 10-5 3-6 14-10 23-11 20-21 23-33 7-8 5-9 5-5 20 8 10 0 45-22 16-5 0-388-1660 0 0 386 11 3 12 7 27 24 10 7 10 5 10 1 10-2 50-11 31-10 10 1 10 5 20 4 10 6 10 1 10 1 30-4 71-28 30-20 5-6 26-17 3-6 6-6 10-2 30 2 29 9 12 7 10-1 10-5 10 2 40 14 20 1 20 7 10 1 31-4 30 5 10-3 20-4 10 2 30 15 20 5 20 2 61-11 10 0 40 7 40-1 10-2 10 0 21-7 20-9 30-20 33-27 17-7 20 0 41 16 20 1 20 9 10 2 10-5 20-4 20 8 10 3 20-5 23-21 18-11 10 1 7 8 35 51 12 23 9 21z"/>
<path fill="#23a983" stroke="#23a983" d="M1807 4653l11-1 10-8 50-61 20 8 10 0 42-19 19-7 0-386-1660 0 0 384 15 5 11 7 24 21 10 7 10 5 20 0 61-14 20-6 10 1 10 4 20 4 10 5 10 2 10 0 30-4 71-28 30-19 7-8 23-13 3-6 7-7 10-2 30 2 24 7 17 8 10-1 10-4 10 1 40 14 20 0 20 7 10 1 31-4 30 6 10-3 20-4 10 2 40 17 30 5 61-11 10-1 40 7 40-1 10-2 10 0 21-6 20-10 30-19 36-28 14-6 20 1 41 15 20 0 20 9 10 2 11-5 19-4 30 11 10-1 10-3 25-23 16-9 10 1 1 2 16 22 43 45 102 87 9 6z"/>
<path fill="#1e9d89" stroke="#1e9d89" d="M1825 4614l13 3 30-24 5-8 5-5 20 8 10-1 46-19 15-4 0-385-1660 0 0 382 12 4 12 7 36 28 10 5 20 0 50-11 31-8 10 1 10 4 20 3 10 5 10 2 10 0 30-4 71-28 60-39 5-7 5-5 10-2 30 1 29 9 12 5 10-1 10-3 10 1 40 13 20 1 20 6 10 2 31-4 30 5 30-5 10 1 40 17 30 4 61-11 10-1 40 6 40 0 10-3 10 0 21-6 20-9 50-33 14-11 16-7 20 0 41 13 20 1 20 8 10 2 10-5 20-2 20 7 10 3 10 0 10-3 26-24 15-8 10 1 7 8 10 16 28 20z"/>
<path fill="#21918c" stroke="#21918c" d="M380 4601l19 0 81-18 40 8 10 5 10 1 10 1 30-5 71-27 30-18 6-6 24-13 4-6 6-6 10-3 30 2 31 8 10 5 20-4 10 1 40 12 20 1 20 6 10 1 31-3 30 5 30-5 10 2 40 16 30 4 61-12 20 1 30 4 40 0 10-3 10 1 31-11 60-36 16-13 14-5 20 0 41 11 20 1 20 8 10 1 10-4 20-2 20 7 20 3 10-2 26-24 15-8 10 1 7 8 12 18 13 9 179 76 10 1 20-7 4-7 6-5 20 7 20-2 51-19 0-383-1660 0 0 380 23 9 37 29z"/>
<path fill="#25838e" stroke="#25838e" d="M387 4598l12-1 81-16 40 6 10 5 10 1 10 0 30-5 30-13 41-14 60-34 5-8 5-4 10-2 30 1 41 11 20-3 10 1 40 11 20 1 20 6 10 1 31-3 30 5 30-3 20 4 30 12 30 4 51-11 20-2 40 5 40 0 10-3 10 1 31-10 35-22 25-13 18-13 12-4 20 0 20 5 41 3 20 7 10 2 10-5 20 0 20 6 20 3 10-1 23-22 18-9 10 1 20 28 17 10 133 45 7 3 3 3 31 12 10 2 10 0 10-4 10-7 20 6 20-1 51-16 0-381-1660 0 0 378 23 8 37 27 10 5zM953 4253l-11-3 0-12 0-8 11-11 8 9 2 7-2 6zM1234 4311l-10-13-19-50 0-26 3-13 6-14 10 0 10 23 10 41 3 21-2 20-3 7zM1305 4363l-10-29-1-14 1-15 10-5 10 14 1 19-1 18z"/>
<path fill="#2a778e" stroke="#2a778e" d="M378 4591l11 2 10-1 81-14 40 4 10 5 10 1 20-1 20-5 30-14 41-12 60-31 3-6 7-6 10-3 30 2 10 4 31 5 20-3 10 1 40 11 20 0 20 6 10 2 31-4 30 6 30-3 20 4 30 12 30 3 51-12 20-2 40 4 40 0 31-4 20-7 33-22 27-11 18-12 12-4 20-1 20 4 21-2 20 1 10 2 10 5 10 1 10-6 10 0 50 9 10-2 15-17 9-7 17-4 10 2 2 2 5 7 8 14 6 6 22 9 88 18 60 8 25 10 25 15 10 1 10 5 10 3 20 1 21-4 30-8 0-379-713 0 8 33 11 17 10 3 8-7 12-6 10-1 20-10 10 1 5 6 5 6 6 17 4 17 4 39 0 22-3 23-11 36-10 21-10 11-10 4-20-2-7-4-8-7-15-19-31 1-10-6-13-18-24-53-13-13-10-2-10 5-20 24-8 3-22-5-21 3-4-2-3-3-2-6 0-33-3-23-8-22-10-11-10-3-20 0-9-6-7-14-6-16-669 0 13 33 2 16-3 10-15 23-8 16-12 38-10 13 0 226 30 10 30 23zM399 4291l-10-13-9-27-2-16 4-10 7-8 10-8 10-1 5 7 3 10 1 19-9 32zM953 4288l-14-8-10-16-4-10-1-16 2-16 10-17 6-5 11-4 10 3 7 10 7 13 2 19-1 17-5 13-10 13zM1597 4345l-11-10-3-12-1-13 4-26 11-12 10 9 7 26 2 16-1 10-6 10-2 2zM1868 4264l-20-14-10-12-10-20-1-9 1-10 10-10 10 6 8 17 9 29 15 20-2 5z"/>
<path fill="#306a8e" stroke="#306a8e" d="M378 4585l11 2 10-1 81-13 40 3 10 4 20 1 30-9 30-13 41-11 20-10 30-11 10-5 4-6 6-6 10-2 30 1 10 3 31 2 30 1 40 9 20 1 30 6 31-2 30 4 10-1 30 2 20 5 20 8 30 3 10-2 41-12 30-4 90 3 21-5 10-5 18-16 12-13 10-6 20 4 20-10 10-3 30-2 10-2 11-8 10-4 30 5 10 4 10-2 10-10 20-6 9-5 5-7 10-23 3-13 0-16-2-13-8-23 2-20 17-52 9-23 12-20 14-12 10-3 10 3 30 24 10 5 10-14 10-35 10-7 10 3 8 7 12 16 6 23-2 20-11 19-13 12-10 4-20 1-10 13-23 48-7 9-24 18-3 7 0 6 3 10 7 10 27 26 40 29 10 0 10-5 10-1 30 11 31 6 10 0 10-5 14-22 8-7 8-4 10-1 10 3 10 9 4 6 1 14 1 26 2 6 9 13 23 20 10 5 20 5 21-1 30-6 0-236-20-25-10-4-10 4-31 19-10 4-10-3-10-6-50-40-26-17-10-10-5-10-4-13-4-39-385 0 11 67 19 64 3 20-2 16-3 10-5 6-37 36-15 28-10 10-10 4-10-1-31-15-19-6-41 0-10-5-10-15-20-45-10-15-10-2-20 13-20 1-10-5-10-2-11 3-20 13-10 0-40-29-20-9-50-5-41 12-20-1-10-3-10-9-8-12-8-19-2-17 2-16 28-72-48 0 10 13 2 7-1 6-15 23-8 23-2 3-10 0-9-19-7-7-14-5-41-6-45-12-19-6-5-4-1-3 8-6 10-4 29-3-120 0 15 13 4 7 1 6-2 10-7 13-13 13-16 9-10 1-11-7-4-16-1-29 3-10 6-10-103 0-11 20-3 26-3 46-7 36-15 45-12 22-10 8-10 4-10 1-40 0-40 11 0 151 30 8 30 23zM500 4238l-10-16-2-13 2-13 10-1 10 20 0 16-4 4zM1214 4495l-12-5-4-7-2-10 8-22 10-11 10-1 7 12 5 22-3 10-5 7-4 3z"/>
<path fill="#365d8d" stroke="#365d8d" d="M378 4575l11 3 10 0 61-11 50-1 10 0 10 4 20-2 60-23 41-8 20-9 30-6 10-4 3-5 7-7 10-2 30 0 10 3 41-2 40 6 20 5 20 0 20 6 10 1 31-3 20 4 50 2 20 4 20 9 30 1 10-2 49-22 8-7 1-6-11-23 0-10 32-42 3-10 0-10-3-6-8-10-10-2-10-14-10 0-7 9-23 51-11-3-14-28-10-10-39-29-27-15-50-9-61 6-20-5-30-16-10 0-20 7-10-2-10-9-7-13-24-62-5-10-4-3-20-7-41-7-20-1-7 2-7 3-26 24-31 17-30 11-30 2-13 5-11 10-16 25-10 3-20-1-10 7-10 13-21 38-13 13-17 9-40 8-10 4-5 5-3 6 0 7 10 26 0 13-2 4-10 5-40 5 0 55 30 6 20 17zM1927 4552l22 1 20-3 0-108-10-11-10-36-10-24-10-10-11-2-10 4-44 39-4 6 0 10 3 16 18 39 3 36 4 17 7 10 8 6 13 7zM1380 4467l5 1 10-3 23-31 2-10-1-9-6-10-8-6-10-3-10 3-9 9-4 7-1 13 4 19 0 17zM1783 4441l15 0 25-10 12-10 17-19 1-23-3-36-4-17-6-13-12-13-10-7-20-7-40-1-11 3-10 7-30 41-10 11-20 16-5 12-1 17 3 10 6 9 12 10 13 7 22 7 31 2zM1516 4415l10 1 7-8 3-6-1-17-9-15-10 0-2 2-8 16 1 14z"/>
<path fill="#3d4e8a" stroke="#3d4e8a" d="M385 4559l14 3 50-5 31 0 50-3 20-5 26-10 45-24 30-1 20-5 30 3 10-2 10-10 10-2 30-3 10 1 41-16 30 13 30 8 20-3 20 6 10 1 20-2 31 6 70 4 20 10 10 0 10-4 5-6 0-7-11-49-14-31-20-22-27-22-13-7-40-13-21 1-16 6-11 6-7 10 1 7 7 23-1 13-13 14-10 3-10-6-6-11 0-13 6-27 0-6-5-7-5-4-10-3-10 4-9 13-11 24-10-1-14-26-29-39-20-46-12-20-13-13-13-7-20-7-10-1-10 1-20 9-51 33-40 22-12 9-8 11-4 15-8 79-4 13-4 7-10 3-10-2-10-8-2-10 4-16 0-10-4-10-8-11-10-6-10 1-10 10-8 13-2 6 0 7 10 29-1 10-7 10-13 9-40 19-10-1-10-7-10 4-4 5-3 16 2 20 9 20 6 6zM1945 4542l14 2 10-4 0-58-10-11-10 0-10 16-4 13-2 16 1 13 4 7zM1776 4418l12 2 10-3 10-17 10-34 1-17-2-13-9-14-10-1-10 4-6 5-8 9-16 29-20 17-2 3-1 7 2 8 9 5z"/>
<path fill="#423f85" stroke="#423f85" d="M446 4542l34 3 50-8 23-11 6-7 1-6-5-7-13-6-42-17-10-1-20 1-37 13-10 7-7 10-1 10 5 9 9 6zM376 4523l3 2 3-9 0-10-3-8-5 5-3 6 2 7zM578 4487l2 2 10-4 10-10 12-21 5-23-1-16-14-17-12-7-10 1-10 10-6 22 0 17 3 19 3 14zM702 4487l9 1 30-7 13-8 15-13 7-19-2-43-2-13-5-13-36-62-10-9-20-13-10-4-10-2-10 2-10 5-10 9-9 15-4 13-13 66-2 29 2 10 6 8 6 15 13 19 11 5 20 3z"/>
<path fill="#472e7c" stroke="#472e7c" d="M740 4457l11-2 7-8 2-6-5-13-4-4-10-3-10 3-4 4-3 9 4 14zM715 4402l6 2 7-6 4-6-1-14-10-9-10 1-20 8-10-2-10 5-2 11 2 8 10-2 10-7 10 1z"/>
</g></g>
<g clip-path="url(#c50)"><g transform="translate(0 2089.54) scale(0.5)" fill="none" stroke-linejoin="round">
<use href="#a0" stroke="#cae11f" stroke-width="20.0"/>
<use href="#a0" stroke="#efe51c" stroke-width="17.2"/>
<use href="#a0" stroke="#fde725" stroke-width="14.4"/>
<use href="#a0f" fill="#808080"/>
<use href="#a0" stroke="#000" stroke-width="7.6"/>
</g></g>
<clipPath id="c51"><rect x="1093.0" y="2089.5" width="516.8" height="327.1"/></clipPath>
<g clip-path="url(#c51)">
<rect x="1093.0" y="2089.5" width="516.8" height="327.1" fill="#fde725"/>
<g transform="scale(0.5)" stroke-width="1.2" fill-rule="evenodd">
<path fill="#efe51c" stroke="#efe51c" d="M2525 4617l17 2 17-2 15-9 1-4 9-3 4-5 11-3 4 5 9 3 2 3 8 5 12 0 23-3 7-2 16-10 11 3 8-3 13-6 1-3 10-4 1-3 13-4 12 1 3 3 31 11 23 4 23 0 16-5 4-3 1-4 9-3 3-6 9-4 4-9 9-4 2-10 10-3 2-10 10-3 2-7 11-1 3 5 8 2 21-5 2-11 13 1 4 3 18 8 3 5 20 6 11 0 4 7 8 2 20-5 3-11 11 3 4 5 19 8 4 11 8 3 11-4 12 3 23-3 34 8 35 5 0-388-1034 0 0 385 26-5 16-7 2-3 10-4 3-4 9-2 1-3 13-4 23 0 46 13 12 1 32-7 1-3 13-4 2 4 10 3 1 6 11 4 1 6 4 4 17 7 5 6 6 1 3 5 10 3 1 7 5 3 27 14 5 6z"/>
<path fill="#cae11f" stroke="#cae11f" d="M2518 4614l24 3 12 0 16-9 2-4 15-10 12-2 23 15 12 0 23-2 23-12 13 1 15-6 18-12 11-3 12 0 8 5 38 12 34 1 16-6 13-10 2-3 10-7 4-6 6-4 4-10 8-3 5-10 8-3 5-8 11-2 6 7 5 1 17-4 3-4 2-6 1-2 12 0 11 5 12 7 7 6 16 4 11 0 12 10 16-4 3-3 1-7 3-2 11 2 9 7 14 5 5 11 7 4 11-3 12 3 23-3 46 10 23 2 0-386-1034 0 0 384 23-6 13-5 29-16 15-5 12-2 11 2 23 5 23 8 12 1 29-6 2-3 15-5 13 8 3 6 9 4 2 6 20 10 25 16 3 7 40 22z"/>
<path fill="#a8db34" stroke="#a8db34" d="M2530 4614l24 1 31-21 14-4 23 15 12 0 23-2 23-12 11 2 13-5 22-13 11-3 12 0 34 13 12 3 34 1 12-4 26-20 5-6 8-7 3-7 10-6 2-7 8-3 3-6 4-3 11-2 11 8 13-3 6-4 1-6 3-3 12 0 11 5 23 14 12 3 11 0 12 9 11-2 5-3 3-7 4-3 11 2 23 12 8 12 4 2 11-3 12 3 23-3 46 10 23 2 0-384-1034 0 0 382 23-5 46-23 11-3 12-2 11 1 23 6 23 7 12 1 25-4 9-6 12-3 15 9 4 6 7 4 4 6 30 17 14 9 5 7 36 20z"/>
<path fill="#84d44b" stroke="#84d44b" d="M2523 4611l31 2 34-22 11-2 23 14 12 0 23-2 23-11 11 1 35-17 11-3 12 0 34 13 12 2 34 0 12-3 23-18 14-13 3-7 10-6 3-7 7-3 4-6 5-3 11-3 11 8 17-6 2-6 4-4 12 1 8 3 20 10 6 5 12 2 11 0 12 9 11-2 6-8 6-4 11 2 23 12 12 14 11-4 12 3 23-2 46 9 23 2 0-382-1034 0 0 380 23-5 44-22 13-3 23-1 46 13 12 1 23-3 23-10 12 7 5 6 11 7 5 6 30 17 17 15 35 19z"/>
<path fill="#65cb5e" stroke="#65cb5e" d="M2541 4611l13-1 34-20 11-3 23 14 12 0 23-2 23-11 11 2 35-18 11-2 12 0 34 12 12 2 34 0 12-4 23-17 12-11 4-7 9-6 3-7 18-13 11-3 11 8 15-5 3-6 5-5 14 1 15 7 17 10 23 3 12 8 11-2 5-6 7-5 11 2 23 11 12 13 11-3 12 3 23-2 46 9 23 2 0-380-1034 0 0 378 23-5 41-20 16-4 23-1 46 13 12 1 23-3 23-10 13 8 21 18 31 18 15 13 35 19 11 4z"/>
<path fill="#48c16e" stroke="#48c16e" d="M2531 4608l23 0 34-20 11-2 23 13 12 0 23-3 23-10 11 1 35-16 11-3 12 0 46 13 34 1 12-4 23-17 23-22 4-7 19-15 11-2 11 8 13-4 4-6 6-6 12 0 5 2 29 16 23 2 12 8 11-2 6-7 6-3 11 1 23 11 12 13 11-3 12 3 23-2 46 9 23 2 0-378-1034 0 0 376 23-5 38-18 19-6 23 0 46 12 12 1 23-3 23-9 15 9 19 17 34 19 12 10 35 20z"/>
<path fill="#32b67a" stroke="#32b67a" d="M2527 4604l27 2 34-20 11-2 23 12 35-2 23-11 11 2 35-16 11-2 12-1 46 13 34 0 12-4 23-16 26-27 20-16 11-2 11 8 12-3 7-10 4-3 12 0 34 17 23 2 12 8 11-2 4-5 8-5 11 2 23 10 12 13 11-4 12 3 23-2 46 10 23 2 0-376-1034 0 0 373 23-5 42-18 15-4 23 0 46 12 12 1 23-3 23-9 17 10 17 16 32 16 14 12 35 19z"/>
<path fill="#23a983" stroke="#23a983" d="M2524 4601l30 2 34-20 11-1 23 11 35-2 23-10 11 1 35-15 11-2 12-1 46 12 34 0 12-3 23-17 27-27 7-4 12-10 11-2 11 7 12-3 5-8 6-5 12 1 34 16 23 2 12 7 11-2 6-5 6-4 11 2 23 9 12 13 11-3 12 2 23-1 46 9 23 2 0-373-1034 0 0 371 23-5 37-16 20-5 23 0 58 12 23-2 23-9 18 11 16 14 31 15 15 12 35 19zM2749 4221l-4-12 4-9 3 9z"/>
<path fill="#1e9d89" stroke="#1e9d89" d="M2523 4598l31 2 34-19 11-2 23 11 35-2 23-10 11 1 34-14 12-3 12 0 46 11 34 0 12-4 11-7 58-49 11-2 11 8 12-3 4-7 7-6 12 0 34 16 23 1 12 6 11-1 12-8 11 2 23 8 12 12 11-3 12 3 23-2 46 10 23 2 0-370-442 0 1 36-7 41-12 18-11 7-12 2-11-1-11-8-7-10-3-10-1-16 2-23 4-16 8-20-532 0 0 367 23-5 40-15 17-4 23 0 58 12 23-2 23-9 16 9 18 15 30 15 16 13 35 18z"/>
<path fill="#21918c" stroke="#21918c" d="M2524 4594l30 2 34-19 11-1 23 10 35-2 23-10 11 1 35-13 11-2 12-1 46 10 34 0 12-4 11-7 58-47 11-2 11 8 12-3 5-8 6-5 12 0 34 14 23 2 12 5 11-1 12-7 11 2 23 8 12 11 11-3 12 3 23-2 46 10 23 3 0-367-419 0-6 30-8 52-7 23-31 71-12 14-11 2-12-10-5-12-3-13 1-23-2-10-30-45-6-17-1-10 2-13 20-39-504 0 0 363 23-4 42-15 15-3 23 0 58 11 23-1 23-8 18 10 5 6 11 7 29 14 17 12 35 19z"/>
<path fill="#25838e" stroke="#25838e" d="M2528 4591l26 1 34-19 11-1 23 10 35-3 23-10 11 1 33-11 13-3 23 0 35 8 34 0 12-3 11-8 28-24 18-10 12-11 11-2 11 8 12-3 5-8 6-5 12 0 23 10 11 3 23 1 12 4 11-1 12-4 11 1 23 7 12 11 11-3 12 3 23-2 46 10 23 3 0-362-349 0-7 7-12 7-23 8-11 12-7 22-3 19 1 17 8 36-1 13-4 10-61 75-14 8-11 2-12-4-57-62-23-43-12-18-11-7-12 1-11 5-12-1-4-6-7-12-4-27-2-42 4-20-377 0 0 358 23-4 41-14 16-2 23 0 46 9 23 2 12-1 23-8 17 10 6 6 41 20 16 12 35 19z"/>
<path fill="#2a778e" stroke="#2a778e" d="M2519 4585l23 3 12-1 34-19 11-2 12 3 11 6 35-3 23-10 11 1 35-11 23-2 11 0 35 8 34 0 12-3 35-29 22-11 12-11 11-2 11 8 12-3 4-7 7-6 12 0 23 10 34 1 12 2 23-2 11 2 23 5 12 10 11-2 12 2 23-2 69 14 0-355-50 0 15 65 4 30-1 16-3 16-11 17-12-3-23-29-11-7-12 2-23 29-11-1-12-19-9-24-12-23-13-12-12-1-11 11-3 8-6 56-5 20-9 13-12 5-11 0-13-5-16-13-14-17-1-13 9-18 10-34 2-26-4-13-8-9-11-4-11 4-6 9-3 9-1 26 7 40 3 8 6 8 2 7-2 6-11 13-18 17-23 15-23 12-35 14-11 7-25 24-33 13-23 6-11 2-12-4-4-4-36-46-29-26-11-5-12-2-23 2-11-2-11-10-23-38-12-12-23 1-11-5-10-11-12-23-3-23 3-19 12-30-241 0 7 13 0 13-9 16-12 2-11-5-6-13 0-13 6-13-23 0 0 351 23-4 34-11 23-3 23 1 53 10 16 1 12 0 23-8 16 10 7 6 34 15 12 6 11 10 35 18z"/>
<path fill="#306a8e" stroke="#306a8e" d="M2518 4578l24 3 12-1 34-21 11-1 12 2 11 5 35-3 23-12 11 0 12-6 11-1 46-3 35 8 34 1 12-4 11-9 23-23 23-6 12-11 11-2 11 8 12-3 5-9 6-6 12-3 23 8 11-10 23 3 23-3 12 12 34 7 12 11 11-3 12 2 23-7 11 0 35 16 23 6 0-130-12 2-23 13-11-10-6-10-12-13-17-12-11-4-35 3-11-2-35-12-11-1-12 2-34 25-12 2-34-15-12-4-11 0-11 2-21 10-19 13-9 10-14 23-4 29-2 5-12-4-6-8-17-9-23-2-23 4-30 11-19 10-20 14-11 4-12-5-3-4-3-6-8-30-8-19-12-17-12-9-11-3-12 2-23 14-11 4-11-4-35-31-34-17-56-31-2-3-1-7 3-32 1-53-5-39-116 0-6 23-1 20 4 26 14 52 0 13-2 10-12 20-17 14-11 6-36 12-33 18-23 7 0 116 22-3 12-6 35-7 23 1 67 15 25 3 23-8 14 8 9 8 34 13 12 7 11 10 35 18zM2220 4307l12-26 3-20-1-10-4-3-33-4-1 4 1 13 11 39 1 3z"/>
<path fill="#365d8d" stroke="#365d8d" d="M2514 4568l17 3 23-3 34-27 23-3 11 5 12-1 11-3 12-6 2-7-2-4-11-3-35-3-23-15-26-28-35-29-7-10-10-29-11-13-26-21-23-9-23-1-11 3-23 11-12 0-23-13-11-4-12 1-49 39-8 10-4 7-2 9 3 17 10 13 42 36 20 10 23 7 11-3 12-7 6 3 11 6 6 6 11 1 23 15 23 20 12 7zM2783 4529l12 0 20-6 10-7 3-7-1-13-6-16-9-20-11-13-6-4-12-4-19 2-27 10-11 7-12 10-6 12-2 13 3 13 9 10 19 9zM3104 4483l12 3 12-5 7-11 6-19 0-23-6-20-7-12-12-6-11 3-7 5-8 13-4 13 0 20 3 16 6 13zM2898 4464l12 2 11-3 9-6 14-14 19 8 15 3 23 0 12-4 11-8 5-8 2-10-1-9-4-7-9-6-14-4-25 2-23 5-8-3-7-14-12-9-18-4-12 3-11 9-7 8-4 13-2 13 2 13 5 13 6 8zM2369 4258l12 0 15-7 8-7 3-13 1-16-4-19-11-14-7-3-9 0-7 3-10 13-5 14-2 16 3 16 3 7z"/>
<path fill="#3d4e8a" stroke="#3d4e8a" d="M2513 4555l6 1 12-2 12-9 9-16 1-10-1-10-10-22-10-14-8-6-16-10-12-2-11 1-12 6-11 11-4 14 1 16 15 29 11 11 10 6 13 6zM2770 4506l13 2 12-4 6-11 1-13-5-13-2-4-12-7-11 2-3 2-4 7-9 23 1 6zM2324 4457l11 3 12-1 11-6 9-12 2-13-3-13-8-12-11-8-12-3-11 3-12 8-5 8-2 13 3 17 4 7zM3105 4454l11 3 3-6 3-20-6-16-11 6-2 16zM2905 4451l5 0 11-5 7-12 3-13-2-13-3-10-5-6-11-5-14 5-9 13-2 10 2 19 11 15z"/>
</g></g>
<g clip-path="url(#c51)"><g transform="translate(0 2089.54) scale(0.5)" fill="none" stroke-linejoin="round">
<use href="#a1" stroke="#cae11f" stroke-width="20.0"/>
<use href="#a1" stroke="#efe51c" stroke-width="17.2"/>
<use href="#a1" stroke="#fde725" stroke-width="14.4"/>
<use href="#a1f" fill="#808080"/>
<use href="#a1" stroke="#000" stroke-width="7.6"/>
</g></g>
<clipPath id="c60"><rect x="154.3" y="2505.5" width="830.1" height="327.1"/></clipPath>
<g clip-path="url(#c60)">
<rect x="154.3" y="2505.5" width="830.1" height="327.1" fill="#fde725"/>
<g transform="scale(0.5)" stroke-width="1.2" fill-rule="evenodd">
<path fill="#efe51c" stroke="#efe51c" d="M1739 5560l8 2 15-5 6-9 6-4 2-6 9-7 3-8 5-2 5-5 24-11 6-9 4-1 6-10 7-3 3-9 7-4 3-10 7-3 3-13 7-4 3-14 20 10 10 0 16-5 5-5 6-2 4-5 17-8 2-3 11-2 0-394-1660 0 0 392 10 3 2 4 9 3 1 7 9 3 1 7 8 3 2 6 8 5 4 5 13 7 13 2 10-2 68-20 13-7 10 2 16 8 14 3 3 4 17 5 20 0 20-3 66-25 3-3 9-3 3-5 5-2 5-6 8-4 2-4 6-2 4-10 8-3 1-4 10-3 1-4 8-3 2-9 10-2 30 1 22 7 1 3 9 4 1 3 8 3 16-3 4-4 6 1 44 18 20 0 30 9 31-5 20 5 10 1 6-2 4-4 20-4 10 1 4 4 6 1 3 5 9 3 2 4 26 8 20 3 31-8 30-5 20 2 30 7 10-1 30 2 10-3 10 0 17-5 28-13 10-7 6-6 8-4 2-4 7-2 2-7 8-3 2-7 9-3 1-6 10-4 1-4 10-3 20 0 10 4 3 3 7 3 3 4 9 3 4 3 25 3 20 12 10 1 7-3 3-3 20-7 10 4 3 3 17 5 17-5 2-3 10-3 1-5 6-2 3-3 2-5 8-5 2-4 8-2 1-4 11 0 12 17 28 54 16 40 4 17 10 93 3 2 17-2z"/>
<path fill="#cae11f" stroke="#cae11f" d="M1741 5557l6 1 11-2 23-25 6-10 11-8 23-11 10-10 4-7 18-19 3-7 7-6 3-10 8-7 2-10 2-2 20 9 10 0 16-7 32-19 13-4 0-392-1660 0 0 391 10 3 5 5 7 3 1 4 10 6 3 7 6 3 4 6 13 10 11 5 10 2 10-2 63-18 18-9 10 2 10 6 20 6 7 5 13 3 10 1 30-4 52-20 21-9 34-27 2-6 8-3 2-4 8-3 4-5 6-2 4-10 10-3 30 2 24 8 17 12 11-2 9-5 10 1 40 17 20 0 20 8 10 1 31-5 30 6 10-5 20-4 14 2 14 10 21 10 31 6 10-2 41-10 10-1 10 0 40 9 40 1 10-3 10 0 34-13 32-20 2-3 9-7 2-3 9-6 1-4 7-3 5-8 6-2 4-5 10-3 20 1 13 4 14 10 14 6 20 1 20 11 10 2 20-10 10-3 20 10 10 2 10-3 16-6 4-7 7-3 3-7 7-3 4-5 5-1 5-5 10 0 7 7 11 20 22 41 14 35 7 23 9 88 5 3 15 0 20 13z"/>
<path fill="#a8db34" stroke="#a8db34" d="M1736 5551l11 3 11-2 30-34 10-7 20-10 32-35 12-17 2-6 7-7 4-10 3-4 20 9 10 1 10-4 36-21 15-5 0-391-1660 0 0 390 10 3 14 9 26 26 10 9 10 4 10 2 10-2 50-13 31-13 10 2 10 6 20 5 10 6 10 2 10 1 30-4 51-19 20-9 34-26 3-6 26-17 4-3 1-6 2-2 10-3 30 3 26 8 15 11 10-2 10-5 10 1 40 16 20 1 20 7 10 1 31-5 30 7 10-5 20-5 10 2 30 17 20 6 20 3 10-1 41-11 10 0 10 0 40 8 40 1 10-3 10 0 31-11 22-13 22-17 26-25 10-6 10-4 20 1 15 5 26 15 20 1 20 11 10 2 17-9 13-4 20 9 10 3 23-8 6-7 6-3 4-7 18-13 4-1 10-1 7 7 15 25 18 33 14 32 7 23 7 62 3 13 7 10 12 7z"/>
<path fill="#84d44b" stroke="#84d44b" d="M1747 5547l11 0 10-9 16-20 14-10 20-10 10-9 32-40 2-6 9-10 2-7 5-5 20 8 10 1 10-4 34-19 17-6 0-390-1660 0 0 389 10 3 15 10 25 24 10 8 10 5 10 1 10-1 50-13 31-12 10 2 10 5 20 5 10 6 10 2 10 1 30-4 51-19 20-9 32-24 4-6 29-20 2-6 3-3 10-2 30 2 27 9 14 9 10-1 10-5 10 1 40 16 20 0 20 7 10 2 31-5 30 6 10-4 20-5 10 2 30 17 20 5 20 3 51-11 10-1 10 0 40 9 40 0 10-3 10 0 31-11 42-28 13-13 10-6 1-3 14-10 10-4 20 1 16 6 25 13 20 2 20 10 10 2 14-7 16-6 20 10 10 2 20-6 14-10 4-7 18-13 5-2 10 0 7 7 14 21 29 53 10 30 5 37 18 36 17 24 10 9z"/>
<path fill="#65cb5e" stroke="#65cb5e" d="M1757 5538l11-6 15-17 8-7 27-13 10-10 20-23 30-43 20 8 10 1 10-4 32-17 19-6 0-390-1660 0 0 388 12 4 11 7 27 25 10 8 10 5 10 1 10-2 50-12 31-11 10 1 10 6 20 4 10 6 10 2 10 1 30-4 51-19 20-9 30-22 4-6 9-7 21-13 2-6 4-4 10-2 30 2 29 10 12 8 10-2 10-5 10 2 40 15 20 0 20 7 10 2 31-5 30 6 10-4 20-4 10 1 30 17 20 6 20 2 51-11 10 0 10-1 40 9 40 0 10-3 10 0 31-11 40-26 38-32 12-4 20 0 18 7 23 12 20 1 20 10 10 2 18-9 12-3 20 10 10 2 10-2 10-4 12-9 4-7 18-13 7-3 10 0 7 7 34 52 14 29 10 36 45 72 10 12z"/>
<path fill="#48c16e" stroke="#48c16e" d="M1765 5518l3 1 10-4 5-7 10-6 25-11 20-21 40-53 20 8 10 1 10-4 36-19 15-3 0-389-1660 0 0 387 15 5 10 7 25 23 10 8 10 4 10 1 10-1 50-12 31-11 10 2 10 5 20 4 10 6 10 2 10 0 30-4 51-18 20-9 30-21 7-8 25-17 3-6 5-4 10-3 30 2 25 8 16 9 10-1 10-5 10 1 40 15 20 1 20 6 10 2 31-5 30 6 10-3 20-4 10 1 30 16 20 5 20 3 51-11 10 0 10 0 40 7 40 1 10-3 10 0 31-11 40-25 37-31 13-5 20 1 41 17 20 2 20 9 9 2 31-11 20 9 10 2 20-5 27-24 11-7 13-1 7 6 33 46 14 24 9 23 68 89z"/>
<path fill="#32b67a" stroke="#32b67a" d="M1777 5495l11 1 30-11 20-20 40-51 20 9 10 0 10-3 34-17 17-5 0-387-1660 0 0 386 11 3 12 7 27 23 10 8 10 4 10 2 10-2 50-11 31-10 10 1 10 5 20 4 10 6 10 1 10 1 30-4 51-18 20-10 30-20 5-6 26-17 3-6 6-5 10-3 30 2 28 9 13 7 10-1 10-4 10 1 40 14 20 0 20 7 10 1 31-4 30 6 30-7 10 2 30 15 20 5 20 3 51-11 10 0 10 0 40 7 40 0 10-3 10 0 31-10 40-25 36-29 14-6 20 1 41 17 20 1 20 9 10 2 17-8 13-3 20 9 10 2 10-1 10-4 25-22 16-9 10 0 7 6 8 12 23 26 25 38z"/>
<path fill="#23a983" stroke="#23a983" d="M1801 5475l17 1 10-8 50-56 20 8 10 0 10-3 39-17 12-3 0-386-1660 0 0 384 14 5 12 7 34 28 10 4 10 2 10-2 50-10 31-10 40 9 10 6 10 1 10 1 30-4 71-27 30-20 8-8 22-13 4-6 6-6 10-3 30 2 31 10 10 5 10-1 10-4 10 1 40 14 20 0 20 6 10 2 31-4 30 6 30-6 10 1 30 14 20 6 20 2 61-10 10 0 40 7 40 0 10-3 10 0 31-11 40-23 34-28 16-7 20 1 41 16 20 1 20 9 10 1 11-5 19-5 30 11 10-1 10-3 24-21 10-7 7-4 10 0 63 68 98 80z"/>
<path fill="#1e9d89" stroke="#1e9d89" d="M1814 5453l4 1 10 0 10-7 14-14 16-13 4-7 6-5 20 8 10 0 61-20 0-385-1660 0 0 383 24 9 36 28 10 5 10 1 10-1 50-10 31-9 40 8 10 6 10 1 10 1 30-4 71-27 30-19 5-6 25-14 5-9 5-3 10-3 30 2 27 8 14 6 10-1 10-4 10 1 40 13 20 0 30 8 31-4 30 6 30-5 10 1 40 17 30 5 61-11 10 0 40 7 40 0 10-3 10 0 31-10 40-24 38-28 12-5 20 1 41 15 20 0 20 9 10 1 12-5 18-4 20 8 10 2 10 0 10-3 26-23 11-6 4-2 10 0 7 6 11 15 42 33z"/>
<path fill="#21918c" stroke="#21918c" d="M387 5433l62-11 31-8 40 8 10 5 10 1 10 1 30-4 71-26 60-38 4-7 6-5 10-2 30 2 31 8 10 4 10 0 10-4 10 1 40 12 20 0 30 7 31-3 30 6 30-4 10 1 40 16 30 4 51-9 10-1 20 2 30 5 40-1 10-2 10 0 31-10 40-23 36-26 14-6 20 0 41 14 20 1 20 8 10 1 10-5 20-4 20 7 20 3 10-2 33-27 8-4 10 0 21 23 37 23 62 29 81 35 10 1 10-4 20-11 10-10 20 7 20-1 51-16 0-383-1660 0 0 381 16 5 12 6 32 24 10 5z"/>
<path fill="#25838e" stroke="#25838e" d="M378 5426l11 2 10-1 81-16 40 6 10 5 10 2 10 0 30-3 71-26 60-35 3-6 7-6 10-3 30 2 41 11 20-3 10 1 40 10 20 0 30 7 31-3 30 6 30-3 10 2 40 14 30 5 51-10 10 0 20 1 30 5 40 0 10-3 10 0 31-10 60-34 14-11 16-7 20 0 41 12 20 0 20 8 10 1 10-5 20-3 22 7 18 3 10-2 25-21 10-7 6-2 10-1 7 7 10 13 20 13 53 22 81 27 40 10 30-3 10-5 20 6 10 1 21-3 40-11 0-381-1660 0 0 379 29 10 31 22z"/>
<path fill="#2a778e" stroke="#2a778e" d="M378 5420l11 2 10-1 81-15 40 5 10 5 10 2 40-2 71-26 60-32 4-7 6-5 10-2 30 1 10 4 31 5 20-2 10 0 40 9 20 0 30 7 31-3 30 7 30-2 10 1 40 14 30 5 51-10 20 0 40 5 40 0 10-3 10 0 31-9 60-32 17-13 13-5 20 0 31 9 30 1 20 6 10 1 10-5 20-1 40 9 10 0 25-21 16-9 10-2 7 6 10 12 23 6 50 22 61 12 90 22 10 0 20 7 20 1 21-3 30-6 0-289-10-4-10-6-20-5-11-5-10-8-8-10-6-13 0-16 4-12 11-11-1157 0 9 7 21 9 4 4 3 9-2 10-5 7-21 5-30 18-20 2-10-2-10-7-9-13-2-10 3-10 6-9 22-20-108 0 9 7 6 6 8 20-2 6-6 7-18 6-10 0-10-3-10-7-5-9-1-7 1-10 5-8 9-8-189 0 29 10 10 10 3 6 0 10-3 9-3 4-20 13-27 11-10 2-10-1-20-7-10 0-11 5-9 13 0 291 30 9 30 20zM1043 5034l-4-13 4-7 10 10 1 7-1 4zM338 5018l11-1 17-6-38 0z"/>
<path fill="#306a8e" stroke="#306a8e" d="M378 5410l11 1 10-1 61-11 10 0 40 2 10 1 10 6 20 3 30-2 71-25 20-11 30-12 10-6 5-7 5-4 10-3 30 1 10 4 31 3 30-1 40 7 20-1 30 8 31-4 30 7 30 1 20 3 30 10 30 5 51-10 30 1 30 4 40 0 10-3 10 0 31-9 30-16 30-12 14-11 16-7 20 0 31 7 30 0 20 5 10 0 10-5 20-1 50 10 24-19 17-9 10-3 12 4 18-10 10-1 23 2 14 4 10 7 13 14 10 0 6-8 3-16 12-2 5 15 20 30 14 9 101 33 20 4 31-1 20-4 0-201-20 16-10 4-61 11-10-2-4-4-16-15-10-17-5-13-4-20-2-16 2-23 13-56 4-39-664 0 12 11 9 5 21 5 10 1 10-2 20-10 11-1 10 5 10 15 3 20-3 20-25 45-6 34-3 12-9 13-8 6-10 3-10-1-13-8-10-16-10-36-7-13-20-21-16-25-4-4-10-1-10 5-21 15-10 4-60-2-50-12-10 0-41 11-10 1-30-7-10-1-15 7-13 10-1 7 9 9 1 7-1 5-10 7-10-1-20-6-5-5 0-3 4-13-11-7-18-6-31-2-60 11-10-1-15-8-25-24-10 0-41 11-10 0-10-2-20-10-10 0-5 25-5 11-20 25-10 6-10-3-10-9-10-15-10-43-10 2-26 16-40 20-11 9-24 34-10 6-20 4-20 14 0 213 30 6 30 18zM1123 5014l11 2 14-5-33 0z"/>
<path fill="#365d8d" stroke="#365d8d" d="M549 5397l31 2 10-2 61-21 20-11 30-9 10-4 5-7 5-4 10-2 30 0 10 3 51-1 50 4 20-2 20 7 10 1 31-7 10 2 20 9 60 8 29 11 21 3 10-1 31-10 10-1 60 6 40-2 10-3 21-2 20-6 30-14 30-8 15-11 15-6 20-1 20 4 51-2 10 3 10-1 10-7 30-1 10 1 30 10 56-29 15-18 10-5 20 3 24 0 16-2 30-8 11 1 10 4 62 34 10 13 3 23 3 7 7 6 11 7 24 11 20 5 31 5 30-1 0-155-10 4-41 3-40 9-10-2-7-3-13-10-22-30-11-22-8-36-3-56-3-20-3-8-8-11-12-8-10 1-21 14-10 2-30-13-10 5-6 12-15 46-4 6-18 13-11 13-12 23-4 23-10 6-10-16-10-24-5-12 0-6 3-4 22-8 15-13 10-18 13-46 14-11 12-18-41 0-3 3-5-3-40 0-12 13-8 13-6 16-10 5-20-18-20-29-216 0 9 20 3 19 0 23-5 23-25 72-7 18-11 12-10 7-20 7-20 0-10-4-68-50-12-7-61-12-10 2-43 24-17 5-10 2-15-4-26-15-30-7-10 2-5 4-25 28-10 0-20-5-40 0-41-5-80 7-30-1-41 2-40-3-24 6-14 7-5 6-7 13-30 21-10 4-10-1-9-11-1-6 1-10 10-26-16-23-6-17-10-13-10 8-17 22-22 16-6 7-2 6-4 23-3 7-6 4-10 1-30-3-10 2-10 6 0 153 10 4 20-3 20 9 20 3 50-4 10-2 21-9 20 6 30 3 10 2 10 6zM872 5256l-2-19 2-24 10 2 4 22-4 20zM1747 5231l-3-17 3-14 9 10 2 7-3 7zM460 5363l-12-15-2-10 1-10 22-55 11 0 10 21 5 28-1 16-4 11-10 10-10 5z"/>
<path fill="#3d4e8a" stroke="#3d4e8a" d="M571 5381l9 2 10-1 81-32 30-1 10-3 9-8 11-3 30-1 10 2 31-9 30 1 10-3 4-7 1-6-11-88-6-20-7-7-9-3-43-6-20-1-30 1-60 7-14 2-26 10-11 1-20-4-10 1-10 6-20 20-28 15-3 4-1 6 12 73 5 19 15 19 10 9zM631 5317l-10-7-3-11 3-24 10-12 10 10 1 32-1 4zM314 5371l5 3 10-3 7-7 3-7 10-4 10 1 10-3 20-11 6-12 9-39 9-26-1-7-3-2-30-7-40 1-10 3-10 11-10 21 0 83zM1945 5367l24 1 0-85-10-4-10-1-14 8-10 13-4 13-1 13 1 16 3 10 9 10zM1077 5364l16 3 10-2 31-18 30 11 10 1 17-1 33-7 11-3 9-6 4-7 1-7-12-62-4-13-6-10-43-19-30-6-26-34-14-9-41-10-10 0-10 2-40 19-10 7-6 8-7 16-6 26-6 43-1 29 2 10 4 7 6 6 11 7 13 4 30 1zM1294 5335l11 1 20-5 30 0 15-9 15-6 20-1 20 1 51-12 10 0 10-4 14-18 2-9-2-10-11-20-21-29-4-10-1-7 23-38 14-30 5-20-1-26-5-23-10-23-13-17-13-9-58 0-10 14-10 7-20 9-30 4-10 10-23 87-31 65-3 10 2 10 17 29 7 23-1 20-10 29zM911 5328l11 3 10-7 5-9 6-26 0-16-3-10-8-11-10-3-10 7-10 19-2 11-1 13 2 13 2 6zM1575 5305l11 4 11-2 24-11 7-10 3-10 0-7-6-9-8-6-31-3-10 1-12 8-7 9 0 13 6 14zM1817 5273l14 0 6-4 0-6-9-17-10-13-10-6-10 6-5 13-1 10 6 10zM1674 5230l3 1 8-6 6-11 4-20 0-23-3-16-5-9-10-8-10 0-10 8-4 9-5 16-1 17 4 16 6 15 10 10zM1594 5093l3 2 10 1 10-5 10-15 4-16-1-13-3-10-10-10-10-2-10 3-12 16-3 16 1 13 3 13z"/>
<path fill="#423f85" stroke="#423f85" d="M318 5361l1 1 10-4 3-10 2-16-1-20-4-13-10-7-10 33 0 16zM1947 5351l12-1 10-16 0-13-6-12-4-8-10-3-10 7-6 20 1 10 4 10zM1081 5348l12 2 10-3 9-9 8-16 8-36 0-36-4-25-10-16-11-6-10-2-20 1-10 6-12 12-18 25-10 3-10 6-9 32 1 16 8 11 10-1 10-5 10 3 19 25 11 9zM1167 5345l17 0 10-6 11-14 4-13-2-13-12-30-11-13-10-2-12 6-10 13-4 9-3 17 0 16 4 13 7 10zM697 5335l14 3 20-9 40-7 9-7 8-13 2-16-3-17-9-16-7-3-10 1-10-3-19-18-8-3-7 0-8 3-11 20-19 23-7 19 2 17 4 9 9 10zM1348 5322l7 2 30-12 36-7 20-16 8-10 4-10 0-9-4-10-41-66-23-31-10-9-10-2-10 3-10 6-10 8-20 26-9 16-2 9 1 14 12 32 10 46 6 10zM1585 5296l12 2 20-6 4-6 1-7-5-11-10 1-10 7-11 0-4 3-3 7zM1435 5142l11 3 10-5 12-21 6-33 0-23-6-19-12-21-10-6-10 3-11 16-4 31-1 26 3 26 2 9z"/>
<path fill="#472e7c" stroke="#472e7c" d="M706 5328l5 3 10-2 17-14 3-10 0-13-3-6-7-7-10-2-10 6-8 9-6 13 0 7 2 6zM1362 5312l3 0 28-10 10-6 12-17 4-19-4-24-10-24-10-17-10-11-10-6-10-2-10 2-10 6-7 7-9 13-5 16 2 13 14 59 12 17z"/>
<path fill="#481d6f" stroke="#481d6f" d="M709 5322l2 2 10-1 3-5 2-13-5-8-10 1-3 4-1 10zM1364 5302l11-2 9-8 7-13 2-13-2-16-6-13-10-12-10-4-10 4-4 5-6 13-1 10 1 16 4 13 7 14z"/>
<path fill="#460a5d" stroke="#460a5d" d="M1363 5292l2 3 10-6 3-10 0-6-3-6-10-7-4 6-1 7z"/>
</g></g>
<g clip-path="url(#c60)"><g transform="translate(0 2505.48) scale(0.5)" fill="none" stroke-linejoin="round">
<use href="#a0" stroke="#cae11f" stroke-width="20.0"/>
<use href="#a0" stroke="#efe51c" stroke-width="17.2"/>
<use href="#a0" stroke="#fde725" stroke-width="14.4"/>
<use href="#a0f" fill="#808080"/>
<use href="#a0" stroke="#000" stroke-width="7.6"/>
</g></g>
<clipPath id="c61"><rect x="1093.0" y="2505.5" width="516.8" height="327.1"/></clipPath>
<g clip-path="url(#c61)">
<rect x="1093.0" y="2505.5" width="516.8" height="327.1" fill="#fde725"/>
<g transform="scale(0.5)" stroke-width="1.2" fill-rule="evenodd">
<path fill="#efe51c" stroke="#efe51c" d="M2527 5449l15 2 17-2 6-5 5-1 4-4 1-3 9-3 4-5 11-3 3 5 10 3 4 6 6 2 23 0 12-2 8-3 15-10 11 3 8-3 13-6 1-3 10-4 1-3 13-4 12 0 3 4 31 11 23 4 23 0 16-5 4-3 1-4 10-3 2-7 10-3 3-8 9-5 2-10 10-3 2-9 10-4 1-7 12-1 2 5 9 2 21-6 2-10 13 1 2 3 8 2 4 4 8 3 2 4 21 6 11 0 3 7 9 3 16-3 5-3 2-10 11 2 3 4 20 9 3 11 9 4 11-4 12 3 23-3 34 8 35 4 0-388-1034 0 0 386 30-7 3-3 10-3 1-3 11-4 1-3 10-3 2-4 12-3 23 0 58 15 32-8 1-4 13-3 2 3 10 4 1 6 11 4 0 6 4 3 18 9 4 4 7 3 3 4 9 3 2 7 4 3 28 14 6 6z"/>
<path fill="#cae11f" stroke="#cae11f" d="M2520 5446l22 3 12 0 16-10 2-3 15-10 12-2 23 15 12 1 23-3 23-12 13 1 15-6 18-12 11-3 12 0 9 5 37 11 34 1 16-5 25-20 4-7 7-3 4-10 8-3 4-10 9-3 4-8 11-2 5 7 6 1 18-5 5-11 15 2 20 10 5 6 18 5 11 0 7 8 5 2 18-5 5-11 11 2 7 5 16 7 7 13 5 2 11-4 12 3 23-2 46 9 23 3 0-387-1034 0 0 385 23-6 16-6 15-10 9-3 3-4 14-4 23 0 46 13 12 1 29-6 2-4 15-4 5 4 8 4 3 6 9 4 2 6 20 10 24 16 4 7 40 22z"/>
<path fill="#a8db34" stroke="#a8db34" d="M2533 5446l21 1 31-21 14-4 23 15 12 1 23-3 23-12 11 2 35-18 11-3 12 0 34 13 12 2 34 1 12-3 27-20 4-7 9-6 2-7 10-6 3-7 8-3 2-7 4-1 11-3 11 8 15-4 4-3 2-6 2-3 12 1 5 2 19 9 7 7 15 4 11 0 12 9 14-3 6-10 3-2 11 2 23 12 7 11 5 4 11-4 12 3 23-3 46 10 23 2 0-385-1034 0 0 383 23-5 41-22 16-5 23 0 46 13 12 1 26-5 8-6 12-3 14 9 5 6 7 4 4 6 29 16 14 10 5 7 37 20z"/>
<path fill="#84d44b" stroke="#84d44b" d="M2526 5443l28 1 34-21 11-2 23 14 12 1 23-3 23-11 11 1 35-17 11-3 12 0 34 12 12 2 34 1 12-3 24-18 14-13 3-7 9-6 3-7 7-3 4-7 5-2 11-2 11 8 18-7 2-6 3-3 12 0 7 3 19 9 8 7 12 3 11 0 12 9 11-2 5-4 2-6 5-3 11 2 23 12 12 14 11-4 12 3 23-2 46 9 23 2 0-383-1034 0 0 382 23-6 39-20 18-6 23 0 46 12 12 1 23-3 23-10 16 10 1 3 11 7 4 6 30 16 18 16 35 19z"/>
<path fill="#65cb5e" stroke="#65cb5e" d="M2520 5439l34 3 34-20 11-3 23 15 12 0 23-3 23-11 11 2 35-18 11-2 12 0 34 11 12 2 34 1 12-4 23-16 13-12 3-7 9-6 4-7 6-3 5-7 6-3 11-2 11 8 16-6 3-6 4-4 12 0 8 4 26 15 23 2 12 9 11-2 6-8 6-4 11 2 23 12 12 13 11-3 12 3 23-3 46 10 23 2 0-382-1034 0 0 380 23-5 44-22 13-4 23 0 46 12 12 1 23-3 23-10 13 7 21 20 30 16 16 14 35 19z"/>
<path fill="#48c16e" stroke="#48c16e" d="M2537 5439l17 1 34-20 11-2 23 13 12 1 23-3 23-11 11 1 34-16 12-3 12 0 46 13 34 1 12-4 23-16 11-11 4-6 9-6 4-7 18-14 11-2 11 8 14-5 4-6 5-5 15 1 14 7 17 10 23 3 12 8 11-1 5-7 7-5 11 2 23 11 12 13 11-3 12 3 23-2 46 9 23 2 0-380-1034 0 0 378 23-5 41-20 16-4 23-1 46 12 12 1 23-3 23-10 14 8 20 18 33 18 13 12 35 18z"/>
<path fill="#32b67a" stroke="#32b67a" d="M2531 5436l23 1 34-19 11-2 23 13 12 1 23-3 23-11 11 1 35-16 11-2 12 0 46 12 34 0 12-3 23-16 23-22 3-6 20-15 11-2 11 8 13-4 4-6 6-6 12 0 34 18 23 3 12 8 11-2 3-5 9-6 11 2 23 10 12 13 11-3 12 3 23-2 46 9 23 2 0-378-1034 0 0 376 23-5 38-18 19-5 23-1 46 11 12 1 23-3 23-9 16 9 18 17 31 16 15 13 35 18z"/>
<path fill="#23a983" stroke="#23a983" d="M2528 5433l26 1 34-19 11-1 23 12 12 1 23-3 23-11 11 1 33-14 13-3 12 0 46 11 34 0 12-3 23-16 25-25 21-16 11-2 11 7 12-3 6-9 5-3 12 0 34 17 23 3 12 7 11-1 5-6 7-4 11 1 23 11 12 12 11-3 12 3 23-2 46 9 23 2 0-376-1034 0 0 374 23-5 43-19 14-3 23-1 46 11 12 0 23-2 23-9 17 10 17 15 29 15 17 13 35 18z"/>
<path fill="#1e9d89" stroke="#1e9d89" d="M2528 5430l26 1 34-18 11-2 23 12 12 1 23-3 23-11 11 1 35-14 11-2 12 0 46 10 34 0 12-3 23-15 27-26 7-4 12-11 11-2 11 8 12-3 5-8 6-5 12 1 34 17 23 2 12 7 11-2 3-3 9-6 11 2 23 10 12 12 11-3 12 2 23-2 46 9 23 3 0-374-1034 0 0 371 23-4 39-17 18-5 23 0 58 10 23-1 23-9 14 8 20 16 33 17 13 11 35 17z"/>
<path fill="#21918c" stroke="#21918c" d="M2529 5426l25 1 34-17 11-2 23 12 12 0 23-3 23-11 11 1 35-12 11-2 12-1 46 9 34 1 12-3 11-7 58-47 11-2 11 7 12-2 4-7 7-6 12 0 34 17 23 2 12 6 11-1 12-9 11 2 23 9 12 12 11-3 12 2 23-1 46 9 23 2 0-371-1034 0 0 369 23-5 44-17 13-3 23 0 58 9 23-1 23-8 17 9 6 7 11 7 33 16 13 10 35 18z"/>
<path fill="#25838e" stroke="#25838e" d="M2538 5423l16 0 34-17 11-1 23 10 30-2 28-11 11 1 46-13 23 0 46 8 23 0 12-3 11-7 58-45 11-2 11 7 12-2 5-8 6-5 12 1 34 15 23 2 12 6 11-1 12-8 11 2 23 8 12 12 11-3 12 2 23-1 46 9 23 3 0-369-1034 0 0 366 23-5 38-14 19-5 23 0 58 8 23 0 23-8 14 8 9 8 11 6 27 12 19 14 12 6 23 11zM2841 5092l-12-39-1-19 1-13 12 5 11 29 2 18-2 16z"/>
<path fill="#2a778e" stroke="#2a778e" d="M2522 5417l32 1 34-17 11-1 23 10 12 0 23-4 23-11 11 2 35-9 23-3 23 1 34 7 23 1 12-3 11-8 27-22 19-11 12-10 11-2 11 8 12-3 6-8 5-4 12 0 34 15 23 2 12 5 11-1 12-6 11 1 23 8 12 11 11-3 12 3 23-2 46 9 23 3 0-365-232 0 16 36 2 13-10 29-14 20-15 11-12 4-11-2-12-6-22-18-12 5-17 32-9 13-10 7-10 3-11 0-22-6-24-16-12-2-23 8-23-5-11 3-23 15-12 2-11-1-12-6-34-26-23-14-12-1-23 8-11 2-11-3-12-10-3-13 3-19 12-21 11-11 11-4 12 3 23 17 11 4 23-3 23-6 12-4 6-5 5-6 3-7 1-20-509 0 0 362 23-4 40-15 17-3 23 0 46 6 23 1 12 0 23-7 18 10 5 5 40 18 17 12 12 6 23 11zM2324 5125l-12-4-11-11-8-21 0-19 6-20 2-4 11-7 12 6 4 8 7 17 6 26 0 13-4 10-2 3zM2897 5031l3-4 8-16-27 0 6 12z"/>
<path fill="#306a8e" stroke="#306a8e" d="M2518 5410l36 1 34-16 11-1 12 3 11 5 12 0 23-5 23-11 11 2 12-3 57-8 12 1 34 9 23 1 12-3 11-8 23-20 23-11 12-10 11-2 11 8 12-2 5-8 6-5 12 1 23 11 11 3 23 1 12 4 11-1 12-4 11 2 23 7 12 10 11-3 12 3 23-2 46 10 23 3 0-241-12 3-26 18-20 6-23 0-46-4-34 1-35-1-11 0-35 8-11 1-12-1-34-9-11-1-23 10-14 9-4 7-1 19-4 11-12 11-11 4-12-2-2-4 1-33-2-6-7-7-13-4-11-1-35 3-34 1-35 10-11 0-30-9-51-18-69 2-11-5-11-11-13-20-5-20-2-39-3-12-12-4-23 0-11-3-35-17-11-5-12-1-4 6-2 10-1 62-2 23-10 23-15 14-12 6-11 1-18-2-40-11-34 5-12-2-11-6-23-16 0 238 23-5 34-11 23-4 23 0 81 5 23-6 17 10 6 5 38 14 31 20 23 11zM2772 5241l-12-2-16-6-5-3-1-3 8-7 14-6 12-1 17 7 7 7 0 3-7 7-6 3zM3104 5060l12 0 12-15 1-18-4-16-41 0 3 20 6 18zM2245 5053l10 2 3-8 1-13-4-16-12 2-2 7-2 13 3 10z"/>
<path fill="#365d8d" stroke="#365d8d" d="M2530 5403l24-1 34-18 23 0 11 4 12-2 21-9 13-8 12-3 11 5 12-1 23 3 15-2 19-6 12 0 34 11 23 3 12-3 11-8 12-10 11-15 12-4 11-1 6-6 6-4 11-1 11 8 12-2 6-8 5-4 12 2 23 11 34 2 12 3 23-2 11 2 23 5 12 11 11-3 12 3 23-1 69 13 0-194-12 4-23 11-46 11-46 15-17 0-52-12-57 2-46-10-11 3-12 9-34 34-12 9-11 6-58 11-11 0-34-13-12 0-12 2-18 8-20 10-7 6-3 10-2 29-7 5-12-5-11 3-6 4-6 10-11 3-12-4-9-9-3-7 0-13 12-33 12-18 19-17 0-7-4-6-23-20-22-13-16-6-34-4-12-5-34-29-12-7-11-5-12-1-11 3-6 5-8 16-9 12-23 13-23 17-12 5-23 0-69-10-34 4-12 0-11-4-23-14 0 183 23-5 22-8 24-4 23-2 92 3 23-5 23 16 40 12 17 11 35 18z"/>
<path fill="#3d4e8a" stroke="#3d4e8a" d="M2512 5387l19 2 14-2 9-2 10-11 1-7-8-26 0-19 7-33 14-46 1-13-5-10-9-6-46-14-34-26-12-5-11 1-3 1-12 10-20 30-11 11-23 15-12 4-11 0-46-14-46-6-12-1-46 8-34-3 0 131 11-2 23-7 23-4 69-3 35-5 23 1 23-2 23 16 34 6 12 4 11 9zM2828 5361l13-3 9-13 3-13-3-10-6-13-8-10-10-7-8-4-12-2-10 3-24 22-12-6-11-9-12-14-11-6-12 4-11 12-4 13 0 17 5 13 10 12 12 5 11-1 23-10 12 0 23 11zM3218 5361l2 0 0-151-35 0-34 5-23 7-35 16-11 2-12-2-24-11-22-5-57 2-35-4-11 1-11 4-8 5-6 7-5 9-1 20 6 16 14 11 22 9 12 4 11-2 12 3 23 15 11-2 46 1 12 6 34 7 12 11 11-3z"/>
<path fill="#423f85" stroke="#423f85" d="M3217 5351l3 1 0-110-7-5-15-7-13-2-23 3-15 6-19 10-12 9-16 17-6 13-1 13 1 6 11 17 11 0 16 13 19 8 11 2 35 1zM2186 5341l0 3 23-4 46-13 34 6 23-3 8-5 5-7 2-13-3-9-2 3-56 7-11 0-35-5-13-5-10-13-11-8zM2465 5322l8 2 12-4 11-7 12-5 23 2 11-16 10-41-3-10-7-7-11 1-12 9-4-3-7-9-4-14-7-13-12-13-12-6-11 1-12 10-8 18-5 26 3 36-8 26 7 10z"/>
<path fill="#472e7c" stroke="#472e7c" d="M3158 5335l16 2 11-4 7-5 5-11 19-5 2-3 1-4-4-6-7-20-11-15-13 2-3 10-1 16-29 9-12 11-2 6 2 7 12 8z"/>
</g></g>
<g clip-path="url(#c61)"><g transform="translate(0 2505.48) scale(0.5)" fill="none" stroke-linejoin="round">
<use href="#a1" stroke="#cae11f" stroke-width="20.0"/>
<use href="#a1" stroke="#efe51c" stroke-width="17.2"/>
<use href="#a1" stroke="#fde725" stroke-width="14.4"/>
<use href="#a1f" fill="#808080"/>
<use href="#a1" stroke="#000" stroke-width="7.6"/>
</g></g>
<svg xmlns:xlink="http://www.w3.org/1999/xlink" width="1929" height="3110" x="0" y="0" viewBox="0 0 694.44 1119.6" xmlns="http://www.w3.org/2000/svg" version="1.1">
<defs>
<style type="text/css">*{stroke-linejoin: round; stroke-linecap: butt}</style>
</defs>
<g id="figure_1">
<g id="patch_1">
<path d="M 0 1119.6 L 694.44 1119.6 L 694.44 0 L 0 0 L 0 1119.6 z " style="fill: none; opacity: 0"/>
</g>
<g id="axes_1">
<g id="patch_2">
<path d="M 55.55 121.3 L 354.38 121.3 L 354.38 3.54 L 55.55 3.54 L 55.55 121.3 z " style="fill: none; opacity: 0"/>
</g>
<g id="matplotlib.axis_1">
<g id="xtick_1">
<g id="line2d_1">
<defs>
<path id="m1504cfccaf" d="M 0 0 L 0 3.5 " style="stroke: #000000; stroke-width: 0.8"/>
</defs>
<g>
<use xlink:href="#m1504cfccaf" x="100.826182" y="121.2984" style="stroke: #000000; stroke-width: 0.8"/>
</g>
</g>
<g id="text_1">
<text style="font-size: 10px; font-family: 'DejaVu Sans', sans-serif; text-anchor: middle" x="100.826182" y="135.896838" transform="rotate(-0 100.826182 135.896838)">100</text>
</g>
</g>
<g id="xtick_2">
<g id="line2d_2">
<g>
<use xlink:href="#m1504cfccaf" x="146.104364" y="121.2984" style="stroke: #000000; stroke-width: 0.8"/>
</g>
</g>
<g id="text_2">
<text style="font-size: 10px; font-family: 'DejaVu Sans', sans-serif; text-anchor: middle" x="146.104364" y="135.896838" transform="rotate(-0 146.104364 135.896838)">200</text>
</g>
</g>
<g id="xtick_3">
<g id="line2d_3">
<g>
<use xlink:href="#m1504cfccaf" x="191.382545" y="121.2984" style="stroke: #000000; stroke-width: 0.8"/>
</g>
</g>
<g id="text_3">
<text style="font-size: 10px; font-family: 'DejaVu Sans', sans-serif; text-anchor: middle" x="191.382545" y="135.896838" transform="rotate(-0 191.382545 135.896838)">300</text>
</g>
</g>
<g id="xtick_4">
<g id="line2d_4">
<g>
<use xlink:href="#m1504cfccaf" x="236.660727" y="121.2984" style="stroke: #000000; stroke-width: 0.8"/>
</g>
</g>
<g id="text_4">
<text style="font-size: 10px; font-family: 'DejaVu Sans', sans-serif; text-anchor: middle" x="236.660727" y="135.896838" transform="rotate(-0 236.660727 135.896838)">400</text>
</g>
</g>
<g id="xtick_5">
<g id="line2d_5">
<g>
<use xlink:href="#m1504cfccaf" x="281.938909" y="121.2984" style="stroke: #000000; stroke-width: 0.8"/>
</g>
</g>
<g id="text_5">
<text style="font-size: 10px; font-family: 'DejaVu Sans', sans-serif; text-anchor: middle" x="281.938909" y="135.896838" transform="rotate(-0 281.938909 135.896838)">500</text>
</g>
</g>
<g id="xtick_6">
<g id="line2d_6">
<g>
<use xlink:href="#m1504cfccaf" x="327.217091" y="121.2984" style="stroke: #000000; stroke-width: 0.8"/>
</g>
</g>
<g id="text_6">
<text style="font-size: 10px; font-family: 'DejaVu Sans', sans-serif; text-anchor: middle" x="327.217091" y="135.896838" transform="rotate(-0 327.217091 135.896838)">600</text>
</g>
</g>
</g>
<g id="matplotlib.axis_2">
<g id="ytick_1">
<g id="line2d_7">
<defs>
<path id="m5d545ce8f8" d="M 0 0 L -3.5 0 " style="stroke: #000000; stroke-width: 0.8"/>
</defs>
<g>
<use xlink:href="#m5d545ce8f8" x="55.548" y="121.2984" style="stroke: #000000; stroke-width: 0.8"/>
</g>
</g>
<g id="text_7">
<text style="font-size: 10px; font-family: 'DejaVu Sans', sans-serif; text-anchor: end" x="48.548" y="125.097619" transform="rotate(-0 48.548 125.097619)">0</text>
</g>
</g>
<g id="ytick_2">
<g id="line2d_8">
<g>
<use xlink:href="#m5d545ce8f8" x="55.548" y="97.7472" style="stroke: #000000; stroke-width: 0.8"/>
</g>
</g>
<g id="text_8">
<text style="font-size: 10px; font-family: 'DejaVu Sans', sans-serif; text-anchor: end" x="48.548" y="101.546419" transform="rotate(-0 48.548 101.546419)">20</text>
</g>
</g>
<g id="ytick_3">
<g id="line2d_9">
<g>
<use xlink:href="#m5d545ce8f8" x="55.548" y="74.196" style="stroke: #000000; stroke-width: 0.8"/>
</g>
</g>
<g id="text_9">
<text style="font-size: 10px; font-family: 'DejaVu Sans', sans-serif; text-anchor: end" x="48.548" y="77.995219" transform="rotate(-0 48.548 77.995219)">40</text>
</g>
</g>
<g id="ytick_4">
<g id="line2d_10">
<g>
<use xlink:href="#m5d545ce8f8" x="55.548" y="50.6448" style="stroke: #000000; stroke-width: 0.8"/>
</g>
</g>
<g id="text_10">
<text style="font-size: 10px; font-family: 'DejaVu Sans', sans-serif; text-anchor: end" x="48.548" y="54.444019" transform="rotate(-0 48.548 54.444019)">60</text>
</g>
</g>
<g id="ytick_5">
<g id="line2d_11">
<g>
<use xlink:href="#m5d545ce8f8" x="55.548" y="27.0936" style="stroke: #000000; stroke-width: 0.8"/>
</g>
</g>
<g id="text_11">
<text style="font-size: 10px; font-family: 'DejaVu Sans', sans-serif; text-anchor: end" x="48.548" y="30.892819" transform="rotate(-0 48.548 30.892819)">80</text>
</g>
</g>
<g id="ytick_6">
<g id="line2d_12">
<g>
<use xlink:href="#m5d545ce8f8" x="55.548" y="3.5424" style="stroke: #000000; stroke-width: 0.8"/>
</g>
</g>
<g id="text_12">
<text style="font-size: 10px; font-family: 'DejaVu Sans', sans-serif; text-anchor: end" x="48.548" y="7.341619" transform="rotate(-0 48.548 7.341619)">100</text>
</g>
</g>
<g id="ylab0" transform="translate(-1.764 -6.156)">
<!-- HOM$_{flat}$ -->
<g transform="translate(11.895 82.278) rotate(-90)">
<text>
<tspan x="0" y="-0.578125" style="font-size: 10px; font-family: 'DejaVu Sans'">H</tspan>
<tspan x="7.519531" y="-0.578125" style="font-size: 10px; font-family: 'DejaVu Sans'">O</tspan>
<tspan x="15.390625" y="-0.578125" style="font-size: 10px; font-family: 'DejaVu Sans'">M</tspan>
<tspan x="24.114258" y="1.0625" style="font-style: oblique; font-size: 7px; font-family: 'DejaVu Sans'">f</tspan>
<tspan x="26.578613" y="1.0625" style="font-style: oblique; font-size: 7px; font-family: 'DejaVu Sans'">l</tspan>
<tspan x="28.523438" y="1.0625" style="font-style: oblique; font-size: 7px; font-family: 'DejaVu Sans'">a</tspan>
<tspan x="32.812988" y="1.0625" style="font-style: oblique; font-size: 7px; font-family: 'DejaVu Sans'">t</tspan>
</text>
</g>
<text style="font-size: 10px; font-family: 'DejaVu Sans', sans-serif" transform="translate(23.380812 91.963369) rotate(-90)">altitude [m]</text>
</g>
</g>
<g id="patch_3">
<path d="M 55.55 121.3 L 55.55 3.54 " style="fill: none; stroke: #000000; stroke-width: 0.8; stroke-linejoin: miter; stroke-linecap: square"/>
</g>
<g id="patch_4">
<path d="M 354.38 121.3 L 354.38 3.54 " style="fill: none; stroke: #000000; stroke-width: 0.8; stroke-linejoin: miter; stroke-linecap: square"/>
</g>
<g id="patch_5">
<path d="M 55.55 121.3 L 354.38 121.3 " style="fill: none; stroke: #000000; stroke-width: 0.8; stroke-linejoin: miter; stroke-linecap: square"/>
</g>
<g id="patch_6">
<path d="M 55.55 3.54 L 354.38 3.54 " style="fill: none; stroke: #000000; stroke-width: 0.8; stroke-linejoin: miter; stroke-linecap: square"/>
</g>
</g>
<g id="axes_2">
<g id="patch_7">
<path d="M 393.48 121.3 L 579.53 121.3 L 579.53 3.54 L 393.48 3.54 L 393.48 121.3 z " style="fill: none; opacity: 0"/>
</g>
<g id="matplotlib.axis_3">
<g id="xtick_7">
<g id="line2d_13">
<g>
<use xlink:href="#m1504cfccaf" x="444.9016" y="121.2984" style="stroke: #000000; stroke-width: 0.8"/>
</g>
</g>
<g id="text_13">
<text style="font-size: 10px; font-family: 'DejaVu Sans', sans-serif; text-anchor: middle" x="444.9016" y="135.896838" transform="rotate(-0 444.9016 135.896838)">100</text>
</g>
</g>
<g id="xtick_8">
<g id="line2d_14">
<g>
<use xlink:href="#m1504cfccaf" x="496.5816" y="121.2984" style="stroke: #000000; stroke-width: 0.8"/>
</g>
</g>
<g id="text_14">
<text style="font-size: 10px; font-family: 'DejaVu Sans', sans-serif; text-anchor: middle" x="496.5816" y="135.896838" transform="rotate(-0 496.5816 135.896838)">200</text>
</g>
</g>
<g id="xtick_9">
<g id="line2d_15">
<g>
<use xlink:href="#m1504cfccaf" x="548.2616" y="121.2984" style="stroke: #000000; stroke-width: 0.8"/>
</g>
</g>
<g id="text_15">
<text style="font-size: 10px; font-family: 'DejaVu Sans', sans-serif; text-anchor: middle" x="548.2616" y="135.896838" transform="rotate(-0 548.2616 135.896838)">300</text>
</g>
</g>
</g>
<g id="matplotlib.axis_4">
<g id="ytick_7">
<g id="line2d_16">
<g>
<use xlink:href="#m5d545ce8f8" x="393.48" y="121.2984" style="stroke: #000000; stroke-width: 0.8"/>
</g>
</g>
<g id="text_16">
<text style="font-size: 10px; font-family: 'DejaVu Sans', sans-serif; text-anchor: end" x="386.48" y="125.097619" transform="rotate(-0 386.48 125.097619)">0</text>
</g>
</g>
<g id="ytick_8">
<g id="line2d_17">
<g>
<use xlink:href="#m5d545ce8f8" x="393.48" y="97.7472" style="stroke: #000000; stroke-width: 0.8"/>
</g>
</g>
<g id="text_17">
<text style="font-size: 10px; font-family: 'DejaVu Sans', sans-serif; text-anchor: end" x="386.48" y="101.546419" transform="rotate(-0 386.48 101.546419)">20</text>
</g>
</g>
<g id="ytick_9">
<g id="line2d_18">
<g>
<use xlink:href="#m5d545ce8f8" x="393.48" y="74.196" style="stroke: #000000; stroke-width: 0.8"/>
</g>
</g>
<g id="text_18">
<text style="font-size: 10px; font-family: 'DejaVu Sans', sans-serif; text-anchor: end" x="386.48" y="77.995219" transform="rotate(-0 386.48 77.995219)">40</text>
</g>
</g>
<g id="ytick_10">
<g id="line2d_19">
<g>
<use xlink:href="#m5d545ce8f8" x="393.48" y="50.6448" style="stroke: #000000; stroke-width: 0.8"/>
</g>
</g>
<g id="text_19">
<text style="font-size: 10px; font-family: 'DejaVu Sans', sans-serif; text-anchor: end" x="386.48" y="54.444019" transform="rotate(-0 386.48 54.444019)">60</text>
</g>
</g>
<g id="ytick_11">
<g id="line2d_20">
<g>
<use xlink:href="#m5d545ce8f8" x="393.48" y="27.0936" style="stroke: #000000; stroke-width: 0.8"/>
</g>
</g>
<g id="text_20">
<text style="font-size: 10px; font-family: 'DejaVu Sans', sans-serif; text-anchor: end" x="386.48" y="30.892819" transform="rotate(-0 386.48 30.892819)">80</text>
</g>
</g>
<g id="ytick_12">
<g id="line2d_21">
<g>
<use xlink:href="#m5d545ce8f8" x="393.48" y="3.5424" style="stroke: #000000; stroke-width: 0.8"/>
</g>
</g>
<g id="text_21">
<text style="font-size: 10px; font-family: 'DejaVu Sans', sans-serif; text-anchor: end" x="386.48" y="7.341619" transform="rotate(-0 386.48 7.341619)">100</text>
</g>
</g>
</g>
<g id="patch_8">
<path d="M 393.48 121.3 L 393.48 3.54 " style="fill: none; stroke: #000000; stroke-width: 0.8; stroke-linejoin: miter; stroke-linecap: square"/>
</g>
<g id="patch_9">
<path d="M 579.53 121.3 L 579.53 3.54 " style="fill: none; stroke: #000000; stroke-width: 0.8; stroke-linejoin: miter; stroke-linecap: square"/>
</g>
<g id="patch_10">
<path d="M 393.48 121.3 L 579.53 121.3 " style="fill: none; stroke: #000000; stroke-width: 0.8; stroke-linejoin: miter; stroke-linecap: square"/>
</g>
<g id="patch_11">
<path d="M 393.48 3.54 L 579.53 3.54 " style="fill: none; stroke: #000000; stroke-width: 0.8; stroke-linejoin: miter; stroke-linecap: square"/>
</g>
</g>
<g id="axes_3">
<g id="patch_12">
<path d="M 618.66 121.3 L 692.28 121.3 L 692.28 3.54 L 618.66 3.54 L 618.66 121.3 z " style="fill: none; opacity: 0"/>
</g>
<g id="matplotlib.axis_5">
<g id="xtick_10">
<g id="line2d_22">
<g>
<use xlink:href="#m1504cfccaf" x="618.66" y="121.2984" style="stroke: #000000; stroke-width: 0.8"/>
</g>
</g>
<g id="text_22">
<text style="font-size: 10px; font-family: 'DejaVu Sans', sans-serif; text-anchor: middle" x="618.66" y="135.896838" transform="rotate(-0 618.66 135.896838)">0</text>
</g>
</g>
<g id="xtick_11">
<g id="line2d_23">
<g>
<use xlink:href="#m1504cfccaf" x="655.47" y="121.2984" style="stroke: #000000; stroke-width: 0.8"/>
</g>
</g>
<g id="text_23">
<text style="font-size: 10px; font-family: 'DejaVu Sans', sans-serif; text-anchor: middle" x="655.47" y="135.896838" transform="rotate(-0 655.47 135.896838)">1</text>
</g>
</g>
<g id="xtick_12">
<g id="line2d_24">
<g>
<use xlink:href="#m1504cfccaf" x="692.28" y="121.2984" style="stroke: #000000; stroke-width: 0.8"/>
</g>
</g>
<g id="text_24">
<text style="font-size: 10px; font-family: 'DejaVu Sans', sans-serif; text-anchor: middle" x="692.28" y="135.896838" transform="rotate(-0 692.28 135.896838)">2</text>
</g>
</g>
</g>
<g id="matplotlib.axis_6">
<g id="ytick_13">
<g id="line2d_25">
<g>
<use xlink:href="#m5d545ce8f8" x="618.66" y="121.2984" style="stroke: #000000; stroke-width: 0.8"/>
</g>
</g>
<g id="text_25">
<text style="font-size: 10px; font-family: 'DejaVu Sans', sans-serif; text-anchor: end" x="611.66" y="125.097619" transform="rotate(-0 611.66 125.097619)">0</text>
</g>
</g>
<g id="ytick_14">
<g id="line2d_26">
<g>
<use xlink:href="#m5d545ce8f8" x="618.66" y="97.7472" style="stroke: #000000; stroke-width: 0.8"/>
</g>
</g>
<g id="text_26">
<text style="font-size: 10px; font-family: 'DejaVu Sans', sans-serif; text-anchor: end" x="611.66" y="101.546419" transform="rotate(-0 611.66 101.546419)">20</text>
</g>
</g>
<g id="ytick_15">
<g id="line2d_27">
<g>
<use xlink:href="#m5d545ce8f8" x="618.66" y="74.196" style="stroke: #000000; stroke-width: 0.8"/>
</g>
</g>
<g id="text_27">
<text style="font-size: 10px; font-family: 'DejaVu Sans', sans-serif; text-anchor: end" x="611.66" y="77.995219" transform="rotate(-0 611.66 77.995219)">40</text>
</g>
</g>
<g id="ytick_16">
<g id="line2d_28">
<g>
<use xlink:href="#m5d545ce8f8" x="618.66" y="50.6448" style="stroke: #000000; stroke-width: 0.8"/>
</g>
</g>
<g id="text_28">
<text style="font-size: 10px; font-family: 'DejaVu Sans', sans-serif; text-anchor: end" x="611.66" y="54.444019" transform="rotate(-0 611.66 54.444019)">60</text>
</g>
</g>
<g id="ytick_17">
<g id="line2d_29">
<g>
<use xlink:href="#m5d545ce8f8" x="618.66" y="27.0936" style="stroke: #000000; stroke-width: 0.8"/>
</g>
</g>
<g id="text_29">
<text style="font-size: 10px; font-family: 'DejaVu Sans', sans-serif; text-anchor: end" x="611.66" y="30.892819" transform="rotate(-0 611.66 30.892819)">80</text>
</g>
</g>
<g id="ytick_18">
<g id="line2d_30">
<g>
<use xlink:href="#m5d545ce8f8" x="618.66" y="3.5424" style="stroke: #000000; stroke-width: 0.8"/>
</g>
</g>
<g id="text_30">
<text style="font-size: 10px; font-family: 'DejaVu Sans', sans-serif; text-anchor: end" x="611.66" y="7.341619" transform="rotate(-0 611.66 7.341619)">100</text>
</g>
</g>
</g>
<g id="line2d_31">
<path d="M 632.29 108.46 L 644.27 107.39 L 650.91 106.55 L 656.34 105.62 L 659.92 104.81 L 662.76 103.98 L 664.55 103.26 L 666.85 102.04 L 668.4 100.95 L 669.72 99.66 L 670.81 98.18 L 671.68 96.52 L 672.12 95.34 L 672.56 93.37 L 672.85 90.73 L 672.9 88.95 L 672.7 86.04 L 672.26 82.8 L 671.27 77.56 L 669.01 67.13 L 668.12 63.22 L 666.03 52.14 L 664.54 41.06 L 663.62 30.17 L 663.49 23.91 L 663.48 11.96 L 663.57 3.91 L 663.57 3.91 " clip-path="url(#p45e04ccfad)" style="fill: none; stroke: #1f77b4; stroke-width: 1.5; stroke-linecap: square"/>
</g>
<g id="patch_13">
<path d="M 618.66 121.3 L 618.66 3.54 " style="fill: none; stroke: #000000; stroke-width: 0.8; stroke-linejoin: miter; stroke-linecap: square"/>
</g>
<g id="patch_14">
<path d="M 692.28 121.3 L 692.28 3.54 " style="fill: none; stroke: #000000; stroke-width: 0.8; stroke-linejoin: miter; stroke-linecap: square"/>
</g>
<g id="patch_15">
<path d="M 618.66 121.3 L 692.28 121.3 " style="fill: none; stroke: #000000; stroke-width: 0.8; stroke-linejoin: miter; stroke-linecap: square"/>
</g>
<g id="patch_16">
<path d="M 618.66 3.54 L 692.28 3.54 " style="fill: none; stroke: #000000; stroke-width: 0.8; stroke-linejoin: miter; stroke-linecap: square"/>
</g>
</g>
<g id="axes_4">
<g id="patch_17">
<path d="M 55.55 271.04 L 354.38 271.04 L 354.38 153.28 L 55.55 153.28 L 55.55 271.04 z " style="fill: none; opacity: 0"/>
</g>
<g id="matplotlib.axis_7">
<g id="xtick_13">
<g id="line2d_32">
<g>
<use xlink:href="#m1504cfccaf" x="100.826182" y="271.0368" style="stroke: #000000; stroke-width: 0.8"/>
</g>
</g>
<g id="text_31">
<text style="font-size: 10px; font-family: 'DejaVu Sans', sans-serif; text-anchor: middle" x="100.826182" y="285.635238" transform="rotate(-0 100.826182 285.635238)">100</text>
</g>
</g>
<g id="xtick_14">
<g id="line2d_33">
<g>
<use xlink:href="#m1504cfccaf" x="146.104364" y="271.0368" style="stroke: #000000; stroke-width: 0.8"/>
</g>
</g>
<g id="text_32">
<text style="font-size: 10px; font-family: 'DejaVu Sans', sans-serif; text-anchor: middle" x="146.104364" y="285.635238" transform="rotate(-0 146.104364 285.635238)">200</text>
</g>
</g>
<g id="xtick_15">
<g id="line2d_34">
<g>
<use xlink:href="#m1504cfccaf" x="191.382545" y="271.0368" style="stroke: #000000; stroke-width: 0.8"/>
</g>
</g>
<g id="text_33">
<text style="font-size: 10px; font-family: 'DejaVu Sans', sans-serif; text-anchor: middle" x="191.382545" y="285.635238" transform="rotate(-0 191.382545 285.635238)">300</text>
</g>
</g>
<g id="xtick_16">
<g id="line2d_35">
<g>
<use xlink:href="#m1504cfccaf" x="236.660727" y="271.0368" style="stroke: #000000; stroke-width: 0.8"/>
</g>
</g>
<g id="text_34">
<text style="font-size: 10px; font-family: 'DejaVu Sans', sans-serif; text-anchor: middle" x="236.660727" y="285.635238" transform="rotate(-0 236.660727 285.635238)">400</text>
</g>
</g>
<g id="xtick_17">
<g id="line2d_36">
<g>
<use xlink:href="#m1504cfccaf" x="281.938909" y="271.0368" style="stroke: #000000; stroke-width: 0.8"/>
</g>
</g>
<g id="text_35">
<text style="font-size: 10px; font-family: 'DejaVu Sans', sans-serif; text-anchor: middle" x="281.938909" y="285.635238" transform="rotate(-0 281.938909 285.635238)">500</text>
</g>
</g>
<g id="xtick_18">
<g id="line2d_37">
<g>
<use xlink:href="#m1504cfccaf" x="327.217091" y="271.0368" style="stroke: #000000; stroke-width: 0.8"/>
</g>
</g>
<g id="text_36">
<text style="font-size: 10px; font-family: 'DejaVu Sans', sans-serif; text-anchor: middle" x="327.217091" y="285.635238" transform="rotate(-0 327.217091 285.635238)">600</text>
</g>
</g>
</g>
<g id="matplotlib.axis_8">
<g id="ytick_19">
<g id="line2d_38">
<g>
<use xlink:href="#m5d545ce8f8" x="55.548" y="271.0368" style="stroke: #000000; stroke-width: 0.8"/>
</g>
</g>
<g id="text_37">
<text style="font-size: 10px; font-family: 'DejaVu Sans', sans-serif; text-anchor: end" x="48.548" y="274.836019" transform="rotate(-0 48.548 274.836019)">0</text>
</g>
</g>
<g id="ytick_20">
<g id="line2d_39">
<g>
<use xlink:href="#m5d545ce8f8" x="55.548" y="247.4856" style="stroke: #000000; stroke-width: 0.8"/>
</g>
</g>
<g id="text_38">
<text style="font-size: 10px; font-family: 'DejaVu Sans', sans-serif; text-anchor: end" x="48.548" y="251.284819" transform="rotate(-0 48.548 251.284819)">20</text>
</g>
</g>
<g id="ytick_21">
<g id="line2d_40">
<g>
<use xlink:href="#m5d545ce8f8" x="55.548" y="223.9344" style="stroke: #000000; stroke-width: 0.8"/>
</g>
</g>
<g id="text_39">
<text style="font-size: 10px; font-family: 'DejaVu Sans', sans-serif; text-anchor: end" x="48.548" y="227.733619" transform="rotate(-0 48.548 227.733619)">40</text>
</g>
</g>
<g id="ytick_22">
<g id="line2d_41">
<g>
<use xlink:href="#m5d545ce8f8" x="55.548" y="200.3832" style="stroke: #000000; stroke-width: 0.8"/>
</g>
</g>
<g id="text_40">
<text style="font-size: 10px; font-family: 'DejaVu Sans', sans-serif; text-anchor: end" x="48.548" y="204.182419" transform="rotate(-0 48.548 204.182419)">60</text>
</g>
</g>
<g id="ytick_23">
<g id="line2d_42">
<g>
<use xlink:href="#m5d545ce8f8" x="55.548" y="176.832" style="stroke: #000000; stroke-width: 0.8"/>
</g>
</g>
<g id="text_41">
<text style="font-size: 10px; font-family: 'DejaVu Sans', sans-serif; text-anchor: end" x="48.548" y="180.631219" transform="rotate(-0 48.548 180.631219)">80</text>
</g>
</g>
<g id="ytick_24">
<g id="line2d_43">
<g>
<use xlink:href="#m5d545ce8f8" x="55.548" y="153.2808" style="stroke: #000000; stroke-width: 0.8"/>
</g>
</g>
<g id="text_42">
<text style="font-size: 10px; font-family: 'DejaVu Sans', sans-serif; text-anchor: end" x="48.548" y="157.080019" transform="rotate(-0 48.548 157.080019)">100</text>
</g>
</g>
<g id="ylab1" transform="translate(-1.764 -4.860)">
<!-- HOM$_{1/2DEM}$ -->
<g transform="translate(11.963 239.177) rotate(-90)">
<text>
<tspan x="0" y="-0.578125" style="font-size: 10px; font-family: 'DejaVu Sans'">H</tspan>
<tspan x="7.519531" y="-0.578125" style="font-size: 10px; font-family: 'DejaVu Sans'">O</tspan>
<tspan x="15.390625" y="-0.578125" style="font-size: 10px; font-family: 'DejaVu Sans'">M</tspan>
<tspan x="24.114258" y="1.0625" style="font-size: 7px; font-family: 'DejaVu Sans'">1</tspan>
<tspan x="28.567871" y="1.0625" style="font-size: 7px; font-family: 'DejaVu Sans'">/</tspan>
<tspan x="30.66377" y="1.0625" style="font-size: 7px; font-family: 'DejaVu Sans'">2</tspan>
<tspan x="35.117383" y="1.0625" style="font-style: oblique; font-size: 7px; font-family: 'DejaVu Sans'">D</tspan>
<tspan x="40.50752" y="1.0625" style="font-style: oblique; font-size: 7px; font-family: 'DejaVu Sans'">E</tspan>
<tspan x="44.930371" y="1.0625" style="font-style: oblique; font-size: 7px; font-family: 'DejaVu Sans'">M</tspan>
</text>
</g>
<text style="font-size: 10px; font-family: 'DejaVu Sans', sans-serif" transform="translate(23.380812 241.701769) rotate(-90)">altitude [m]</text>
</g>
</g>
<g id="patch_18">
<path d="M 55.55 271.04 L 55.55 153.28 " style="fill: none; stroke: #000000; stroke-width: 0.8; stroke-linejoin: miter; stroke-linecap: square"/>
</g>
<g id="patch_19">
<path d="M 354.38 271.04 L 354.38 153.28 " style="fill: none; stroke: #000000; stroke-width: 0.8; stroke-linejoin: miter; stroke-linecap: square"/>
</g>
<g id="patch_20">
<path d="M 55.55 271.04 L 354.38 271.04 " style="fill: none; stroke: #000000; stroke-width: 0.8; stroke-linejoin: miter; stroke-linecap: square"/>
</g>
<g id="patch_21">
<path d="M 55.55 153.28 L 354.38 153.28 " style="fill: none; stroke: #000000; stroke-width: 0.8; stroke-linejoin: miter; stroke-linecap: square"/>
</g>
</g>
<g id="axes_5">
<g id="patch_22">
<path d="M 393.48 271.04 L 579.53 271.04 L 579.53 153.28 L 393.48 153.28 L 393.48 271.04 z " style="fill: none; opacity: 0"/>
</g>
<g id="matplotlib.axis_9">
<g id="xtick_19">
<g id="line2d_44">
<g>
<use xlink:href="#m1504cfccaf" x="444.9016" y="271.0368" style="stroke: #000000; stroke-width: 0.8"/>
</g>
</g>
<g id="text_43">
<text style="font-size: 10px; font-family: 'DejaVu Sans', sans-serif; text-anchor: middle" x="444.9016" y="285.635238" transform="rotate(-0 444.9016 285.635238)">100</text>
</g>
</g>
<g id="xtick_20">
<g id="line2d_45">
<g>
<use xlink:href="#m1504cfccaf" x="496.5816" y="271.0368" style="stroke: #000000; stroke-width: 0.8"/>
</g>
</g>
<g id="text_44">
<text style="font-size: 10px; font-family: 'DejaVu Sans', sans-serif; text-anchor: middle" x="496.5816" y="285.635238" transform="rotate(-0 496.5816 285.635238)">200</text>
</g>
</g>
<g id="xtick_21">
<g id="line2d_46">
<g>
<use xlink:href="#m1504cfccaf" x="548.2616" y="271.0368" style="stroke: #000000; stroke-width: 0.8"/>
</g>
</g>
<g id="text_45">
<text style="font-size: 10px; font-family: 'DejaVu Sans', sans-serif; text-anchor: middle" x="548.2616" y="285.635238" transform="rotate(-0 548.2616 285.635238)">300</text>
</g>
</g>
</g>
<g id="matplotlib.axis_10">
<g id="ytick_25">
<g id="line2d_47">
<g>
<use xlink:href="#m5d545ce8f8" x="393.48" y="271.0368" style="stroke: #000000; stroke-width: 0.8"/>
</g>
</g>
<g id="text_46">
<text style="font-size: 10px; font-family: 'DejaVu Sans', sans-serif; text-anchor: end" x="386.48" y="274.836019" transform="rotate(-0 386.48 274.836019)">0</text>
</g>
</g>
<g id="ytick_26">
<g id="line2d_48">
<g>
<use xlink:href="#m5d545ce8f8" x="393.48" y="247.4856" style="stroke: #000000; stroke-width: 0.8"/>
</g>
</g>
<g id="text_47">
<text style="font-size: 10px; font-family: 'DejaVu Sans', sans-serif; text-anchor: end" x="386.48" y="251.284819" transform="rotate(-0 386.48 251.284819)">20</text>
</g>
</g>
<g id="ytick_27">
<g id="line2d_49">
<g>
<use xlink:href="#m5d545ce8f8" x="393.48" y="223.9344" style="stroke: #000000; stroke-width: 0.8"/>
</g>
</g>
<g id="text_48">
<text style="font-size: 10px; font-family: 'DejaVu Sans', sans-serif; text-anchor: end" x="386.48" y="227.733619" transform="rotate(-0 386.48 227.733619)">40</text>
</g>
</g>
<g id="ytick_28">
<g id="line2d_50">
<g>
<use xlink:href="#m5d545ce8f8" x="393.48" y="200.3832" style="stroke: #000000; stroke-width: 0.8"/>
</g>
</g>
<g id="text_49">
<text style="font-size: 10px; font-family: 'DejaVu Sans', sans-serif; text-anchor: end" x="386.48" y="204.182419" transform="rotate(-0 386.48 204.182419)">60</text>
</g>
</g>
<g id="ytick_29">
<g id="line2d_51">
<g>
<use xlink:href="#m5d545ce8f8" x="393.48" y="176.832" style="stroke: #000000; stroke-width: 0.8"/>
</g>
</g>
<g id="text_50">
<text style="font-size: 10px; font-family: 'DejaVu Sans', sans-serif; text-anchor: end" x="386.48" y="180.631219" transform="rotate(-0 386.48 180.631219)">80</text>
</g>
</g>
<g id="ytick_30">
<g id="line2d_52">
<g>
<use xlink:href="#m5d545ce8f8" x="393.48" y="153.2808" style="stroke: #000000; stroke-width: 0.8"/>
</g>
</g>
<g id="text_51">
<text style="font-size: 10px; font-family: 'DejaVu Sans', sans-serif; text-anchor: end" x="386.48" y="157.080019" transform="rotate(-0 386.48 157.080019)">100</text>
</g>
</g>
</g>
<g id="patch_23">
<path d="M 393.48 271.04 L 393.48 153.28 " style="fill: none; stroke: #000000; stroke-width: 0.8; stroke-linejoin: miter; stroke-linecap: square"/>
</g>
<g id="patch_24">
<path d="M 579.53 271.04 L 579.53 153.28 " style="fill: none; stroke: #000000; stroke-width: 0.8; stroke-linejoin: miter; stroke-linecap: square"/>
</g>
<g id="patch_25">
<path d="M 393.48 271.04 L 579.53 271.04 " style="fill: none; stroke: #000000; stroke-width: 0.8; stroke-linejoin: miter; stroke-linecap: square"/>
</g>
<g id="patch_26">
<path d="M 393.48 153.28 L 579.53 153.28 " style="fill: none; stroke: #000000; stroke-width: 0.8; stroke-linejoin: miter; stroke-linecap: square"/>
</g>
</g>
<g id="axes_6">
<g id="patch_27">
<path d="M 618.66 271.04 L 692.28 271.04 L 692.28 153.28 L 618.66 153.28 L 618.66 271.04 z " style="fill: none; opacity: 0"/>
</g>
<g id="matplotlib.axis_11">
<g id="xtick_22">
<g id="line2d_53">
<g>
<use xlink:href="#m1504cfccaf" x="618.66" y="271.0368" style="stroke: #000000; stroke-width: 0.8"/>
</g>
</g>
<g id="text_52">
<text style="font-size: 10px; font-family: 'DejaVu Sans', sans-serif; text-anchor: middle" x="618.66" y="285.635238" transform="rotate(-0 618.66 285.635238)">0</text>
</g>
</g>
<g id="xtick_23">
<g id="line2d_54">
<g>
<use xlink:href="#m1504cfccaf" x="655.47" y="271.0368" style="stroke: #000000; stroke-width: 0.8"/>
</g>
</g>
<g id="text_53">
<text style="font-size: 10px; font-family: 'DejaVu Sans', sans-serif; text-anchor: middle" x="655.47" y="285.635238" transform="rotate(-0 655.47 285.635238)">1</text>
</g>
</g>
<g id="xtick_24">
<g id="line2d_55">
<g>
<use xlink:href="#m1504cfccaf" x="692.28" y="271.0368" style="stroke: #000000; stroke-width: 0.8"/>
</g>
</g>
<g id="text_54">
<text style="font-size: 10px; font-family: 'DejaVu Sans', sans-serif; text-anchor: middle" x="692.28" y="285.635238" transform="rotate(-0 692.28 285.635238)">2</text>
</g>
</g>
</g>
<g id="matplotlib.axis_12">
<g id="ytick_31">
<g id="line2d_56">
<g>
<use xlink:href="#m5d545ce8f8" x="618.66" y="271.0368" style="stroke: #000000; stroke-width: 0.8"/>
</g>
</g>
<g id="text_55">
<text style="font-size: 10px; font-family: 'DejaVu Sans', sans-serif; text-anchor: end" x="611.66" y="274.836019" transform="rotate(-0 611.66 274.836019)">0</text>
</g>
</g>
<g id="ytick_32">
<g id="line2d_57">
<g>
<use xlink:href="#m5d545ce8f8" x="618.66" y="247.4856" style="stroke: #000000; stroke-width: 0.8"/>
</g>
</g>
<g id="text_56">
<text style="font-size: 10px; font-family: 'DejaVu Sans', sans-serif; text-anchor: end" x="611.66" y="251.284819" transform="rotate(-0 611.66 251.284819)">20</text>
</g>
</g>
<g id="ytick_33">
<g id="line2d_58">
<g>
<use xlink:href="#m5d545ce8f8" x="618.66" y="223.9344" style="stroke: #000000; stroke-width: 0.8"/>
</g>
</g>
<g id="text_57">
<text style="font-size: 10px; font-family: 'DejaVu Sans', sans-serif; text-anchor: end" x="611.66" y="227.733619" transform="rotate(-0 611.66 227.733619)">40</text>
</g>
</g>
<g id="ytick_34">
<g id="line2d_59">
<g>
<use xlink:href="#m5d545ce8f8" x="618.66" y="200.3832" style="stroke: #000000; stroke-width: 0.8"/>
</g>
</g>
<g id="text_58">
<text style="font-size: 10px; font-family: 'DejaVu Sans', sans-serif; text-anchor: end" x="611.66" y="204.182419" transform="rotate(-0 611.66 204.182419)">60</text>
</g>
</g>
<g id="ytick_35">
<g id="line2d_60">
<g>
<use xlink:href="#m5d545ce8f8" x="618.66" y="176.832" style="stroke: #000000; stroke-width: 0.8"/>
</g>
</g>
<g id="text_59">
<text style="font-size: 10px; font-family: 'DejaVu Sans', sans-serif; text-anchor: end" x="611.66" y="180.631219" transform="rotate(-0 611.66 180.631219)">80</text>
</g>
</g>
<g id="ytick_36">
<g id="line2d_61">
<g>
<use xlink:href="#m5d545ce8f8" x="618.66" y="153.2808" style="stroke: #000000; stroke-width: 0.8"/>
</g>
</g>
<g id="text_60">
<text style="font-size: 10px; font-family: 'DejaVu Sans', sans-serif; text-anchor: end" x="611.66" y="157.080019" transform="rotate(-0 611.66 157.080019)">100</text>
</g>
</g>
</g>
<g id="line2d_62">
<path d="M 626.81 258.2 L 632.81 256.89 L 634.1 256.33 L 638.02 254.29 L 641.06 253.34 L 645.84 251.94 L 646.62 251.53 L 646.89 251.21 L 646.89 250.64 L 646.74 250.39 L 646.17 249.94 L 646.19 249.78 L 646.71 249.37 L 648.48 248.55 L 650.51 247.59 L 651.54 246.89 L 652.85 245.67 L 654.43 243.8 L 655.04 242.71 L 655.23 242.03 L 655.07 241.67 L 654.47 241.09 L 654.51 240.92 L 655.09 240.51 L 656.96 239.75 L 660.57 238.37 L 664.48 236.63 L 667.81 234.81 L 670.35 233.17 L 672.62 231.41 L 674.1 230 L 675.28 228.51 L 676.2 226.93 L 676.87 225.35 L 677.23 223.76 L 677.37 221.67 L 677.34 219.42 L 676.89 215.68 L 676.11 211.01 L 672.72 193.41 L 670.13 174.51 L 669.46 165.38 L 669.29 159.41 L 669.2 153.65 L 669.2 153.65 " clip-path="url(#pb7a807e662)" style="fill: none; stroke: #1f77b4; stroke-width: 1.5; stroke-linecap: square"/>
</g>
<g id="patch_28">
<path d="M 618.66 271.04 L 618.66 153.28 " style="fill: none; stroke: #000000; stroke-width: 0.8; stroke-linejoin: miter; stroke-linecap: square"/>
</g>
<g id="patch_29">
<path d="M 692.28 271.04 L 692.28 153.28 " style="fill: none; stroke: #000000; stroke-width: 0.8; stroke-linejoin: miter; stroke-linecap: square"/>
</g>
<g id="patch_30">
<path d="M 618.66 271.04 L 692.28 271.04 " style="fill: none; stroke: #000000; stroke-width: 0.8; stroke-linejoin: miter; stroke-linecap: square"/>
</g>
<g id="patch_31">
<path d="M 618.66 153.28 L 692.28 153.28 " style="fill: none; stroke: #000000; stroke-width: 0.8; stroke-linejoin: miter; stroke-linecap: square"/>
</g>
</g>
<g id="axes_7">
<g id="patch_32">
<path d="M 55.55 420.78 L 354.38 420.78 L 354.38 303.02 L 55.55 303.02 L 55.55 420.78 z " style="fill: none; opacity: 0"/>
</g>
<g id="matplotlib.axis_13">
<g id="xtick_25">
<g id="line2d_63">
<g>
<use xlink:href="#m1504cfccaf" x="100.826182" y="420.7752" style="stroke: #000000; stroke-width: 0.8"/>
</g>
</g>
<g id="text_61">
<text style="font-size: 10px; font-family: 'DejaVu Sans', sans-serif; text-anchor: middle" x="100.826182" y="435.373638" transform="rotate(-0 100.826182 435.373638)">100</text>
</g>
</g>
<g id="xtick_26">
<g id="line2d_64">
<g>
<use xlink:href="#m1504cfccaf" x="146.104364" y="420.7752" style="stroke: #000000; stroke-width: 0.8"/>
</g>
</g>
<g id="text_62">
<text style="font-size: 10px; font-family: 'DejaVu Sans', sans-serif; text-anchor: middle" x="146.104364" y="435.373638" transform="rotate(-0 146.104364 435.373638)">200</text>
</g>
</g>
<g id="xtick_27">
<g id="line2d_65">
<g>
<use xlink:href="#m1504cfccaf" x="191.382545" y="420.7752" style="stroke: #000000; stroke-width: 0.8"/>
</g>
</g>
<g id="text_63">
<text style="font-size: 10px; font-family: 'DejaVu Sans', sans-serif; text-anchor: middle" x="191.382545" y="435.373638" transform="rotate(-0 191.382545 435.373638)">300</text>
</g>
</g>
<g id="xtick_28">
<g id="line2d_66">
<g>
<use xlink:href="#m1504cfccaf" x="236.660727" y="420.7752" style="stroke: #000000; stroke-width: 0.8"/>
</g>
</g>
<g id="text_64">
<text style="font-size: 10px; font-family: 'DejaVu Sans', sans-serif; text-anchor: middle" x="236.660727" y="435.373638" transform="rotate(-0 236.660727 435.373638)">400</text>
</g>
</g>
<g id="xtick_29">
<g id="line2d_67">
<g>
<use xlink:href="#m1504cfccaf" x="281.938909" y="420.7752" style="stroke: #000000; stroke-width: 0.8"/>
</g>
</g>
<g id="text_65">
<text style="font-size: 10px; font-family: 'DejaVu Sans', sans-serif; text-anchor: middle" x="281.938909" y="435.373638" transform="rotate(-0 281.938909 435.373638)">500</text>
</g>
</g>
<g id="xtick_30">
<g id="line2d_68">
<g>
<use xlink:href="#m1504cfccaf" x="327.217091" y="420.7752" style="stroke: #000000; stroke-width: 0.8"/>
</g>
</g>
<g id="text_66">
<text style="font-size: 10px; font-family: 'DejaVu Sans', sans-serif; text-anchor: middle" x="327.217091" y="435.373638" transform="rotate(-0 327.217091 435.373638)">600</text>
</g>
</g>
</g>
<g id="matplotlib.axis_14">
<g id="ytick_37">
<g id="line2d_69">
<g>
<use xlink:href="#m5d545ce8f8" x="55.548" y="420.7752" style="stroke: #000000; stroke-width: 0.8"/>
</g>
</g>
<g id="text_67">
<text style="font-size: 10px; font-family: 'DejaVu Sans', sans-serif; text-anchor: end" x="48.548" y="424.574419" transform="rotate(-0 48.548 424.574419)">0</text>
</g>
</g>
<g id="ytick_38">
<g id="line2d_70">
<g>
<use xlink:href="#m5d545ce8f8" x="55.548" y="397.224" style="stroke: #000000; stroke-width: 0.8"/>
</g>
</g>
<g id="text_68">
<text style="font-size: 10px; font-family: 'DejaVu Sans', sans-serif; text-anchor: end" x="48.548" y="401.023219" transform="rotate(-0 48.548 401.023219)">20</text>
</g>
</g>
<g id="ytick_39">
<g id="line2d_71">
<g>
<use xlink:href="#m5d545ce8f8" x="55.548" y="373.6728" style="stroke: #000000; stroke-width: 0.8"/>
</g>
</g>
<g id="text_69">
<text style="font-size: 10px; font-family: 'DejaVu Sans', sans-serif; text-anchor: end" x="48.548" y="377.472019" transform="rotate(-0 48.548 377.472019)">40</text>
</g>
</g>
<g id="ytick_40">
<g id="line2d_72">
<g>
<use xlink:href="#m5d545ce8f8" x="55.548" y="350.1216" style="stroke: #000000; stroke-width: 0.8"/>
</g>
</g>
<g id="text_70">
<text style="font-size: 10px; font-family: 'DejaVu Sans', sans-serif; text-anchor: end" x="48.548" y="353.920819" transform="rotate(-0 48.548 353.920819)">60</text>
</g>
</g>
<g id="ytick_41">
<g id="line2d_73">
<g>
<use xlink:href="#m5d545ce8f8" x="55.548" y="326.5704" style="stroke: #000000; stroke-width: 0.8"/>
</g>
</g>
<g id="text_71">
<text style="font-size: 10px; font-family: 'DejaVu Sans', sans-serif; text-anchor: end" x="48.548" y="330.369619" transform="rotate(-0 48.548 330.369619)">80</text>
</g>
</g>
<g id="ytick_42">
<g id="line2d_74">
<g>
<use xlink:href="#m5d545ce8f8" x="55.548" y="303.0192" style="stroke: #000000; stroke-width: 0.8"/>
</g>
</g>
<g id="text_72">
<text style="font-size: 10px; font-family: 'DejaVu Sans', sans-serif; text-anchor: end" x="48.548" y="306.818419" transform="rotate(-0 48.548 306.818419)">100</text>
</g>
</g>
<g id="ylab2" transform="translate(-1.764 -4.392)">
<!-- HOM$_{DEM}$ -->
<g transform="translate(12.183 383.631) rotate(-90)">
<text>
<tspan x="0" y="-0.578125" style="font-size: 10px; font-family: 'DejaVu Sans'">H</tspan>
<tspan x="7.519531" y="-0.578125" style="font-size: 10px; font-family: 'DejaVu Sans'">O</tspan>
<tspan x="15.390625" y="-0.578125" style="font-size: 10px; font-family: 'DejaVu Sans'">M</tspan>
<tspan x="24.114258" y="1.0625" style="font-style: oblique; font-size: 7px; font-family: 'DejaVu Sans'">D</tspan>
<tspan x="29.504395" y="1.0625" style="font-style: oblique; font-size: 7px; font-family: 'DejaVu Sans'">E</tspan>
<tspan x="33.927246" y="1.0625" style="font-style: oblique; font-size: 7px; font-family: 'DejaVu Sans'">M</tspan>
</text>
</g>
<text style="font-size: 10px; font-family: 'DejaVu Sans', sans-serif" transform="translate(23.380812 391.440169) rotate(-90)">altitude [m]</text>
</g>
</g>
<g id="patch_33">
<path d="M 55.55 420.78 L 55.55 303.02 " style="fill: none; stroke: #000000; stroke-width: 0.8; stroke-linejoin: miter; stroke-linecap: square"/>
</g>
<g id="patch_34">
<path d="M 354.38 420.78 L 354.38 303.02 " style="fill: none; stroke: #000000; stroke-width: 0.8; stroke-linejoin: miter; stroke-linecap: square"/>
</g>
<g id="patch_35">
<path d="M 55.55 420.78 L 354.38 420.78 " style="fill: none; stroke: #000000; stroke-width: 0.8; stroke-linejoin: miter; stroke-linecap: square"/>
</g>
<g id="patch_36">
<path d="M 55.55 303.02 L 354.38 303.02 " style="fill: none; stroke: #000000; stroke-width: 0.8; stroke-linejoin: miter; stroke-linecap: square"/>
</g>
</g>
<g id="axes_8">
<g id="patch_37">
<path d="M 393.48 420.78 L 579.53 420.78 L 579.53 303.02 L 393.48 303.02 L 393.48 420.78 z " style="fill: none; opacity: 0"/>
</g>
<g id="matplotlib.axis_15">
<g id="xtick_31">
<g id="line2d_75">
<g>
<use xlink:href="#m1504cfccaf" x="444.9016" y="420.7752" style="stroke: #000000; stroke-width: 0.8"/>
</g>
</g>
<g id="text_73">
<text style="font-size: 10px; font-family: 'DejaVu Sans', sans-serif; text-anchor: middle" x="444.9016" y="435.373638" transform="rotate(-0 444.9016 435.373638)">100</text>
</g>
</g>
<g id="xtick_32">
<g id="line2d_76">
<g>
<use xlink:href="#m1504cfccaf" x="496.5816" y="420.7752" style="stroke: #000000; stroke-width: 0.8"/>
</g>
</g>
<g id="text_74">
<text style="font-size: 10px; font-family: 'DejaVu Sans', sans-serif; text-anchor: middle" x="496.5816" y="435.373638" transform="rotate(-0 496.5816 435.373638)">200</text>
</g>
</g>
<g id="xtick_33">
<g id="line2d_77">
<g>
<use xlink:href="#m1504cfccaf" x="548.2616" y="420.7752" style="stroke: #000000; stroke-width: 0.8"/>
</g>
</g>
<g id="text_75">
<text style="font-size: 10px; font-family: 'DejaVu Sans', sans-serif; text-anchor: middle" x="548.2616" y="435.373638" transform="rotate(-0 548.2616 435.373638)">300</text>
</g>
</g>
</g>
<g id="matplotlib.axis_16">
<g id="ytick_43">
<g id="line2d_78">
<g>
<use xlink:href="#m5d545ce8f8" x="393.48" y="420.7752" style="stroke: #000000; stroke-width: 0.8"/>
</g>
</g>
<g id="text_76">
<text style="font-size: 10px; font-family: 'DejaVu Sans', sans-serif; text-anchor: end" x="386.48" y="424.574419" transform="rotate(-0 386.48 424.574419)">0</text>
</g>
</g>
<g id="ytick_44">
<g id="line2d_79">
<g>
<use xlink:href="#m5d545ce8f8" x="393.48" y="397.224" style="stroke: #000000; stroke-width: 0.8"/>
</g>
</g>
<g id="text_77">
<text style="font-size: 10px; font-family: 'DejaVu Sans', sans-serif; text-anchor: end" x="386.48" y="401.023219" transform="rotate(-0 386.48 401.023219)">20</text>
</g>
</g>
<g id="ytick_45">
<g id="line2d_80">
<g>
<use xlink:href="#m5d545ce8f8" x="393.48" y="373.6728" style="stroke: #000000; stroke-width: 0.8"/>
</g>
</g>
<g id="text_78">
<text style="font-size: 10px; font-family: 'DejaVu Sans', sans-serif; text-anchor: end" x="386.48" y="377.472019" transform="rotate(-0 386.48 377.472019)">40</text>
</g>
</g>
<g id="ytick_46">
<g id="line2d_81">
<g>
<use xlink:href="#m5d545ce8f8" x="393.48" y="350.1216" style="stroke: #000000; stroke-width: 0.8"/>
</g>
</g>
<g id="text_79">
<text style="font-size: 10px; font-family: 'DejaVu Sans', sans-serif; text-anchor: end" x="386.48" y="353.920819" transform="rotate(-0 386.48 353.920819)">60</text>
</g>
</g>
<g id="ytick_47">
<g id="line2d_82">
<g>
<use xlink:href="#m5d545ce8f8" x="393.48" y="326.5704" style="stroke: #000000; stroke-width: 0.8"/>
</g>
</g>
<g id="text_80">
<text style="font-size: 10px; font-family: 'DejaVu Sans', sans-serif; text-anchor: end" x="386.48" y="330.369619" transform="rotate(-0 386.48 330.369619)">80</text>
</g>
</g>
<g id="ytick_48">
<g id="line2d_83">
<g>
<use xlink:href="#m5d545ce8f8" x="393.48" y="303.0192" style="stroke: #000000; stroke-width: 0.8"/>
</g>
</g>
<g id="text_81">
<text style="font-size: 10px; font-family: 'DejaVu Sans', sans-serif; text-anchor: end" x="386.48" y="306.818419" transform="rotate(-0 386.48 306.818419)">100</text>
</g>
</g>
</g>
<g id="patch_38">
<path d="M 393.48 420.78 L 393.48 303.02 " style="fill: none; stroke: #000000; stroke-width: 0.8; stroke-linejoin: miter; stroke-linecap: square"/>
</g>
<g id="patch_39">
<path d="M 579.53 420.78 L 579.53 303.02 " style="fill: none; stroke: #000000; stroke-width: 0.8; stroke-linejoin: miter; stroke-linecap: square"/>
</g>
<g id="patch_40">
<path d="M 393.48 420.78 L 579.53 420.78 " style="fill: none; stroke: #000000; stroke-width: 0.8; stroke-linejoin: miter; stroke-linecap: square"/>
</g>
<g id="patch_41">
<path d="M 393.48 303.02 L 579.53 303.02 " style="fill: none; stroke: #000000; stroke-width: 0.8; stroke-linejoin: miter; stroke-linecap: square"/>
</g>
</g>
<g id="axes_9">
<g id="patch_42">
<path d="M 618.66 420.78 L 692.28 420.78 L 692.28 303.02 L 618.66 303.02 L 618.66 420.78 z " style="fill: none; opacity: 0"/>
</g>
<g id="matplotlib.axis_17">
<g id="xtick_34">
<g id="line2d_84">
<g>
<use xlink:href="#m1504cfccaf" x="618.66" y="420.7752" style="stroke: #000000; stroke-width: 0.8"/>
</g>
</g>
<g id="text_82">
<text style="font-size: 10px; font-family: 'DejaVu Sans', sans-serif; text-anchor: middle" x="618.66" y="435.373638" transform="rotate(-0 618.66 435.373638)">0</text>
</g>
</g>
<g id="xtick_35">
<g id="line2d_85">
<g>
<use xlink:href="#m1504cfccaf" x="655.47" y="420.7752" style="stroke: #000000; stroke-width: 0.8"/>
</g>
</g>
<g id="text_83">
<text style="font-size: 10px; font-family: 'DejaVu Sans', sans-serif; text-anchor: middle" x="655.47" y="435.373638" transform="rotate(-0 655.47 435.373638)">1</text>
</g>
</g>
<g id="xtick_36">
<g id="line2d_86">
<g>
<use xlink:href="#m1504cfccaf" x="692.28" y="420.7752" style="stroke: #000000; stroke-width: 0.8"/>
</g>
</g>
<g id="text_84">
<text style="font-size: 10px; font-family: 'DejaVu Sans', sans-serif; text-anchor: middle" x="692.28" y="435.373638" transform="rotate(-0 692.28 435.373638)">2</text>
</g>
</g>
</g>
<g id="matplotlib.axis_18">
<g id="ytick_49">
<g id="line2d_87">
<g>
<use xlink:href="#m5d545ce8f8" x="618.66" y="420.7752" style="stroke: #000000; stroke-width: 0.8"/>
</g>
</g>
<g id="text_85">
<text style="font-size: 10px; font-family: 'DejaVu Sans', sans-serif; text-anchor: end" x="611.66" y="424.574419" transform="rotate(-0 611.66 424.574419)">0</text>
</g>
</g>
<g id="ytick_50">
<g id="line2d_88">
<g>
<use xlink:href="#m5d545ce8f8" x="618.66" y="397.224" style="stroke: #000000; stroke-width: 0.8"/>
</g>
</g>
<g id="text_86">
<text style="font-size: 10px; font-family: 'DejaVu Sans', sans-serif; text-anchor: end" x="611.66" y="401.023219" transform="rotate(-0 611.66 401.023219)">20</text>
</g>
</g>
<g id="ytick_51">
<g id="line2d_89">
<g>
<use xlink:href="#m5d545ce8f8" x="618.66" y="373.6728" style="stroke: #000000; stroke-width: 0.8"/>
</g>
</g>
<g id="text_87">
<text style="font-size: 10px; font-family: 'DejaVu Sans', sans-serif; text-anchor: end" x="611.66" y="377.472019" transform="rotate(-0 611.66 377.472019)">40</text>
</g>
</g>
<g id="ytick_52">
<g id="line2d_90">
<g>
<use xlink:href="#m5d545ce8f8" x="618.66" y="350.1216" style="stroke: #000000; stroke-width: 0.8"/>
</g>
</g>
<g id="text_88">
<text style="font-size: 10px; font-family: 'DejaVu Sans', sans-serif; text-anchor: end" x="611.66" y="353.920819" transform="rotate(-0 611.66 353.920819)">60</text>
</g>
</g>
<g id="ytick_53">
<g id="line2d_91">
<g>
<use xlink:href="#m5d545ce8f8" x="618.66" y="326.5704" style="stroke: #000000; stroke-width: 0.8"/>
</g>
</g>
<g id="text_89">
<text style="font-size: 10px; font-family: 'DejaVu Sans', sans-serif; text-anchor: end" x="611.66" y="330.369619" transform="rotate(-0 611.66 330.369619)">80</text>
</g>
</g>
<g id="ytick_54">
<g id="line2d_92">
<g>
<use xlink:href="#m5d545ce8f8" x="618.66" y="303.0192" style="stroke: #000000; stroke-width: 0.8"/>
</g>
</g>
<g id="text_90">
<text style="font-size: 10px; font-family: 'DejaVu Sans', sans-serif; text-anchor: end" x="611.66" y="306.818419" transform="rotate(-0 611.66 306.818419)">100</text>
</g>
</g>
</g>
<g id="line2d_93">
<path d="M 626.65 407.94 L 638.54 405.33 L 640.63 404.48 L 642.49 403.52 L 643.24 402.98 L 643.36 402.77 L 643.32 402.58 L 642.91 402.27 L 642.24 401.83 L 642.25 401.51 L 642.71 401.01 L 643.76 400.37 L 644.77 400.03 L 646.43 399.54 L 647.91 398.8 L 650.16 397.43 L 651.42 396.38 L 652.28 395.29 L 652.8 394.2 L 652.91 393.51 L 652.78 392.81 L 652.1 391.25 L 651.69 390.59 L 651.33 390.05 L 651.32 389.69 L 651.57 389.31 L 652.57 388.55 L 655.49 386.32 L 655.95 385.73 L 656.3 384.76 L 656.62 383.76 L 657.01 383.1 L 659.2 380.17 L 660.29 377.53 L 661.49 375.61 L 662.03 375.1 L 662.53 374.68 L 662.44 374.43 L 661.71 374.04 L 661.03 373.65 L 660.99 373.4 L 661.16 373.2 L 662.14 372.68 L 665.04 371.27 L 667.74 369.87 L 669.47 368.63 L 670.87 367.26 L 671.87 366.02 L 675.92 360.01 L 677.54 357.32 L 678.03 356.22 L 678.55 354.35 L 678.89 352.2 L 679.08 349.74 L 679.1 345.75 L 678.93 342.5 L 678.62 339.89 L 676.42 326.2 L 675.7 319.03 L 674.39 305.05 L 674.26 303.39 L 674.26 303.39 " clip-path="url(#p02e786f5d9)" style="fill: none; stroke: #1f77b4; stroke-width: 1.5; stroke-linecap: square"/>
</g>
<g id="patch_43">
<path d="M 618.66 420.78 L 618.66 303.02 " style="fill: none; stroke: #000000; stroke-width: 0.8; stroke-linejoin: miter; stroke-linecap: square"/>
</g>
<g id="patch_44">
<path d="M 692.28 420.78 L 692.28 303.02 " style="fill: none; stroke: #000000; stroke-width: 0.8; stroke-linejoin: miter; stroke-linecap: square"/>
</g>
<g id="patch_45">
<path d="M 618.66 420.78 L 692.28 420.78 " style="fill: none; stroke: #000000; stroke-width: 0.8; stroke-linejoin: miter; stroke-linecap: square"/>
</g>
<g id="patch_46">
<path d="M 618.66 303.02 L 692.28 303.02 " style="fill: none; stroke: #000000; stroke-width: 0.8; stroke-linejoin: miter; stroke-linecap: square"/>
</g>
</g>
<g id="axes_10">
<g id="patch_47">
<path d="M 55.55 570.51 L 354.38 570.51 L 354.38 452.76 L 55.55 452.76 L 55.55 570.51 z " style="fill: none; opacity: 0"/>
</g>
<g id="matplotlib.axis_19">
<g id="xtick_37">
<g id="line2d_94">
<g>
<use xlink:href="#m1504cfccaf" x="100.826182" y="570.5136" style="stroke: #000000; stroke-width: 0.8"/>
</g>
</g>
<g id="text_91">
<text style="font-size: 10px; font-family: 'DejaVu Sans', sans-serif; text-anchor: middle" x="100.826182" y="585.112038" transform="rotate(-0 100.826182 585.112038)">100</text>
</g>
</g>
<g id="xtick_38">
<g id="line2d_95">
<g>
<use xlink:href="#m1504cfccaf" x="146.104364" y="570.5136" style="stroke: #000000; stroke-width: 0.8"/>
</g>
</g>
<g id="text_92">
<text style="font-size: 10px; font-family: 'DejaVu Sans', sans-serif; text-anchor: middle" x="146.104364" y="585.112038" transform="rotate(-0 146.104364 585.112038)">200</text>
</g>
</g>
<g id="xtick_39">
<g id="line2d_96">
<g>
<use xlink:href="#m1504cfccaf" x="191.382545" y="570.5136" style="stroke: #000000; stroke-width: 0.8"/>
</g>
</g>
<g id="text_93">
<text style="font-size: 10px; font-family: 'DejaVu Sans', sans-serif; text-anchor: middle" x="191.382545" y="585.112038" transform="rotate(-0 191.382545 585.112038)">300</text>
</g>
</g>
<g id="xtick_40">
<g id="line2d_97">
<g>
<use xlink:href="#m1504cfccaf" x="236.660727" y="570.5136" style="stroke: #000000; stroke-width: 0.8"/>
</g>
</g>
<g id="text_94">
<text style="font-size: 10px; font-family: 'DejaVu Sans', sans-serif; text-anchor: middle" x="236.660727" y="585.112038" transform="rotate(-0 236.660727 585.112038)">400</text>
</g>
</g>
<g id="xtick_41">
<g id="line2d_98">
<g>
<use xlink:href="#m1504cfccaf" x="281.938909" y="570.5136" style="stroke: #000000; stroke-width: 0.8"/>
</g>
</g>
<g id="text_95">
<text style="font-size: 10px; font-family: 'DejaVu Sans', sans-serif; text-anchor: middle" x="281.938909" y="585.112038" transform="rotate(-0 281.938909 585.112038)">500</text>
</g>
</g>
<g id="xtick_42">
<g id="line2d_99">
<g>
<use xlink:href="#m1504cfccaf" x="327.217091" y="570.5136" style="stroke: #000000; stroke-width: 0.8"/>
</g>
</g>
<g id="text_96">
<text style="font-size: 10px; font-family: 'DejaVu Sans', sans-serif; text-anchor: middle" x="327.217091" y="585.112038" transform="rotate(-0 327.217091 585.112038)">600</text>
</g>
</g>
</g>
<g id="matplotlib.axis_20">
<g id="ytick_55">
<g id="line2d_100">
<g>
<use xlink:href="#m5d545ce8f8" x="55.548" y="570.5136" style="stroke: #000000; stroke-width: 0.8"/>
</g>
</g>
<g id="text_97">
<text style="font-size: 10px; font-family: 'DejaVu Sans', sans-serif; text-anchor: end" x="48.548" y="574.312819" transform="rotate(-0 48.548 574.312819)">0</text>
</g>
</g>
<g id="ytick_56">
<g id="line2d_101">
<g>
<use xlink:href="#m5d545ce8f8" x="55.548" y="546.9624" style="stroke: #000000; stroke-width: 0.8"/>
</g>
</g>
<g id="text_98">
<text style="font-size: 10px; font-family: 'DejaVu Sans', sans-serif; text-anchor: end" x="48.548" y="550.761619" transform="rotate(-0 48.548 550.761619)">20</text>
</g>
</g>
<g id="ytick_57">
<g id="line2d_102">
<g>
<use xlink:href="#m5d545ce8f8" x="55.548" y="523.4112" style="stroke: #000000; stroke-width: 0.8"/>
</g>
</g>
<g id="text_99">
<text style="font-size: 10px; font-family: 'DejaVu Sans', sans-serif; text-anchor: end" x="48.548" y="527.210419" transform="rotate(-0 48.548 527.210419)">40</text>
</g>
</g>
<g id="ytick_58">
<g id="line2d_103">
<g>
<use xlink:href="#m5d545ce8f8" x="55.548" y="499.86" style="stroke: #000000; stroke-width: 0.8"/>
</g>
</g>
<g id="text_100">
<text style="font-size: 10px; font-family: 'DejaVu Sans', sans-serif; text-anchor: end" x="48.548" y="503.659219" transform="rotate(-0 48.548 503.659219)">60</text>
</g>
</g>
<g id="ytick_59">
<g id="line2d_104">
<g>
<use xlink:href="#m5d545ce8f8" x="55.548" y="476.3088" style="stroke: #000000; stroke-width: 0.8"/>
</g>
</g>
<g id="text_101">
<text style="font-size: 10px; font-family: 'DejaVu Sans', sans-serif; text-anchor: end" x="48.548" y="480.108019" transform="rotate(-0 48.548 480.108019)">80</text>
</g>
</g>
<g id="ytick_60">
<g id="line2d_105">
<g>
<use xlink:href="#m5d545ce8f8" x="55.548" y="452.7576" style="stroke: #000000; stroke-width: 0.8"/>
</g>
</g>
<g id="text_102">
<text style="font-size: 10px; font-family: 'DejaVu Sans', sans-serif; text-anchor: end" x="48.548" y="456.556819" transform="rotate(-0 48.548 456.556819)">100</text>
</g>
</g>
<g id="ylab3" transform="translate(-1.764 -5.472)">
<!-- HET$_{T}$ -->
<g transform="translate(12.183 528.436) rotate(-90)">
<text>
<tspan x="0" y="-0.703125" style="font-size: 10px; font-family: 'DejaVu Sans'">H</tspan>
<tspan x="7.519531" y="-0.703125" style="font-size: 10px; font-family: 'DejaVu Sans'">E</tspan>
<tspan x="13.837891" y="-0.703125" style="font-size: 10px; font-family: 'DejaVu Sans'">T</tspan>
<tspan x="20.041992" y="0.9375" style="font-style: oblique; font-size: 7px; font-family: 'DejaVu Sans'">T</tspan>
</text>
</g>
<text style="font-size: 10px; font-family: 'DejaVu Sans', sans-serif" transform="translate(23.380812 541.178569) rotate(-90)">altitude [m]</text>
</g>
</g>
<g id="patch_48">
<path d="M 55.55 570.51 L 55.55 452.76 " style="fill: none; stroke: #000000; stroke-width: 0.8; stroke-linejoin: miter; stroke-linecap: square"/>
</g>
<g id="patch_49">
<path d="M 354.38 570.51 L 354.38 452.76 " style="fill: none; stroke: #000000; stroke-width: 0.8; stroke-linejoin: miter; stroke-linecap: square"/>
</g>
<g id="patch_50">
<path d="M 55.55 570.51 L 354.38 570.51 " style="fill: none; stroke: #000000; stroke-width: 0.8; stroke-linejoin: miter; stroke-linecap: square"/>
</g>
<g id="patch_51">
<path d="M 55.55 452.76 L 354.38 452.76 " style="fill: none; stroke: #000000; stroke-width: 0.8; stroke-linejoin: miter; stroke-linecap: square"/>
</g>
</g>
<g id="axes_11">
<g id="patch_52">
<path d="M 393.48 570.51 L 579.53 570.51 L 579.53 452.76 L 393.48 452.76 L 393.48 570.51 z " style="fill: none; opacity: 0"/>
</g>
<g id="matplotlib.axis_21">
<g id="xtick_43">
<g id="line2d_106">
<g>
<use xlink:href="#m1504cfccaf" x="444.9016" y="570.5136" style="stroke: #000000; stroke-width: 0.8"/>
</g>
</g>
<g id="text_103">
<text style="font-size: 10px; font-family: 'DejaVu Sans', sans-serif; text-anchor: middle" x="444.9016" y="585.112038" transform="rotate(-0 444.9016 585.112038)">100</text>
</g>
</g>
<g id="xtick_44">
<g id="line2d_107">
<g>
<use xlink:href="#m1504cfccaf" x="496.5816" y="570.5136" style="stroke: #000000; stroke-width: 0.8"/>
</g>
</g>
<g id="text_104">
<text style="font-size: 10px; font-family: 'DejaVu Sans', sans-serif; text-anchor: middle" x="496.5816" y="585.112038" transform="rotate(-0 496.5816 585.112038)">200</text>
</g>
</g>
<g id="xtick_45">
<g id="line2d_108">
<g>
<use xlink:href="#m1504cfccaf" x="548.2616" y="570.5136" style="stroke: #000000; stroke-width: 0.8"/>
</g>
</g>
<g id="text_105">
<text style="font-size: 10px; font-family: 'DejaVu Sans', sans-serif; text-anchor: middle" x="548.2616" y="585.112038" transform="rotate(-0 548.2616 585.112038)">300</text>
</g>
</g>
</g>
<g id="matplotlib.axis_22">
<g id="ytick_61">
<g id="line2d_109">
<g>
<use xlink:href="#m5d545ce8f8" x="393.48" y="570.5136" style="stroke: #000000; stroke-width: 0.8"/>
</g>
</g>
<g id="text_106">
<text style="font-size: 10px; font-family: 'DejaVu Sans', sans-serif; text-anchor: end" x="386.48" y="574.312819" transform="rotate(-0 386.48 574.312819)">0</text>
</g>
</g>
<g id="ytick_62">
<g id="line2d_110">
<g>
<use xlink:href="#m5d545ce8f8" x="393.48" y="546.9624" style="stroke: #000000; stroke-width: 0.8"/>
</g>
</g>
<g id="text_107">
<text style="font-size: 10px; font-family: 'DejaVu Sans', sans-serif; text-anchor: end" x="386.48" y="550.761619" transform="rotate(-0 386.48 550.761619)">20</text>
</g>
</g>
<g id="ytick_63">
<g id="line2d_111">
<g>
<use xlink:href="#m5d545ce8f8" x="393.48" y="523.4112" style="stroke: #000000; stroke-width: 0.8"/>
</g>
</g>
<g id="text_108">
<text style="font-size: 10px; font-family: 'DejaVu Sans', sans-serif; text-anchor: end" x="386.48" y="527.210419" transform="rotate(-0 386.48 527.210419)">40</text>
</g>
</g>
<g id="ytick_64">
<g id="line2d_112">
<g>
<use xlink:href="#m5d545ce8f8" x="393.48" y="499.86" style="stroke: #000000; stroke-width: 0.8"/>
</g>
</g>
<g id="text_109">
<text style="font-size: 10px; font-family: 'DejaVu Sans', sans-serif; text-anchor: end" x="386.48" y="503.659219" transform="rotate(-0 386.48 503.659219)">60</text>
</g>
</g>
<g id="ytick_65">
<g id="line2d_113">
<g>
<use xlink:href="#m5d545ce8f8" x="393.48" y="476.3088" style="stroke: #000000; stroke-width: 0.8"/>
</g>
</g>
<g id="text_110">
<text style="font-size: 10px; font-family: 'DejaVu Sans', sans-serif; text-anchor: end" x="386.48" y="480.108019" transform="rotate(-0 386.48 480.108019)">80</text>
</g>
</g>
<g id="ytick_66">
<g id="line2d_114">
<g>
<use xlink:href="#m5d545ce8f8" x="393.48" y="452.7576" style="stroke: #000000; stroke-width: 0.8"/>
</g>
</g>
<g id="text_111">
<text style="font-size: 10px; font-family: 'DejaVu Sans', sans-serif; text-anchor: end" x="386.48" y="456.556819" transform="rotate(-0 386.48 456.556819)">100</text>
</g>
</g>
</g>
<g id="patch_53">
<path d="M 393.48 570.51 L 393.48 452.76 " style="fill: none; stroke: #000000; stroke-width: 0.8; stroke-linejoin: miter; stroke-linecap: square"/>
</g>
<g id="patch_54">
<path d="M 579.53 570.51 L 579.53 452.76 " style="fill: none; stroke: #000000; stroke-width: 0.8; stroke-linejoin: miter; stroke-linecap: square"/>
</g>
<g id="patch_55">
<path d="M 393.48 570.51 L 579.53 570.51 " style="fill: none; stroke: #000000; stroke-width: 0.8; stroke-linejoin: miter; stroke-linecap: square"/>
</g>
<g id="patch_56">
<path d="M 393.48 452.76 L 579.53 452.76 " style="fill: none; stroke: #000000; stroke-width: 0.8; stroke-linejoin: miter; stroke-linecap: square"/>
</g>
</g>
<g id="axes_12">
<g id="patch_57">
<path d="M 618.66 570.51 L 692.28 570.51 L 692.28 452.76 L 618.66 452.76 L 618.66 570.51 z " style="fill: none; opacity: 0"/>
</g>
<g id="matplotlib.axis_23">
<g id="xtick_46">
<g id="line2d_115">
<g>
<use xlink:href="#m1504cfccaf" x="618.66" y="570.5136" style="stroke: #000000; stroke-width: 0.8"/>
</g>
</g>
<g id="text_112">
<text style="font-size: 10px; font-family: 'DejaVu Sans', sans-serif; text-anchor: middle" x="618.66" y="585.112038" transform="rotate(-0 618.66 585.112038)">0</text>
</g>
</g>
<g id="xtick_47">
<g id="line2d_116">
<g>
<use xlink:href="#m1504cfccaf" x="655.47" y="570.5136" style="stroke: #000000; stroke-width: 0.8"/>
</g>
</g>
<g id="text_113">
<text style="font-size: 10px; font-family: 'DejaVu Sans', sans-serif; text-anchor: middle" x="655.47" y="585.112038" transform="rotate(-0 655.47 585.112038)">1</text>
</g>
</g>
<g id="xtick_48">
<g id="line2d_117">
<g>
<use xlink:href="#m1504cfccaf" x="692.28" y="570.5136" style="stroke: #000000; stroke-width: 0.8"/>
</g>
</g>
<g id="text_114">
<text style="font-size: 10px; font-family: 'DejaVu Sans', sans-serif; text-anchor: middle" x="692.28" y="585.112038" transform="rotate(-0 692.28 585.112038)">2</text>
</g>
</g>
</g>
<g id="matplotlib.axis_24">
<g id="ytick_67">
<g id="line2d_118">
<g>
<use xlink:href="#m5d545ce8f8" x="618.66" y="570.5136" style="stroke: #000000; stroke-width: 0.8"/>
</g>
</g>
<g id="text_115">
<text style="font-size: 10px; font-family: 'DejaVu Sans', sans-serif; text-anchor: end" x="611.66" y="574.312819" transform="rotate(-0 611.66 574.312819)">0</text>
</g>
</g>
<g id="ytick_68">
<g id="line2d_119">
<g>
<use xlink:href="#m5d545ce8f8" x="618.66" y="546.9624" style="stroke: #000000; stroke-width: 0.8"/>
</g>
</g>
<g id="text_116">
<text style="font-size: 10px; font-family: 'DejaVu Sans', sans-serif; text-anchor: end" x="611.66" y="550.761619" transform="rotate(-0 611.66 550.761619)">20</text>
</g>
</g>
<g id="ytick_69">
<g id="line2d_120">
<g>
<use xlink:href="#m5d545ce8f8" x="618.66" y="523.4112" style="stroke: #000000; stroke-width: 0.8"/>
</g>
</g>
<g id="text_117">
<text style="font-size: 10px; font-family: 'DejaVu Sans', sans-serif; text-anchor: end" x="611.66" y="527.210419" transform="rotate(-0 611.66 527.210419)">40</text>
</g>
</g>
<g id="ytick_70">
<g id="line2d_121">
<g>
<use xlink:href="#m5d545ce8f8" x="618.66" y="499.86" style="stroke: #000000; stroke-width: 0.8"/>
</g>
</g>
<g id="text_118">
<text style="font-size: 10px; font-family: 'DejaVu Sans', sans-serif; text-anchor: end" x="611.66" y="503.659219" transform="rotate(-0 611.66 503.659219)">60</text>
</g>
</g>
<g id="ytick_71">
<g id="line2d_122">
<g>
<use xlink:href="#m5d545ce8f8" x="618.66" y="476.3088" style="stroke: #000000; stroke-width: 0.8"/>
</g>
</g>
<g id="text_119">
<text style="font-size: 10px; font-family: 'DejaVu Sans', sans-serif; text-anchor: end" x="611.66" y="480.108019" transform="rotate(-0 611.66 480.108019)">80</text>
</g>
</g>
<g id="ytick_72">
<g id="line2d_123">
<g>
<use xlink:href="#m5d545ce8f8" x="618.66" y="452.7576" style="stroke: #000000; stroke-width: 0.8"/>
</g>
</g>
<g id="text_120">
<text style="font-size: 10px; font-family: 'DejaVu Sans', sans-serif; text-anchor: end" x="611.66" y="456.556819" transform="rotate(-0 611.66 456.556819)">100</text>
</g>
</g>
</g>
<g id="line2d_124">
<path d="M 627.18 557.67 L 633.33 556.37 L 634.79 555.83 L 635.86 555.24 L 637.03 554.3 L 637.71 553.47 L 638.02 552.72 L 637.84 552.34 L 636.72 551.42 L 636.82 551.09 L 637.28 550.6 L 638.31 549.96 L 642.89 547.9 L 645.84 546.2 L 647.72 544.91 L 648.45 544.12 L 648.75 543.49 L 648.93 542.47 L 648.93 540.94 L 648.67 539.66 L 648.85 539.02 L 649.21 538.5 L 650.01 537.86 L 651.64 536.96 L 654.22 535.59 L 655.09 534.93 L 655.88 533.95 L 656.79 532.65 L 658.48 531.02 L 659.4 530.04 L 659.99 529.08 L 660.7 527.78 L 661.31 527.05 L 664.09 524.3 L 664.15 524.07 L 663.89 523.76 L 663.05 523.26 L 663.29 522.95 L 665.1 521.95 L 669.83 519.35 L 672.18 517.69 L 673.48 516.48 L 674.88 514.85 L 677.13 511.79 L 679.07 508.82 L 680 507.09 L 680.65 505.49 L 681.2 503.44 L 681.49 501.4 L 681.56 498.75 L 681.49 494.83 L 681.23 491.79 L 680.66 488.18 L 679.63 483.11 L 677.66 474.69 L 676.72 470.35 L 675.61 463.51 L 674.96 458.89 L 674.42 453.13 L 674.42 453.13 " clip-path="url(#pafe864fa3a)" style="fill: none; stroke: #1f77b4; stroke-width: 1.5; stroke-linecap: square"/>
</g>
<g id="patch_58">
<path d="M 618.66 570.51 L 618.66 452.76 " style="fill: none; stroke: #000000; stroke-width: 0.8; stroke-linejoin: miter; stroke-linecap: square"/>
</g>
<g id="patch_59">
<path d="M 692.28 570.51 L 692.28 452.76 " style="fill: none; stroke: #000000; stroke-width: 0.8; stroke-linejoin: miter; stroke-linecap: square"/>
</g>
<g id="patch_60">
<path d="M 618.66 570.51 L 692.28 570.51 " style="fill: none; stroke: #000000; stroke-width: 0.8; stroke-linejoin: miter; stroke-linecap: square"/>
</g>
<g id="patch_61">
<path d="M 618.66 452.76 L 692.28 452.76 " style="fill: none; stroke: #000000; stroke-width: 0.8; stroke-linejoin: miter; stroke-linecap: square"/>
</g>
</g>
<g id="axes_13">
<g id="patch_62">
<path d="M 55.55 720.25 L 354.38 720.25 L 354.38 602.5 L 55.55 602.5 L 55.55 720.25 z " style="fill: none; opacity: 0"/>
</g>
<g id="matplotlib.axis_25">
<g id="xtick_49">
<g id="line2d_125">
<g>
<use xlink:href="#m1504cfccaf" x="100.826182" y="720.252" style="stroke: #000000; stroke-width: 0.8"/>
</g>
</g>
<g id="text_121">
<text style="font-size: 10px; font-family: 'DejaVu Sans', sans-serif; text-anchor: middle" x="100.826182" y="734.850437" transform="rotate(-0 100.826182 734.850437)">100</text>
</g>
</g>
<g id="xtick_50">
<g id="line2d_126">
<g>
<use xlink:href="#m1504cfccaf" x="146.104364" y="720.252" style="stroke: #000000; stroke-width: 0.8"/>
</g>
</g>
<g id="text_122">
<text style="font-size: 10px; font-family: 'DejaVu Sans', sans-serif; text-anchor: middle" x="146.104364" y="734.850437" transform="rotate(-0 146.104364 734.850437)">200</text>
</g>
</g>
<g id="xtick_51">
<g id="line2d_127">
<g>
<use xlink:href="#m1504cfccaf" x="191.382545" y="720.252" style="stroke: #000000; stroke-width: 0.8"/>
</g>
</g>
<g id="text_123">
<text style="font-size: 10px; font-family: 'DejaVu Sans', sans-serif; text-anchor: middle" x="191.382545" y="734.850437" transform="rotate(-0 191.382545 734.850437)">300</text>
</g>
</g>
<g id="xtick_52">
<g id="line2d_128">
<g>
<use xlink:href="#m1504cfccaf" x="236.660727" y="720.252" style="stroke: #000000; stroke-width: 0.8"/>
</g>
</g>
<g id="text_124">
<text style="font-size: 10px; font-family: 'DejaVu Sans', sans-serif; text-anchor: middle" x="236.660727" y="734.850437" transform="rotate(-0 236.660727 734.850437)">400</text>
</g>
</g>
<g id="xtick_53">
<g id="line2d_129">
<g>
<use xlink:href="#m1504cfccaf" x="281.938909" y="720.252" style="stroke: #000000; stroke-width: 0.8"/>
</g>
</g>
<g id="text_125">
<text style="font-size: 10px; font-family: 'DejaVu Sans', sans-serif; text-anchor: middle" x="281.938909" y="734.850437" transform="rotate(-0 281.938909 734.850437)">500</text>
</g>
</g>
<g id="xtick_54">
<g id="line2d_130">
<g>
<use xlink:href="#m1504cfccaf" x="327.217091" y="720.252" style="stroke: #000000; stroke-width: 0.8"/>
</g>
</g>
<g id="text_126">
<text style="font-size: 10px; font-family: 'DejaVu Sans', sans-serif; text-anchor: middle" x="327.217091" y="734.850437" transform="rotate(-0 327.217091 734.850437)">600</text>
</g>
</g>
</g>
<g id="matplotlib.axis_26">
<g id="ytick_73">
<g id="line2d_131">
<g>
<use xlink:href="#m5d545ce8f8" x="55.548" y="720.252" style="stroke: #000000; stroke-width: 0.8"/>
</g>
</g>
<g id="text_127">
<text style="font-size: 10px; font-family: 'DejaVu Sans', sans-serif; text-anchor: end" x="48.548" y="724.051219" transform="rotate(-0 48.548 724.051219)">0</text>
</g>
</g>
<g id="ytick_74">
<g id="line2d_132">
<g>
<use xlink:href="#m5d545ce8f8" x="55.548" y="696.7008" style="stroke: #000000; stroke-width: 0.8"/>
</g>
</g>
<g id="text_128">
<text style="font-size: 10px; font-family: 'DejaVu Sans', sans-serif; text-anchor: end" x="48.548" y="700.500019" transform="rotate(-0 48.548 700.500019)">20</text>
</g>
</g>
<g id="ytick_75">
<g id="line2d_133">
<g>
<use xlink:href="#m5d545ce8f8" x="55.548" y="673.1496" style="stroke: #000000; stroke-width: 0.8"/>
</g>
</g>
<g id="text_129">
<text style="font-size: 10px; font-family: 'DejaVu Sans', sans-serif; text-anchor: end" x="48.548" y="676.948819" transform="rotate(-0 48.548 676.948819)">40</text>
</g>
</g>
<g id="ytick_76">
<g id="line2d_134">
<g>
<use xlink:href="#m5d545ce8f8" x="55.548" y="649.5984" style="stroke: #000000; stroke-width: 0.8"/>
</g>
</g>
<g id="text_130">
<text style="font-size: 10px; font-family: 'DejaVu Sans', sans-serif; text-anchor: end" x="48.548" y="653.397619" transform="rotate(-0 48.548 653.397619)">60</text>
</g>
</g>
<g id="ytick_77">
<g id="line2d_135">
<g>
<use xlink:href="#m5d545ce8f8" x="55.548" y="626.0472" style="stroke: #000000; stroke-width: 0.8"/>
</g>
</g>
<g id="text_131">
<text style="font-size: 10px; font-family: 'DejaVu Sans', sans-serif; text-anchor: end" x="48.548" y="629.846419" transform="rotate(-0 48.548 629.846419)">80</text>
</g>
</g>
<g id="ytick_78">
<g id="line2d_136">
<g>
<use xlink:href="#m5d545ce8f8" x="55.548" y="602.496" style="stroke: #000000; stroke-width: 0.8"/>
</g>
</g>
<g id="text_132">
<text style="font-size: 10px; font-family: 'DejaVu Sans', sans-serif; text-anchor: end" x="48.548" y="606.295219" transform="rotate(-0 48.548 606.295219)">100</text>
</g>
</g>
<g id="ylab4" transform="translate(-1.764 -4.824)">
<!-- HET$_{qdry}$ -->
<g transform="translate(11.163 683.736) rotate(-90)">
<text>
<tspan x="0" y="-0.703125" style="font-size: 10px; font-family: 'DejaVu Sans'">H</tspan>
<tspan x="7.519531" y="-0.703125" style="font-size: 10px; font-family: 'DejaVu Sans'">E</tspan>
<tspan x="13.837891" y="-0.703125" style="font-size: 10px; font-family: 'DejaVu Sans'">T</tspan>
<tspan x="20.041992" y="0.9375" style="font-style: oblique; font-size: 7px; font-family: 'DejaVu Sans'">q</tspan>
<tspan x="24.485352" y="0.9375" style="font-style: oblique; font-size: 7px; font-family: 'DejaVu Sans'">d</tspan>
<tspan x="28.928711" y="0.9375" style="font-style: oblique; font-size: 7px; font-family: 'DejaVu Sans'">r</tspan>
<tspan x="31.806641" y="0.9375" style="font-style: oblique; font-size: 7px; font-family: 'DejaVu Sans'">y</tspan>
</text>
</g>
<text style="font-size: 10px; font-family: 'DejaVu Sans', sans-serif" transform="translate(23.380812 690.916969) rotate(-90)">altitude [m]</text>
</g>
</g>
<g id="patch_63">
<path d="M 55.55 720.25 L 55.55 602.5 " style="fill: none; stroke: #000000; stroke-width: 0.8; stroke-linejoin: miter; stroke-linecap: square"/>
</g>
<g id="patch_64">
<path d="M 354.38 720.25 L 354.38 602.5 " style="fill: none; stroke: #000000; stroke-width: 0.8; stroke-linejoin: miter; stroke-linecap: square"/>
</g>
<g id="patch_65">
<path d="M 55.55 720.25 L 354.38 720.25 " style="fill: none; stroke: #000000; stroke-width: 0.8; stroke-linejoin: miter; stroke-linecap: square"/>
</g>
<g id="patch_66">
<path d="M 55.55 602.5 L 354.38 602.5 " style="fill: none; stroke: #000000; stroke-width: 0.8; stroke-linejoin: miter; stroke-linecap: square"/>
</g>
</g>
<g id="axes_14">
<g id="patch_67">
<path d="M 393.48 720.25 L 579.53 720.25 L 579.53 602.5 L 393.48 602.5 L 393.48 720.25 z " style="fill: none; opacity: 0"/>
</g>
<g id="matplotlib.axis_27">
<g id="xtick_55">
<g id="line2d_137">
<g>
<use xlink:href="#m1504cfccaf" x="444.9016" y="720.252" style="stroke: #000000; stroke-width: 0.8"/>
</g>
</g>
<g id="text_133">
<text style="font-size: 10px; font-family: 'DejaVu Sans', sans-serif; text-anchor: middle" x="444.9016" y="734.850437" transform="rotate(-0 444.9016 734.850437)">100</text>
</g>
</g>
<g id="xtick_56">
<g id="line2d_138">
<g>
<use xlink:href="#m1504cfccaf" x="496.5816" y="720.252" style="stroke: #000000; stroke-width: 0.8"/>
</g>
</g>
<g id="text_134">
<text style="font-size: 10px; font-family: 'DejaVu Sans', sans-serif; text-anchor: middle" x="496.5816" y="734.850437" transform="rotate(-0 496.5816 734.850437)">200</text>
</g>
</g>
<g id="xtick_57">
<g id="line2d_139">
<g>
<use xlink:href="#m1504cfccaf" x="548.2616" y="720.252" style="stroke: #000000; stroke-width: 0.8"/>
</g>
</g>
<g id="text_135">
<text style="font-size: 10px; font-family: 'DejaVu Sans', sans-serif; text-anchor: middle" x="548.2616" y="734.850437" transform="rotate(-0 548.2616 734.850437)">300</text>
</g>
</g>
</g>
<g id="matplotlib.axis_28">
<g id="ytick_79">
<g id="line2d_140">
<g>
<use xlink:href="#m5d545ce8f8" x="393.48" y="720.252" style="stroke: #000000; stroke-width: 0.8"/>
</g>
</g>
<g id="text_136">
<text style="font-size: 10px; font-family: 'DejaVu Sans', sans-serif; text-anchor: end" x="386.48" y="724.051219" transform="rotate(-0 386.48 724.051219)">0</text>
</g>
</g>
<g id="ytick_80">
<g id="line2d_141">
<g>
<use xlink:href="#m5d545ce8f8" x="393.48" y="696.7008" style="stroke: #000000; stroke-width: 0.8"/>
</g>
</g>
<g id="text_137">
<text style="font-size: 10px; font-family: 'DejaVu Sans', sans-serif; text-anchor: end" x="386.48" y="700.500019" transform="rotate(-0 386.48 700.500019)">20</text>
</g>
</g>
<g id="ytick_81">
<g id="line2d_142">
<g>
<use xlink:href="#m5d545ce8f8" x="393.48" y="673.1496" style="stroke: #000000; stroke-width: 0.8"/>
</g>
</g>
<g id="text_138">
<text style="font-size: 10px; font-family: 'DejaVu Sans', sans-serif; text-anchor: end" x="386.48" y="676.948819" transform="rotate(-0 386.48 676.948819)">40</text>
</g>
</g>
<g id="ytick_82">
<g id="line2d_143">
<g>
<use xlink:href="#m5d545ce8f8" x="393.48" y="649.5984" style="stroke: #000000; stroke-width: 0.8"/>
</g>
</g>
<g id="text_139">
<text style="font-size: 10px; font-family: 'DejaVu Sans', sans-serif; text-anchor: end" x="386.48" y="653.397619" transform="rotate(-0 386.48 653.397619)">60</text>
</g>
</g>
<g id="ytick_83">
<g id="line2d_144">
<g>
<use xlink:href="#m5d545ce8f8" x="393.48" y="626.0472" style="stroke: #000000; stroke-width: 0.8"/>
</g>
</g>
<g id="text_140">
<text style="font-size: 10px; font-family: 'DejaVu Sans', sans-serif; text-anchor: end" x="386.48" y="629.846419" transform="rotate(-0 386.48 629.846419)">80</text>
</g>
</g>
<g id="ytick_84">
<g id="line2d_145">
<g>
<use xlink:href="#m5d545ce8f8" x="393.48" y="602.496" style="stroke: #000000; stroke-width: 0.8"/>
</g>
</g>
<g id="text_141">
<text style="font-size: 10px; font-family: 'DejaVu Sans', sans-serif; text-anchor: end" x="386.48" y="606.295219" transform="rotate(-0 386.48 606.295219)">100</text>
</g>
</g>
</g>
<g id="patch_68">
<path d="M 393.48 720.25 L 393.48 602.5 " style="fill: none; stroke: #000000; stroke-width: 0.8; stroke-linejoin: miter; stroke-linecap: square"/>
</g>
<g id="patch_69">
<path d="M 579.53 720.25 L 579.53 602.5 " style="fill: none; stroke: #000000; stroke-width: 0.8; stroke-linejoin: miter; stroke-linecap: square"/>
</g>
<g id="patch_70">
<path d="M 393.48 720.25 L 579.53 720.25 " style="fill: none; stroke: #000000; stroke-width: 0.8; stroke-linejoin: miter; stroke-linecap: square"/>
</g>
<g id="patch_71">
<path d="M 393.48 602.5 L 579.53 602.5 " style="fill: none; stroke: #000000; stroke-width: 0.8; stroke-linejoin: miter; stroke-linecap: square"/>
</g>
</g>
<g id="axes_15">
<g id="patch_72">
<path d="M 618.66 720.25 L 692.28 720.25 L 692.28 602.5 L 618.66 602.5 L 618.66 720.25 z " style="fill: none; opacity: 0"/>
</g>
<g id="matplotlib.axis_29">
<g id="xtick_58">
<g id="line2d_146">
<g>
<use xlink:href="#m1504cfccaf" x="618.66" y="720.252" style="stroke: #000000; stroke-width: 0.8"/>
</g>
</g>
<g id="text_142">
<text style="font-size: 10px; font-family: 'DejaVu Sans', sans-serif; text-anchor: middle" x="618.66" y="734.850437" transform="rotate(-0 618.66 734.850437)">0</text>
</g>
</g>
<g id="xtick_59">
<g id="line2d_147">
<g>
<use xlink:href="#m1504cfccaf" x="655.47" y="720.252" style="stroke: #000000; stroke-width: 0.8"/>
</g>
</g>
<g id="text_143">
<text style="font-size: 10px; font-family: 'DejaVu Sans', sans-serif; text-anchor: middle" x="655.47" y="734.850437" transform="rotate(-0 655.47 734.850437)">1</text>
</g>
</g>
<g id="xtick_60">
<g id="line2d_148">
<g>
<use xlink:href="#m1504cfccaf" x="692.28" y="720.252" style="stroke: #000000; stroke-width: 0.8"/>
</g>
</g>
<g id="text_144">
<text style="font-size: 10px; font-family: 'DejaVu Sans', sans-serif; text-anchor: middle" x="692.28" y="734.850437" transform="rotate(-0 692.28 734.850437)">2</text>
</g>
</g>
</g>
<g id="matplotlib.axis_30">
<g id="ytick_85">
<g id="line2d_149">
<g>
<use xlink:href="#m5d545ce8f8" x="618.66" y="720.252" style="stroke: #000000; stroke-width: 0.8"/>
</g>
</g>
<g id="text_145">
<text style="font-size: 10px; font-family: 'DejaVu Sans', sans-serif; text-anchor: end" x="611.66" y="724.051219" transform="rotate(-0 611.66 724.051219)">0</text>
</g>
</g>
<g id="ytick_86">
<g id="line2d_150">
<g>
<use xlink:href="#m5d545ce8f8" x="618.66" y="696.7008" style="stroke: #000000; stroke-width: 0.8"/>
</g>
</g>
<g id="text_146">
<text style="font-size: 10px; font-family: 'DejaVu Sans', sans-serif; text-anchor: end" x="611.66" y="700.500019" transform="rotate(-0 611.66 700.500019)">20</text>
</g>
</g>
<g id="ytick_87">
<g id="line2d_151">
<g>
<use xlink:href="#m5d545ce8f8" x="618.66" y="673.1496" style="stroke: #000000; stroke-width: 0.8"/>
</g>
</g>
<g id="text_147">
<text style="font-size: 10px; font-family: 'DejaVu Sans', sans-serif; text-anchor: end" x="611.66" y="676.948819" transform="rotate(-0 611.66 676.948819)">40</text>
</g>
</g>
<g id="ytick_88">
<g id="line2d_152">
<g>
<use xlink:href="#m5d545ce8f8" x="618.66" y="649.5984" style="stroke: #000000; stroke-width: 0.8"/>
</g>
</g>
<g id="text_148">
<text style="font-size: 10px; font-family: 'DejaVu Sans', sans-serif; text-anchor: end" x="611.66" y="653.397619" transform="rotate(-0 611.66 653.397619)">60</text>
</g>
</g>
<g id="ytick_89">
<g id="line2d_153">
<g>
<use xlink:href="#m5d545ce8f8" x="618.66" y="626.0472" style="stroke: #000000; stroke-width: 0.8"/>
</g>
</g>
<g id="text_149">
<text style="font-size: 10px; font-family: 'DejaVu Sans', sans-serif; text-anchor: end" x="611.66" y="629.846419" transform="rotate(-0 611.66 629.846419)">80</text>
</g>
</g>
<g id="ytick_90">
<g id="line2d_154">
<g>
<use xlink:href="#m5d545ce8f8" x="618.66" y="602.496" style="stroke: #000000; stroke-width: 0.8"/>
</g>
</g>
<g id="text_150">
<text style="font-size: 10px; font-family: 'DejaVu Sans', sans-serif; text-anchor: end" x="611.66" y="606.295219" transform="rotate(-0 611.66 606.295219)">100</text>
</g>
</g>
</g>
<g id="line2d_155">
<path d="M 625.4 707.41 L 634.8 705.51 L 636.72 704.91 L 638.51 704.02 L 640.02 703.02 L 640.63 702.46 L 640.74 702.24 L 640.56 701.89 L 639.85 701.31 L 639.93 700.99 L 640.45 700.5 L 641.31 700.01 L 642.55 699.54 L 645.84 698.55 L 648.55 697.36 L 650.01 696.46 L 651.35 695.34 L 652.45 694.1 L 652.88 693.33 L 652.93 692.63 L 652.67 691.95 L 652.1 690.73 L 651.79 689.41 L 652.1 688.9 L 652.91 688.26 L 655.85 686.41 L 656.59 685.65 L 657.04 684.86 L 658.06 682.55 L 659.8 679.98 L 660.12 678.74 L 660.44 677.69 L 661.19 676.28 L 662.18 674.38 L 662.24 673.79 L 661.88 673.46 L 660.97 673 L 661.07 672.78 L 661.55 672.48 L 666.54 669.81 L 668.19 668.78 L 669.45 667.73 L 671.1 665.85 L 672.7 663.73 L 674.25 661.33 L 675.75 658.65 L 676.58 656.74 L 677.11 654.94 L 677.55 652.66 L 677.75 650.61 L 677.74 647.88 L 677.53 644.57 L 677.21 642.09 L 676.23 637.22 L 674.49 629.3 L 672.85 621.64 L 671.88 616.16 L 671.37 612.22 L 670.46 602.86 L 670.46 602.86 " clip-path="url(#pe20534f97c)" style="fill: none; stroke: #1f77b4; stroke-width: 1.5; stroke-linecap: square"/>
</g>
<g id="patch_73">
<path d="M 618.66 720.25 L 618.66 602.5 " style="fill: none; stroke: #000000; stroke-width: 0.8; stroke-linejoin: miter; stroke-linecap: square"/>
</g>
<g id="patch_74">
<path d="M 692.28 720.25 L 692.28 602.5 " style="fill: none; stroke: #000000; stroke-width: 0.8; stroke-linejoin: miter; stroke-linecap: square"/>
</g>
<g id="patch_75">
<path d="M 618.66 720.25 L 692.28 720.25 " style="fill: none; stroke: #000000; stroke-width: 0.8; stroke-linejoin: miter; stroke-linecap: square"/>
</g>
<g id="patch_76">
<path d="M 618.66 602.5 L 692.28 602.5 " style="fill: none; stroke: #000000; stroke-width: 0.8; stroke-linejoin: miter; stroke-linecap: square"/>
</g>
</g>
<g id="axes_16">
<g id="patch_77">
<path d="M 55.55 869.99 L 354.38 869.99 L 354.38 752.23 L 55.55 752.23 L 55.55 869.99 z " style="fill: none; opacity: 0"/>
</g>
<g id="matplotlib.axis_31">
<g id="xtick_61">
<g id="line2d_156">
<g>
<use xlink:href="#m1504cfccaf" x="100.826182" y="869.9904" style="stroke: #000000; stroke-width: 0.8"/>
</g>
</g>
<g id="text_151">
<text style="font-size: 10px; font-family: 'DejaVu Sans', sans-serif; text-anchor: middle" x="100.826182" y="884.588838" transform="rotate(-0 100.826182 884.588838)">100</text>
</g>
</g>
<g id="xtick_62">
<g id="line2d_157">
<g>
<use xlink:href="#m1504cfccaf" x="146.104364" y="869.9904" style="stroke: #000000; stroke-width: 0.8"/>
</g>
</g>
<g id="text_152">
<text style="font-size: 10px; font-family: 'DejaVu Sans', sans-serif; text-anchor: middle" x="146.104364" y="884.588838" transform="rotate(-0 146.104364 884.588838)">200</text>
</g>
</g>
<g id="xtick_63">
<g id="line2d_158">
<g>
<use xlink:href="#m1504cfccaf" x="191.382545" y="869.9904" style="stroke: #000000; stroke-width: 0.8"/>
</g>
</g>
<g id="text_153">
<text style="font-size: 10px; font-family: 'DejaVu Sans', sans-serif; text-anchor: middle" x="191.382545" y="884.588838" transform="rotate(-0 191.382545 884.588838)">300</text>
</g>
</g>
<g id="xtick_64">
<g id="line2d_159">
<g>
<use xlink:href="#m1504cfccaf" x="236.660727" y="869.9904" style="stroke: #000000; stroke-width: 0.8"/>
</g>
</g>
<g id="text_154">
<text style="font-size: 10px; font-family: 'DejaVu Sans', sans-serif; text-anchor: middle" x="236.660727" y="884.588838" transform="rotate(-0 236.660727 884.588838)">400</text>
</g>
</g>
<g id="xtick_65">
<g id="line2d_160">
<g>
<use xlink:href="#m1504cfccaf" x="281.938909" y="869.9904" style="stroke: #000000; stroke-width: 0.8"/>
</g>
</g>
<g id="text_155">
<text style="font-size: 10px; font-family: 'DejaVu Sans', sans-serif; text-anchor: middle" x="281.938909" y="884.588838" transform="rotate(-0 281.938909 884.588838)">500</text>
</g>
</g>
<g id="xtick_66">
<g id="line2d_161">
<g>
<use xlink:href="#m1504cfccaf" x="327.217091" y="869.9904" style="stroke: #000000; stroke-width: 0.8"/>
</g>
</g>
<g id="text_156">
<text style="font-size: 10px; font-family: 'DejaVu Sans', sans-serif; text-anchor: middle" x="327.217091" y="884.588838" transform="rotate(-0 327.217091 884.588838)">600</text>
</g>
</g>
</g>
<g id="matplotlib.axis_32">
<g id="ytick_91">
<g id="line2d_162">
<g>
<use xlink:href="#m5d545ce8f8" x="55.548" y="869.9904" style="stroke: #000000; stroke-width: 0.8"/>
</g>
</g>
<g id="text_157">
<text style="font-size: 10px; font-family: 'DejaVu Sans', sans-serif; text-anchor: end" x="48.548" y="873.789619" transform="rotate(-0 48.548 873.789619)">0</text>
</g>
</g>
<g id="ytick_92">
<g id="line2d_163">
<g>
<use xlink:href="#m5d545ce8f8" x="55.548" y="846.4392" style="stroke: #000000; stroke-width: 0.8"/>
</g>
</g>
<g id="text_158">
<text style="font-size: 10px; font-family: 'DejaVu Sans', sans-serif; text-anchor: end" x="48.548" y="850.238419" transform="rotate(-0 48.548 850.238419)">20</text>
</g>
</g>
<g id="ytick_93">
<g id="line2d_164">
<g>
<use xlink:href="#m5d545ce8f8" x="55.548" y="822.888" style="stroke: #000000; stroke-width: 0.8"/>
</g>
</g>
<g id="text_159">
<text style="font-size: 10px; font-family: 'DejaVu Sans', sans-serif; text-anchor: end" x="48.548" y="826.687219" transform="rotate(-0 48.548 826.687219)">40</text>
</g>
</g>
<g id="ytick_94">
<g id="line2d_165">
<g>
<use xlink:href="#m5d545ce8f8" x="55.548" y="799.3368" style="stroke: #000000; stroke-width: 0.8"/>
</g>
</g>
<g id="text_160">
<text style="font-size: 10px; font-family: 'DejaVu Sans', sans-serif; text-anchor: end" x="48.548" y="803.136019" transform="rotate(-0 48.548 803.136019)">60</text>
</g>
</g>
<g id="ytick_95">
<g id="line2d_166">
<g>
<use xlink:href="#m5d545ce8f8" x="55.548" y="775.7856" style="stroke: #000000; stroke-width: 0.8"/>
</g>
</g>
<g id="text_161">
<text style="font-size: 10px; font-family: 'DejaVu Sans', sans-serif; text-anchor: end" x="48.548" y="779.584819" transform="rotate(-0 48.548 779.584819)">80</text>
</g>
</g>
<g id="ytick_96">
<g id="line2d_167">
<g>
<use xlink:href="#m5d545ce8f8" x="55.548" y="752.2344" style="stroke: #000000; stroke-width: 0.8"/>
</g>
</g>
<g id="text_162">
<text style="font-size: 10px; font-family: 'DejaVu Sans', sans-serif; text-anchor: end" x="48.548" y="756.033619" transform="rotate(-0 48.548 756.033619)">100</text>
</g>
</g>
<g id="ylab5" transform="translate(-1.764 -0.720)">
<!-- HET$_{qwet}$ -->
<g transform="translate(11.163 831.568) rotate(-90)">
<text>
<tspan x="0" y="-0.703125" style="font-size: 10px; font-family: 'DejaVu Sans'">H</tspan>
<tspan x="7.519531" y="-0.703125" style="font-size: 10px; font-family: 'DejaVu Sans'">E</tspan>
<tspan x="13.837891" y="-0.703125" style="font-size: 10px; font-family: 'DejaVu Sans'">T</tspan>
<tspan x="20.041992" y="0.9375" style="font-style: oblique; font-size: 7px; font-family: 'DejaVu Sans'">q</tspan>
<tspan x="24.485352" y="0.9375" style="font-style: oblique; font-size: 7px; font-family: 'DejaVu Sans'">w</tspan>
<tspan x="30.210449" y="0.9375" style="font-style: oblique; font-size: 7px; font-family: 'DejaVu Sans'">e</tspan>
<tspan x="34.51709" y="0.9375" style="font-style: oblique; font-size: 7px; font-family: 'DejaVu Sans'">t</tspan>
</text>
</g>
<text style="font-size: 10px; font-family: 'DejaVu Sans', sans-serif" transform="translate(23.380812 840.655369) rotate(-90)">altitude [m]</text>
</g>
</g>
<g id="patch_78">
<path d="M 55.55 869.99 L 55.55 752.23 " style="fill: none; stroke: #000000; stroke-width: 0.8; stroke-linejoin: miter; stroke-linecap: square"/>
</g>
<g id="patch_79">
<path d="M 354.38 869.99 L 354.38 752.23 " style="fill: none; stroke: #000000; stroke-width: 0.8; stroke-linejoin: miter; stroke-linecap: square"/>
</g>
<g id="patch_80">
<path d="M 55.55 869.99 L 354.38 869.99 " style="fill: none; stroke: #000000; stroke-width: 0.8; stroke-linejoin: miter; stroke-linecap: square"/>
</g>
<g id="patch_81">
<path d="M 55.55 752.23 L 354.38 752.23 " style="fill: none; stroke: #000000; stroke-width: 0.8; stroke-linejoin: miter; stroke-linecap: square"/>
</g>
</g>
<g id="axes_17">
<g id="patch_82">
<path d="M 393.48 869.99 L 579.53 869.99 L 579.53 752.23 L 393.48 752.23 L 393.48 869.99 z " style="fill: none; opacity: 0"/>
</g>
<g id="matplotlib.axis_33">
<g id="xtick_67">
<g id="line2d_168">
<g>
<use xlink:href="#m1504cfccaf" x="444.9016" y="869.9904" style="stroke: #000000; stroke-width: 0.8"/>
</g>
</g>
<g id="text_163">
<text style="font-size: 10px; font-family: 'DejaVu Sans', sans-serif; text-anchor: middle" x="444.9016" y="884.588838" transform="rotate(-0 444.9016 884.588838)">100</text>
</g>
</g>
<g id="xtick_68">
<g id="line2d_169">
<g>
<use xlink:href="#m1504cfccaf" x="496.5816" y="869.9904" style="stroke: #000000; stroke-width: 0.8"/>
</g>
</g>
<g id="text_164">
<text style="font-size: 10px; font-family: 'DejaVu Sans', sans-serif; text-anchor: middle" x="496.5816" y="884.588838" transform="rotate(-0 496.5816 884.588838)">200</text>
</g>
</g>
<g id="xtick_69">
<g id="line2d_170">
<g>
<use xlink:href="#m1504cfccaf" x="548.2616" y="869.9904" style="stroke: #000000; stroke-width: 0.8"/>
</g>
</g>
<g id="text_165">
<text style="font-size: 10px; font-family: 'DejaVu Sans', sans-serif; text-anchor: middle" x="548.2616" y="884.588838" transform="rotate(-0 548.2616 884.588838)">300</text>
</g>
</g>
</g>
<g id="matplotlib.axis_34">
<g id="ytick_97">
<g id="line2d_171">
<g>
<use xlink:href="#m5d545ce8f8" x="393.48" y="869.9904" style="stroke: #000000; stroke-width: 0.8"/>
</g>
</g>
<g id="text_166">
<text style="font-size: 10px; font-family: 'DejaVu Sans', sans-serif; text-anchor: end" x="386.48" y="873.789619" transform="rotate(-0 386.48 873.789619)">0</text>
</g>
</g>
<g id="ytick_98">
<g id="line2d_172">
<g>
<use xlink:href="#m5d545ce8f8" x="393.48" y="846.4392" style="stroke: #000000; stroke-width: 0.8"/>
</g>
</g>
<g id="text_167">
<text style="font-size: 10px; font-family: 'DejaVu Sans', sans-serif; text-anchor: end" x="386.48" y="850.238419" transform="rotate(-0 386.48 850.238419)">20</text>
</g>
</g>
<g id="ytick_99">
<g id="line2d_173">
<g>
<use xlink:href="#m5d545ce8f8" x="393.48" y="822.888" style="stroke: #000000; stroke-width: 0.8"/>
</g>
</g>
<g id="text_168">
<text style="font-size: 10px; font-family: 'DejaVu Sans', sans-serif; text-anchor: end" x="386.48" y="826.687219" transform="rotate(-0 386.48 826.687219)">40</text>
</g>
</g>
<g id="ytick_100">
<g id="line2d_174">
<g>
<use xlink:href="#m5d545ce8f8" x="393.48" y="799.3368" style="stroke: #000000; stroke-width: 0.8"/>
</g>
</g>
<g id="text_169">
<text style="font-size: 10px; font-family: 'DejaVu Sans', sans-serif; text-anchor: end" x="386.48" y="803.136019" transform="rotate(-0 386.48 803.136019)">60</text>
</g>
</g>
<g id="ytick_101">
<g id="line2d_175">
<g>
<use xlink:href="#m5d545ce8f8" x="393.48" y="775.7856" style="stroke: #000000; stroke-width: 0.8"/>
</g>
</g>
<g id="text_170">
<text style="font-size: 10px; font-family: 'DejaVu Sans', sans-serif; text-anchor: end" x="386.48" y="779.584819" transform="rotate(-0 386.48 779.584819)">80</text>
</g>
</g>
<g id="ytick_102">
<g id="line2d_176">
<g>
<use xlink:href="#m5d545ce8f8" x="393.48" y="752.2344" style="stroke: #000000; stroke-width: 0.8"/>
</g>
</g>
<g id="text_171">
<text style="font-size: 10px; font-family: 'DejaVu Sans', sans-serif; text-anchor: end" x="386.48" y="756.033619" transform="rotate(-0 386.48 756.033619)">100</text>
</g>
</g>
</g>
<g id="patch_83">
<path d="M 393.48 869.99 L 393.48 752.23 " style="fill: none; stroke: #000000; stroke-width: 0.8; stroke-linejoin: miter; stroke-linecap: square"/>
</g>
<g id="patch_84">
<path d="M 579.53 869.99 L 579.53 752.23 " style="fill: none; stroke: #000000; stroke-width: 0.8; stroke-linejoin: miter; stroke-linecap: square"/>
</g>
<g id="patch_85">
<path d="M 393.48 869.99 L 579.53 869.99 " style="fill: none; stroke: #000000; stroke-width: 0.8; stroke-linejoin: miter; stroke-linecap: square"/>
</g>
<g id="patch_86">
<path d="M 393.48 752.23 L 579.53 752.23 " style="fill: none; stroke: #000000; stroke-width: 0.8; stroke-linejoin: miter; stroke-linecap: square"/>
</g>
</g>
<g id="axes_18">
<g id="patch_87">
<path d="M 618.66 869.99 L 692.28 869.99 L 692.28 752.23 L 618.66 752.23 L 618.66 869.99 z " style="fill: none; opacity: 0"/>
</g>
<g id="matplotlib.axis_35">
<g id="xtick_70">
<g id="line2d_177">
<g>
<use xlink:href="#m1504cfccaf" x="618.66" y="869.9904" style="stroke: #000000; stroke-width: 0.8"/>
</g>
</g>
<g id="text_172">
<text style="font-size: 10px; font-family: 'DejaVu Sans', sans-serif; text-anchor: middle" x="618.66" y="884.588838" transform="rotate(-0 618.66 884.588838)">0</text>
</g>
</g>
<g id="xtick_71">
<g id="line2d_178">
<g>
<use xlink:href="#m1504cfccaf" x="655.47" y="869.9904" style="stroke: #000000; stroke-width: 0.8"/>
</g>
</g>
<g id="text_173">
<text style="font-size: 10px; font-family: 'DejaVu Sans', sans-serif; text-anchor: middle" x="655.47" y="884.588838" transform="rotate(-0 655.47 884.588838)">1</text>
</g>
</g>
<g id="xtick_72">
<g id="line2d_179">
<g>
<use xlink:href="#m1504cfccaf" x="692.28" y="869.9904" style="stroke: #000000; stroke-width: 0.8"/>
</g>
</g>
<g id="text_174">
<text style="font-size: 10px; font-family: 'DejaVu Sans', sans-serif; text-anchor: middle" x="692.28" y="884.588838" transform="rotate(-0 692.28 884.588838)">2</text>
</g>
</g>
</g>
<g id="matplotlib.axis_36">
<g id="ytick_103">
<g id="line2d_180">
<g>
<use xlink:href="#m5d545ce8f8" x="618.66" y="869.9904" style="stroke: #000000; stroke-width: 0.8"/>
</g>
</g>
<g id="text_175">
<text style="font-size: 10px; font-family: 'DejaVu Sans', sans-serif; text-anchor: end" x="611.66" y="873.789619" transform="rotate(-0 611.66 873.789619)">0</text>
</g>
</g>
<g id="ytick_104">
<g id="line2d_181">
<g>
<use xlink:href="#m5d545ce8f8" x="618.66" y="846.4392" style="stroke: #000000; stroke-width: 0.8"/>
</g>
</g>
<g id="text_176">
<text style="font-size: 10px; font-family: 'DejaVu Sans', sans-serif; text-anchor: end" x="611.66" y="850.238419" transform="rotate(-0 611.66 850.238419)">20</text>
</g>
</g>
<g id="ytick_105">
<g id="line2d_182">
<g>
<use xlink:href="#m5d545ce8f8" x="618.66" y="822.888" style="stroke: #000000; stroke-width: 0.8"/>
</g>
</g>
<g id="text_177">
<text style="font-size: 10px; font-family: 'DejaVu Sans', sans-serif; text-anchor: end" x="611.66" y="826.687219" transform="rotate(-0 611.66 826.687219)">40</text>
</g>
</g>
<g id="ytick_106">
<g id="line2d_183">
<g>
<use xlink:href="#m5d545ce8f8" x="618.66" y="799.3368" style="stroke: #000000; stroke-width: 0.8"/>
</g>
</g>
<g id="text_178">
<text style="font-size: 10px; font-family: 'DejaVu Sans', sans-serif; text-anchor: end" x="611.66" y="803.136019" transform="rotate(-0 611.66 803.136019)">60</text>
</g>
</g>
<g id="ytick_107">
<g id="line2d_184">
<g>
<use xlink:href="#m5d545ce8f8" x="618.66" y="775.7856" style="stroke: #000000; stroke-width: 0.8"/>
</g>
</g>
<g id="text_179">
<text style="font-size: 10px; font-family: 'DejaVu Sans', sans-serif; text-anchor: end" x="611.66" y="779.584819" transform="rotate(-0 611.66 779.584819)">80</text>
</g>
</g>
<g id="ytick_108">
<g id="line2d_185">
<g>
<use xlink:href="#m5d545ce8f8" x="618.66" y="752.2344" style="stroke: #000000; stroke-width: 0.8"/>
</g>
</g>
<g id="text_180">
<text style="font-size: 10px; font-family: 'DejaVu Sans', sans-serif; text-anchor: end" x="611.66" y="756.033619" transform="rotate(-0 611.66 756.033619)">100</text>
</g>
</g>
</g>
<g id="line2d_186">
<path d="M 625.14 857.15 L 634.08 855.41 L 636.09 854.87 L 638.02 854.09 L 639.92 853.08 L 641.15 852.2 L 641.28 851.98 L 641.26 851.79 L 640.92 851.47 L 640.38 851.05 L 640.46 850.73 L 641.04 850.24 L 642.51 849.43 L 648.21 846.9 L 649.75 845.94 L 650.85 844.89 L 651.59 843.78 L 651.84 843.07 L 651.77 842.38 L 651.23 841.37 L 650.8 840.46 L 650.62 839.37 L 650.83 838.91 L 651.41 838.33 L 653.06 837.29 L 654.81 836.15 L 655.55 835.39 L 655.98 834.59 L 656.79 832.64 L 657.58 831.63 L 658.88 830.04 L 659.27 829.1 L 659.71 827.8 L 660.22 827 L 662.79 823.78 L 662.81 823.52 L 662.49 823.2 L 661.49 822.74 L 661.62 822.41 L 662.15 822.06 L 664.46 820.83 L 667.74 819.09 L 669.42 817.91 L 670.49 816.9 L 671.65 815.46 L 673.22 813.04 L 677.13 806.57 L 677.8 804.93 L 678.33 802.91 L 678.63 800.88 L 678.69 798.23 L 678.59 794.98 L 678.28 791.84 L 675.04 772.68 L 673.69 764.02 L 672.96 758.08 L 672.59 752.6 L 672.59 752.6 " clip-path="url(#pc9ad5ee5af)" style="fill: none; stroke: #1f77b4; stroke-width: 1.5; stroke-linecap: square"/>
</g>
<g id="patch_88">
<path d="M 618.66 869.99 L 618.66 752.23 " style="fill: none; stroke: #000000; stroke-width: 0.8; stroke-linejoin: miter; stroke-linecap: square"/>
</g>
<g id="patch_89">
<path d="M 692.28 869.99 L 692.28 752.23 " style="fill: none; stroke: #000000; stroke-width: 0.8; stroke-linejoin: miter; stroke-linecap: square"/>
</g>
<g id="patch_90">
<path d="M 618.66 869.99 L 692.28 869.99 " style="fill: none; stroke: #000000; stroke-width: 0.8; stroke-linejoin: miter; stroke-linecap: square"/>
</g>
<g id="patch_91">
<path d="M 618.66 752.23 L 692.28 752.23 " style="fill: none; stroke: #000000; stroke-width: 0.8; stroke-linejoin: miter; stroke-linecap: square"/>
</g>
</g>
<g id="axes_19">
<g id="patch_92">
<path d="M 55.55 1019.73 L 354.38 1019.73 L 354.38 901.97 L 55.55 901.97 L 55.55 1019.73 z " style="fill: none; opacity: 0"/>
</g>
<g id="matplotlib.axis_37">
<g id="xtick_73">
<g id="line2d_187">
<g>
<use xlink:href="#m1504cfccaf" x="100.826182" y="1019.7288" style="stroke: #000000; stroke-width: 0.8"/>
</g>
</g>
<g id="text_181">
<text style="font-size: 10px; font-family: 'DejaVu Sans', sans-serif; text-anchor: middle" x="100.826182" y="1034.327238" transform="rotate(-0 100.826182 1034.327238)">100</text>
</g>
</g>
<g id="xtick_74">
<g id="line2d_188">
<g>
<use xlink:href="#m1504cfccaf" x="146.104364" y="1019.7288" style="stroke: #000000; stroke-width: 0.8"/>
</g>
</g>
<g id="text_182">
<text style="font-size: 10px; font-family: 'DejaVu Sans', sans-serif; text-anchor: middle" x="146.104364" y="1034.327238" transform="rotate(-0 146.104364 1034.327238)">200</text>
</g>
</g>
<g id="xtick_75">
<g id="line2d_189">
<g>
<use xlink:href="#m1504cfccaf" x="191.382545" y="1019.7288" style="stroke: #000000; stroke-width: 0.8"/>
</g>
</g>
<g id="text_183">
<text style="font-size: 10px; font-family: 'DejaVu Sans', sans-serif; text-anchor: middle" x="191.382545" y="1034.327238" transform="rotate(-0 191.382545 1034.327238)">300</text>
</g>
</g>
<g id="xtick_76">
<g id="line2d_190">
<g>
<use xlink:href="#m1504cfccaf" x="236.660727" y="1019.7288" style="stroke: #000000; stroke-width: 0.8"/>
</g>
</g>
<g id="text_184">
<text style="font-size: 10px; font-family: 'DejaVu Sans', sans-serif; text-anchor: middle" x="236.660727" y="1034.327238" transform="rotate(-0 236.660727 1034.327238)">400</text>
</g>
</g>
<g id="xtick_77">
<g id="line2d_191">
<g>
<use xlink:href="#m1504cfccaf" x="281.938909" y="1019.7288" style="stroke: #000000; stroke-width: 0.8"/>
</g>
</g>
<g id="text_185">
<text style="font-size: 10px; font-family: 'DejaVu Sans', sans-serif; text-anchor: middle" x="281.938909" y="1034.327238" transform="rotate(-0 281.938909 1034.327238)">500</text>
</g>
</g>
<g id="xtick_78">
<g id="line2d_192">
<g>
<use xlink:href="#m1504cfccaf" x="327.217091" y="1019.7288" style="stroke: #000000; stroke-width: 0.8"/>
</g>
</g>
<g id="text_186">
<text style="font-size: 10px; font-family: 'DejaVu Sans', sans-serif; text-anchor: middle" x="327.217091" y="1034.327238" transform="rotate(-0 327.217091 1034.327238)">600</text>
</g>
</g>
<g id="text_187">
<text style="font-size: 10px; font-family: 'DejaVu Sans', sans-serif; text-anchor: middle" x="204.966" y="1048.005363" transform="rotate(-0 204.966 1048.005363)">x [m]</text>
</g>
</g>
<g id="matplotlib.axis_38">
<g id="ytick_109">
<g id="line2d_193">
<g>
<use xlink:href="#m5d545ce8f8" x="55.548" y="1019.7288" style="stroke: #000000; stroke-width: 0.8"/>
</g>
</g>
<g id="text_188">
<text style="font-size: 10px; font-family: 'DejaVu Sans', sans-serif; text-anchor: end" x="48.548" y="1023.528019" transform="rotate(-0 48.548 1023.528019)">0</text>
</g>
</g>
<g id="ytick_110">
<g id="line2d_194">
<g>
<use xlink:href="#m5d545ce8f8" x="55.548" y="996.1776" style="stroke: #000000; stroke-width: 0.8"/>
</g>
</g>
<g id="text_189">
<text style="font-size: 10px; font-family: 'DejaVu Sans', sans-serif; text-anchor: end" x="48.548" y="999.976819" transform="rotate(-0 48.548 999.976819)">20</text>
</g>
</g>
<g id="ytick_111">
<g id="line2d_195">
<g>
<use xlink:href="#m5d545ce8f8" x="55.548" y="972.6264" style="stroke: #000000; stroke-width: 0.8"/>
</g>
</g>
<g id="text_190">
<text style="font-size: 10px; font-family: 'DejaVu Sans', sans-serif; text-anchor: end" x="48.548" y="976.425619" transform="rotate(-0 48.548 976.425619)">40</text>
</g>
</g>
<g id="ytick_112">
<g id="line2d_196">
<g>
<use xlink:href="#m5d545ce8f8" x="55.548" y="949.0752" style="stroke: #000000; stroke-width: 0.8"/>
</g>
</g>
<g id="text_191">
<text style="font-size: 10px; font-family: 'DejaVu Sans', sans-serif; text-anchor: end" x="48.548" y="952.874419" transform="rotate(-0 48.548 952.874419)">60</text>
</g>
</g>
<g id="ytick_113">
<g id="line2d_197">
<g>
<use xlink:href="#m5d545ce8f8" x="55.548" y="925.524" style="stroke: #000000; stroke-width: 0.8"/>
</g>
</g>
<g id="text_192">
<text style="font-size: 10px; font-family: 'DejaVu Sans', sans-serif; text-anchor: end" x="48.548" y="929.323219" transform="rotate(-0 48.548 929.323219)">80</text>
</g>
</g>
<g id="ytick_114">
<g id="line2d_198">
<g>
<use xlink:href="#m5d545ce8f8" x="55.548" y="901.9728" style="stroke: #000000; stroke-width: 0.8"/>
</g>
</g>
<g id="text_193">
<text style="font-size: 10px; font-family: 'DejaVu Sans', sans-serif; text-anchor: end" x="48.548" y="905.772019" transform="rotate(-0 48.548 905.772019)">100</text>
</g>
</g>
<g id="ylab6" transform="translate(-1.764 1.620)">
<text style="font-size: 10px; font-family: 'DejaVu Sans', sans-serif" transform="translate(12.183 974.555) rotate(-90)">REAL</text>
<text style="font-size: 10px; font-family: 'DejaVu Sans', sans-serif" transform="translate(23.380812 990.393769) rotate(-90)">altitude [m]</text>
</g>
</g>
<g id="patch_93">
<path d="M 55.55 1019.73 L 55.55 901.97 " style="fill: none; stroke: #000000; stroke-width: 0.8; stroke-linejoin: miter; stroke-linecap: square"/>
</g>
<g id="patch_94">
<path d="M 354.38 1019.73 L 354.38 901.97 " style="fill: none; stroke: #000000; stroke-width: 0.8; stroke-linejoin: miter; stroke-linecap: square"/>
</g>
<g id="patch_95">
<path d="M 55.55 1019.73 L 354.38 1019.73 " style="fill: none; stroke: #000000; stroke-width: 0.8; stroke-linejoin: miter; stroke-linecap: square"/>
</g>
<g id="patch_96">
<path d="M 55.55 901.97 L 354.38 901.97 " style="fill: none; stroke: #000000; stroke-width: 0.8; stroke-linejoin: miter; stroke-linecap: square"/>
</g>
</g>
<g id="axes_20">
<g id="patch_97">
<path d="M 393.48 1019.73 L 579.53 1019.73 L 579.53 901.97 L 393.48 901.97 L 393.48 1019.73 z " style="fill: none; opacity: 0"/>
</g>
<g id="matplotlib.axis_39">
<g id="xtick_79">
<g id="line2d_199">
<g>
<use xlink:href="#m1504cfccaf" x="444.9016" y="1019.7288" style="stroke: #000000; stroke-width: 0.8"/>
</g>
</g>
<g id="text_194">
<text style="font-size: 10px; font-family: 'DejaVu Sans', sans-serif; text-anchor: middle" x="444.9016" y="1034.327238" transform="rotate(-0 444.9016 1034.327238)">100</text>
</g>
</g>
<g id="xtick_80">
<g id="line2d_200">
<g>
<use xlink:href="#m1504cfccaf" x="496.5816" y="1019.7288" style="stroke: #000000; stroke-width: 0.8"/>
</g>
</g>
<g id="text_195">
<text style="font-size: 10px; font-family: 'DejaVu Sans', sans-serif; text-anchor: middle" x="496.5816" y="1034.327238" transform="rotate(-0 496.5816 1034.327238)">200</text>
</g>
</g>
<g id="xtick_81">
<g id="line2d_201">
<g>
<use xlink:href="#m1504cfccaf" x="548.2616" y="1019.7288" style="stroke: #000000; stroke-width: 0.8"/>
</g>
</g>
<g id="text_196">
<text style="font-size: 10px; font-family: 'DejaVu Sans', sans-serif; text-anchor: middle" x="548.2616" y="1034.327238" transform="rotate(-0 548.2616 1034.327238)">300</text>
</g>
</g>
<g id="text_197">
<text style="font-size: 10px; font-family: 'DejaVu Sans', sans-serif; text-anchor: middle" x="486.504" y="1048.005363" transform="rotate(-0 486.504 1048.005363)">y [m]</text>
</g>
</g>
<g id="matplotlib.axis_40">
<g id="ytick_115">
<g id="line2d_202">
<g>
<use xlink:href="#m5d545ce8f8" x="393.48" y="1019.7288" style="stroke: #000000; stroke-width: 0.8"/>
</g>
</g>
<g id="text_198">
<text style="font-size: 10px; font-family: 'DejaVu Sans', sans-serif; text-anchor: end" x="386.48" y="1023.528019" transform="rotate(-0 386.48 1023.528019)">0</text>
</g>
</g>
<g id="ytick_116">
<g id="line2d_203">
<g>
<use xlink:href="#m5d545ce8f8" x="393.48" y="996.1776" style="stroke: #000000; stroke-width: 0.8"/>
</g>
</g>
<g id="text_199">
<text style="font-size: 10px; font-family: 'DejaVu Sans', sans-serif; text-anchor: end" x="386.48" y="999.976819" transform="rotate(-0 386.48 999.976819)">20</text>
</g>
</g>
<g id="ytick_117">
<g id="line2d_204">
<g>
<use xlink:href="#m5d545ce8f8" x="393.48" y="972.6264" style="stroke: #000000; stroke-width: 0.8"/>
</g>
</g>
<g id="text_200">
<text style="font-size: 10px; font-family: 'DejaVu Sans', sans-serif; text-anchor: end" x="386.48" y="976.425619" transform="rotate(-0 386.48 976.425619)">40</text>
</g>
</g>
<g id="ytick_118">
<g id="line2d_205">
<g>
<use xlink:href="#m5d545ce8f8" x="393.48" y="949.0752" style="stroke: #000000; stroke-width: 0.8"/>
</g>
</g>
<g id="text_201">
<text style="font-size: 10px; font-family: 'DejaVu Sans', sans-serif; text-anchor: end" x="386.48" y="952.874419" transform="rotate(-0 386.48 952.874419)">60</text>
</g>
</g>
<g id="ytick_119">
<g id="line2d_206">
<g>
<use xlink:href="#m5d545ce8f8" x="393.48" y="925.524" style="stroke: #000000; stroke-width: 0.8"/>
</g>
</g>
<g id="text_202">
<text style="font-size: 10px; font-family: 'DejaVu Sans', sans-serif; text-anchor: end" x="386.48" y="929.323219" transform="rotate(-0 386.48 929.323219)">80</text>
</g>
</g>
<g id="ytick_120">
<g id="line2d_207">
<g>
<use xlink:href="#m5d545ce8f8" x="393.48" y="901.9728" style="stroke: #000000; stroke-width: 0.8"/>
</g>
</g>
<g id="text_203">
<text style="font-size: 10px; font-family: 'DejaVu Sans', sans-serif; text-anchor: end" x="386.48" y="905.772019" transform="rotate(-0 386.48 905.772019)">100</text>
</g>
</g>
</g>
<g id="patch_98">
<path d="M 393.48 1019.73 L 393.48 901.97 " style="fill: none; stroke: #000000; stroke-width: 0.8; stroke-linejoin: miter; stroke-linecap: square"/>
</g>
<g id="patch_99">
<path d="M 579.53 1019.73 L 579.53 901.97 " style="fill: none; stroke: #000000; stroke-width: 0.8; stroke-linejoin: miter; stroke-linecap: square"/>
</g>
<g id="patch_100">
<path d="M 393.48 1019.73 L 579.53 1019.73 " style="fill: none; stroke: #000000; stroke-width: 0.8; stroke-linejoin: miter; stroke-linecap: square"/>
</g>
<g id="patch_101">
<path d="M 393.48 901.97 L 579.53 901.97 " style="fill: none; stroke: #000000; stroke-width: 0.8; stroke-linejoin: miter; stroke-linecap: square"/>
</g>
</g>
<g id="axes_21">
<g id="patch_102">
<path d="M 618.66 1019.73 L 692.28 1019.73 L 692.28 901.97 L 618.66 901.97 L 618.66 1019.73 z " style="fill: none; opacity: 0"/>
</g>
<g id="matplotlib.axis_41">
<g id="xtick_82">
<g id="line2d_208">
<g>
<use xlink:href="#m1504cfccaf" x="618.66" y="1019.7288" style="stroke: #000000; stroke-width: 0.8"/>
</g>
</g>
<g id="text_204">
<text style="font-size: 10px; font-family: 'DejaVu Sans', sans-serif; text-anchor: middle" x="618.66" y="1034.327238" transform="rotate(-0 618.66 1034.327238)">0</text>
</g>
</g>
<g id="xtick_83">
<g id="line2d_209">
<g>
<use xlink:href="#m1504cfccaf" x="655.47" y="1019.7288" style="stroke: #000000; stroke-width: 0.8"/>
</g>
</g>
<g id="text_205">
<text style="font-size: 10px; font-family: 'DejaVu Sans', sans-serif; text-anchor: middle" x="655.47" y="1034.327238" transform="rotate(-0 655.47 1034.327238)">1</text>
</g>
</g>
<g id="xtick_84">
<g id="line2d_210">
<g>
<use xlink:href="#m1504cfccaf" x="692.28" y="1019.7288" style="stroke: #000000; stroke-width: 0.8"/>
</g>
</g>
<g id="text_206">
<text style="font-size: 10px; font-family: 'DejaVu Sans', sans-serif; text-anchor: middle" x="692.28" y="1034.327238" transform="rotate(-0 692.28 1034.327238)">2</text>
</g>
</g>
<g id="text_207">
<!-- U [m$\,$s$^{-1}$] -->
<g transform="translate(632.67 1048.727238)">
<text>
<tspan x="0" y="-0.064063" style="font-size: 10px; font-family: 'DejaVu Sans'">U</tspan>
<tspan x="7.319336" y="-0.064063" style="font-size: 10px; font-family: 'DejaVu Sans'"> </tspan>
<tspan x="10.498047" y="-0.064063" style="font-size: 10px; font-family: 'DejaVu Sans'">[</tspan>
<tspan x="14.399414" y="-0.064063" style="font-size: 10px; font-family: 'DejaVu Sans'">m</tspan>
<tspan x="25.764193" y="-0.064063" style="font-size: 10px; font-family: 'DejaVu Sans'">s</tspan>
<tspan x="41.662142" y="-0.064063" style="font-size: 10px; font-family: 'DejaVu Sans'">]</tspan>
<tspan x="31.069857" y="-3.892188" style="font-size: 7px; font-family: 'DejaVu Sans'">−</tspan>
<tspan x="36.935091" y="-3.892188" style="font-size: 7px; font-family: 'DejaVu Sans'">1</tspan>
</text>
</g>
</g>
</g>
<g id="matplotlib.axis_42">
<g id="ytick_121">
<g id="line2d_211">
<g>
<use xlink:href="#m5d545ce8f8" x="618.66" y="1019.7288" style="stroke: #000000; stroke-width: 0.8"/>
</g>
</g>
<g id="text_208">
<text style="font-size: 10px; font-family: 'DejaVu Sans', sans-serif; text-anchor: end" x="611.66" y="1023.528019" transform="rotate(-0 611.66 1023.528019)">0</text>
</g>
</g>
<g id="ytick_122">
<g id="line2d_212">
<g>
<use xlink:href="#m5d545ce8f8" x="618.66" y="996.1776" style="stroke: #000000; stroke-width: 0.8"/>
</g>
</g>
<g id="text_209">
<text style="font-size: 10px; font-family: 'DejaVu Sans', sans-serif; text-anchor: end" x="611.66" y="999.976819" transform="rotate(-0 611.66 999.976819)">20</text>
</g>
</g>
<g id="ytick_123">
<g id="line2d_213">
<g>
<use xlink:href="#m5d545ce8f8" x="618.66" y="972.6264" style="stroke: #000000; stroke-width: 0.8"/>
</g>
</g>
<g id="text_210">
<text style="font-size: 10px; font-family: 'DejaVu Sans', sans-serif; text-anchor: end" x="611.66" y="976.425619" transform="rotate(-0 611.66 976.425619)">40</text>
</g>
</g>
<g id="ytick_124">
<g id="line2d_214">
<g>
<use xlink:href="#m5d545ce8f8" x="618.66" y="949.0752" style="stroke: #000000; stroke-width: 0.8"/>
</g>
</g>
<g id="text_211">
<text style="font-size: 10px; font-family: 'DejaVu Sans', sans-serif; text-anchor: end" x="611.66" y="952.874419" transform="rotate(-0 611.66 952.874419)">60</text>
</g>
</g>
<g id="ytick_125">
<g id="line2d_215">
<g>
<use xlink:href="#m5d545ce8f8" x="618.66" y="925.524" style="stroke: #000000; stroke-width: 0.8"/>
</g>
</g>
<g id="text_212">
<text style="font-size: 10px; font-family: 'DejaVu Sans', sans-serif; text-anchor: end" x="611.66" y="929.323219" transform="rotate(-0 611.66 929.323219)">80</text>
</g>
</g>
<g id="ytick_126">
<g id="line2d_216">
<g>
<use xlink:href="#m5d545ce8f8" x="618.66" y="901.9728" style="stroke: #000000; stroke-width: 0.8"/>
</g>
</g>
<g id="text_213">
<text style="font-size: 10px; font-family: 'DejaVu Sans', sans-serif; text-anchor: end" x="611.66" y="905.772019" transform="rotate(-0 611.66 905.772019)">100</text>
</g>
</g>
</g>
<g id="line2d_217">
<path d="M 627.07 1006.89 L 633.9 1005.58 L 635.65 1004.91 L 637.09 1004.02 L 638.2 1003.1 L 638.97 1002.19 L 639.04 1001.72 L 638.65 1001.37 L 637.6 1000.79 L 637.49 1000.47 L 637.62 1000.13 L 638.09 999.64 L 638.8 999.2 L 642.44 997.74 L 645.34 996.01 L 647.65 994.39 L 648.71 993.41 L 649.16 992.72 L 649.36 991.97 L 649.5 989.71 L 649.44 989.13 L 649.7 988.67 L 650.51 988.02 L 652.82 986.73 L 655.2 985.39 L 656.14 984.63 L 656.6 983.95 L 657.31 982.38 L 658.29 981.39 L 659.92 979.77 L 660.34 978.94 L 660.75 977.79 L 661.28 976.99 L 664.09 973.52 L 664.15 973.25 L 663.9 972.92 L 663.05 972.47 L 663.18 972.16 L 663.68 971.82 L 666.18 970.49 L 669.83 968.56 L 671.77 967.24 L 673.04 966.14 L 674.4 964.65 L 676.25 962.22 L 679.62 957.45 L 680.52 955.76 L 681.09 954.19 L 681.56 952.14 L 681.8 950.09 L 681.81 947.41 L 681.56 944.5 L 681.02 940.76 L 679.89 935 L 676.32 917.7 L 675.28 911.01 L 674.76 906.47 L 674.42 902.34 L 674.42 902.34 " clip-path="url(#p84abc3dc18)" style="fill: none; stroke: #1f77b4; stroke-width: 1.5; stroke-linecap: square"/>
</g>
<g id="patch_103">
<path d="M 618.66 1019.73 L 618.66 901.97 " style="fill: none; stroke: #000000; stroke-width: 0.8; stroke-linejoin: miter; stroke-linecap: square"/>
</g>
<g id="patch_104">
<path d="M 692.28 1019.73 L 692.28 901.97 " style="fill: none; stroke: #000000; stroke-width: 0.8; stroke-linejoin: miter; stroke-linecap: square"/>
</g>
<g id="patch_105">
<path d="M 618.66 1019.73 L 692.28 1019.73 " style="fill: none; stroke: #000000; stroke-width: 0.8; stroke-linejoin: miter; stroke-linecap: square"/>
</g>
<g id="patch_106">
<path d="M 618.66 901.97 L 692.28 901.97 " style="fill: none; stroke: #000000; stroke-width: 0.8; stroke-linejoin: miter; stroke-linecap: square"/>
</g>
</g>
<g id="axes_22">
<g id="patch_107">
<path d="M 52.5 1087.38 L 332.84 1087.38 L 332.84 1076.69 L 52.5 1076.69 L 52.5 1087.38 z " style="fill: none"/>
</g>
<g id="patch_108">
<path d="M 52.5 1087.38 L 38.48 1082.03 L 52.5 1076.69 " style="fill: #fde725"/>
</g>
<g id="patch_109">
<path d="M 332.84 1087.38 L 346.86 1082.03 L 332.84 1076.69 " style="fill: #440154"/>
</g>
<g id="QuadMesh_1">
<path d="M 52.5 1087.38 L 52.5 1076.69 L 67.26 1076.69 L 67.26 1087.38 L 52.5 1087.38 " clip-path="url(#p2201f3f155)" style="fill: #efe51c; stroke: #efe51c"/>
<path d="M 67.26 1087.38 L 67.26 1076.69 L 82.01 1076.69 L 82.01 1087.38 L 67.26 1087.38 " clip-path="url(#p2201f3f155)" style="fill: #cae11f; stroke: #cae11f"/>
<path d="M 82.01 1087.38 L 82.01 1076.69 L 96.77 1076.69 L 96.77 1087.38 L 82.01 1087.38 " clip-path="url(#p2201f3f155)" style="fill: #a8db34; stroke: #a8db34"/>
<path d="M 96.77 1087.38 L 96.77 1076.69 L 111.52 1076.69 L 111.52 1087.38 L 96.77 1087.38 " clip-path="url(#p2201f3f155)" style="fill: #84d44b; stroke: #84d44b"/>
<path d="M 111.52 1087.38 L 111.52 1076.69 L 126.28 1076.69 L 126.28 1087.38 L 111.52 1087.38 " clip-path="url(#p2201f3f155)" style="fill: #65cb5e; stroke: #65cb5e"/>
<path d="M 126.28 1087.38 L 126.28 1076.69 L 141.03 1076.69 L 141.03 1087.38 L 126.28 1087.38 " clip-path="url(#p2201f3f155)" style="fill: #48c16e; stroke: #48c16e"/>
<path d="M 141.03 1087.38 L 141.03 1076.69 L 155.78 1076.69 L 155.78 1087.38 L 141.03 1087.38 " clip-path="url(#p2201f3f155)" style="fill: #32b67a; stroke: #32b67a"/>
<path d="M 155.78 1087.38 L 155.78 1076.69 L 170.54 1076.69 L 170.54 1087.38 L 155.78 1087.38 " clip-path="url(#p2201f3f155)" style="fill: #23a983; stroke: #23a983"/>
<path d="M 170.54 1087.38 L 170.54 1076.69 L 185.29 1076.69 L 185.29 1087.38 L 170.54 1087.38 " clip-path="url(#p2201f3f155)" style="fill: #1e9d89; stroke: #1e9d89"/>
<path d="M 185.29 1087.38 L 185.29 1076.69 L 200.05 1076.69 L 200.05 1087.38 L 185.29 1087.38 " clip-path="url(#p2201f3f155)" style="fill: #21918c; stroke: #21918c"/>
<path d="M 200.05 1087.38 L 200.05 1076.69 L 214.8 1076.69 L 214.8 1087.38 L 200.05 1087.38 " clip-path="url(#p2201f3f155)" style="fill: #25838e; stroke: #25838e"/>
<path d="M 214.8 1087.38 L 214.8 1076.69 L 229.56 1076.69 L 229.56 1087.38 L 214.8 1087.38 " clip-path="url(#p2201f3f155)" style="fill: #2a778e; stroke: #2a778e"/>
<path d="M 229.56 1087.38 L 229.56 1076.69 L 244.31 1076.69 L 244.31 1087.38 L 229.56 1087.38 " clip-path="url(#p2201f3f155)" style="fill: #306a8e; stroke: #306a8e"/>
<path d="M 244.31 1087.38 L 244.31 1076.69 L 259.07 1076.69 L 259.07 1087.38 L 244.31 1087.38 " clip-path="url(#p2201f3f155)" style="fill: #365d8d; stroke: #365d8d"/>
<path d="M 259.07 1087.38 L 259.07 1076.69 L 273.82 1076.69 L 273.82 1087.38 L 259.07 1087.38 " clip-path="url(#p2201f3f155)" style="fill: #3d4e8a; stroke: #3d4e8a"/>
<path d="M 273.82 1087.38 L 273.82 1076.69 L 288.58 1076.69 L 288.58 1087.38 L 273.82 1087.38 " clip-path="url(#p2201f3f155)" style="fill: #423f85; stroke: #423f85"/>
<path d="M 288.58 1087.38 L 288.58 1076.69 L 303.33 1076.69 L 303.33 1087.38 L 288.58 1087.38 " clip-path="url(#p2201f3f155)" style="fill: #472e7c; stroke: #472e7c"/>
<path d="M 303.33 1087.38 L 303.33 1076.69 L 318.09 1076.69 L 318.09 1087.38 L 303.33 1087.38 " clip-path="url(#p2201f3f155)" style="fill: #481d6f; stroke: #481d6f"/>
<path d="M 318.09 1087.38 L 318.09 1076.69 L 332.84 1076.69 L 332.84 1087.38 L 318.09 1087.38 " clip-path="url(#p2201f3f155)" style="fill: #460a5d; stroke: #460a5d"/>
</g>
<g id="matplotlib.axis_43">
<g id="xtick_85">
<g id="line2d_218">
<g>
<use xlink:href="#m1504cfccaf" x="52.501091" y="1087.38" style="stroke: #000000; stroke-width: 0.8"/>
</g>
</g>
<g id="text_214">
<text style="font-size: 10px; font-family: 'DejaVu Sans', sans-serif; text-anchor: middle" x="52.501091" y="1101.978438" transform="rotate(-0 52.501091 1101.978438)">0.5</text>
</g>
</g>
<g id="xtick_86">
<g id="line2d_219">
<g>
<use xlink:href="#m1504cfccaf" x="111.520421" y="1087.38" style="stroke: #000000; stroke-width: 0.8"/>
</g>
</g>
<g id="text_215">
<text style="font-size: 10px; font-family: 'DejaVu Sans', sans-serif; text-anchor: middle" x="111.520421" y="1101.978438" transform="rotate(-0 111.520421 1101.978438)">0.8</text>
</g>
</g>
<g id="xtick_87">
<g id="line2d_220">
<g>
<use xlink:href="#m1504cfccaf" x="170.539751" y="1087.38" style="stroke: #000000; stroke-width: 0.8"/>
</g>
</g>
<g id="text_216">
<text style="font-size: 10px; font-family: 'DejaVu Sans', sans-serif; text-anchor: middle" x="170.539751" y="1101.978438" transform="rotate(-0 170.539751 1101.978438)">1.1</text>
</g>
</g>
<g id="xtick_88">
<g id="line2d_221">
<g>
<use xlink:href="#m1504cfccaf" x="229.559081" y="1087.38" style="stroke: #000000; stroke-width: 0.8"/>
</g>
</g>
<g id="text_217">
<text style="font-size: 10px; font-family: 'DejaVu Sans', sans-serif; text-anchor: middle" x="229.559081" y="1101.978438" transform="rotate(-0 229.559081 1101.978438)">1.4</text>
</g>
</g>
<g id="xtick_89">
<g id="line2d_222">
<g>
<use xlink:href="#m1504cfccaf" x="288.578411" y="1087.38" style="stroke: #000000; stroke-width: 0.8"/>
</g>
</g>
<g id="text_218">
<text style="font-size: 10px; font-family: 'DejaVu Sans', sans-serif; text-anchor: middle" x="288.578411" y="1101.978438" transform="rotate(-0 288.578411 1101.978438)">1.7</text>
</g>
</g>
<g id="text_219">
<!-- U [m$\,$s$^{-1}$] -->
<g transform="translate(169.872 1116.378438)">
<text>
<tspan x="0" y="-0.064063" style="font-size: 10px; font-family: 'DejaVu Sans'">U</tspan>
<tspan x="7.319336" y="-0.064063" style="font-size: 10px; font-family: 'DejaVu Sans'"> </tspan>
<tspan x="10.498047" y="-0.064063" style="font-size: 10px; font-family: 'DejaVu Sans'">[</tspan>
<tspan x="14.399414" y="-0.064063" style="font-size: 10px; font-family: 'DejaVu Sans'">m</tspan>
<tspan x="25.764193" y="-0.064063" style="font-size: 10px; font-family: 'DejaVu Sans'">s</tspan>
<tspan x="41.662142" y="-0.064063" style="font-size: 10px; font-family: 'DejaVu Sans'">]</tspan>
<tspan x="31.069857" y="-3.892188" style="font-size: 7px; font-family: 'DejaVu Sans'">−</tspan>
<tspan x="36.935091" y="-3.892188" style="font-size: 7px; font-family: 'DejaVu Sans'">1</tspan>
</text>
</g>
</g>
</g>
<g id="matplotlib.axis_44"/>
<g id="LineCollection_1"/>
<g id="patch_110">
<path d="M 52.5 1087.38 L 38.48 1082.03 L 52.5 1076.69 L 332.84 1076.69 L 346.86 1082.03 L 332.84 1087.38 L 52.5 1087.38 z " style="fill: none; stroke: #000000; stroke-width: 0.8; stroke-linejoin: miter; stroke-linecap: square"/>
</g>
</g>
</g>
<defs>
<clipPath id="p45e04ccfad">
<rect x="618.66" y="3.5424" width="73.62" height="117.756"/>
</clipPath>
<clipPath id="pb7a807e662">
<rect x="618.66" y="153.2808" width="73.62" height="117.756"/>
</clipPath>
<clipPath id="p02e786f5d9">
<rect x="618.66" y="303.0192" width="73.62" height="117.756"/>
</clipPath>
<clipPath id="pafe864fa3a">
<rect x="618.66" y="452.7576" width="73.62" height="117.756"/>
</clipPath>
<clipPath id="pe20534f97c">
<rect x="618.66" y="602.496" width="73.62" height="117.756"/>
</clipPath>
<clipPath id="pc9ad5ee5af">
<rect x="618.66" y="752.2344" width="73.62" height="117.756"/>
</clipPath>
<clipPath id="p84abc3dc18">
<rect x="618.66" y="901.9728" width="73.62" height="117.756"/>
</clipPath>
<clipPath id="p2201f3f155">
<rect x="52.501091" y="1076.688" width="280.341818" height="10.692"/>
</clipPath>
</defs>
</svg>

</svg>
</body></html>
